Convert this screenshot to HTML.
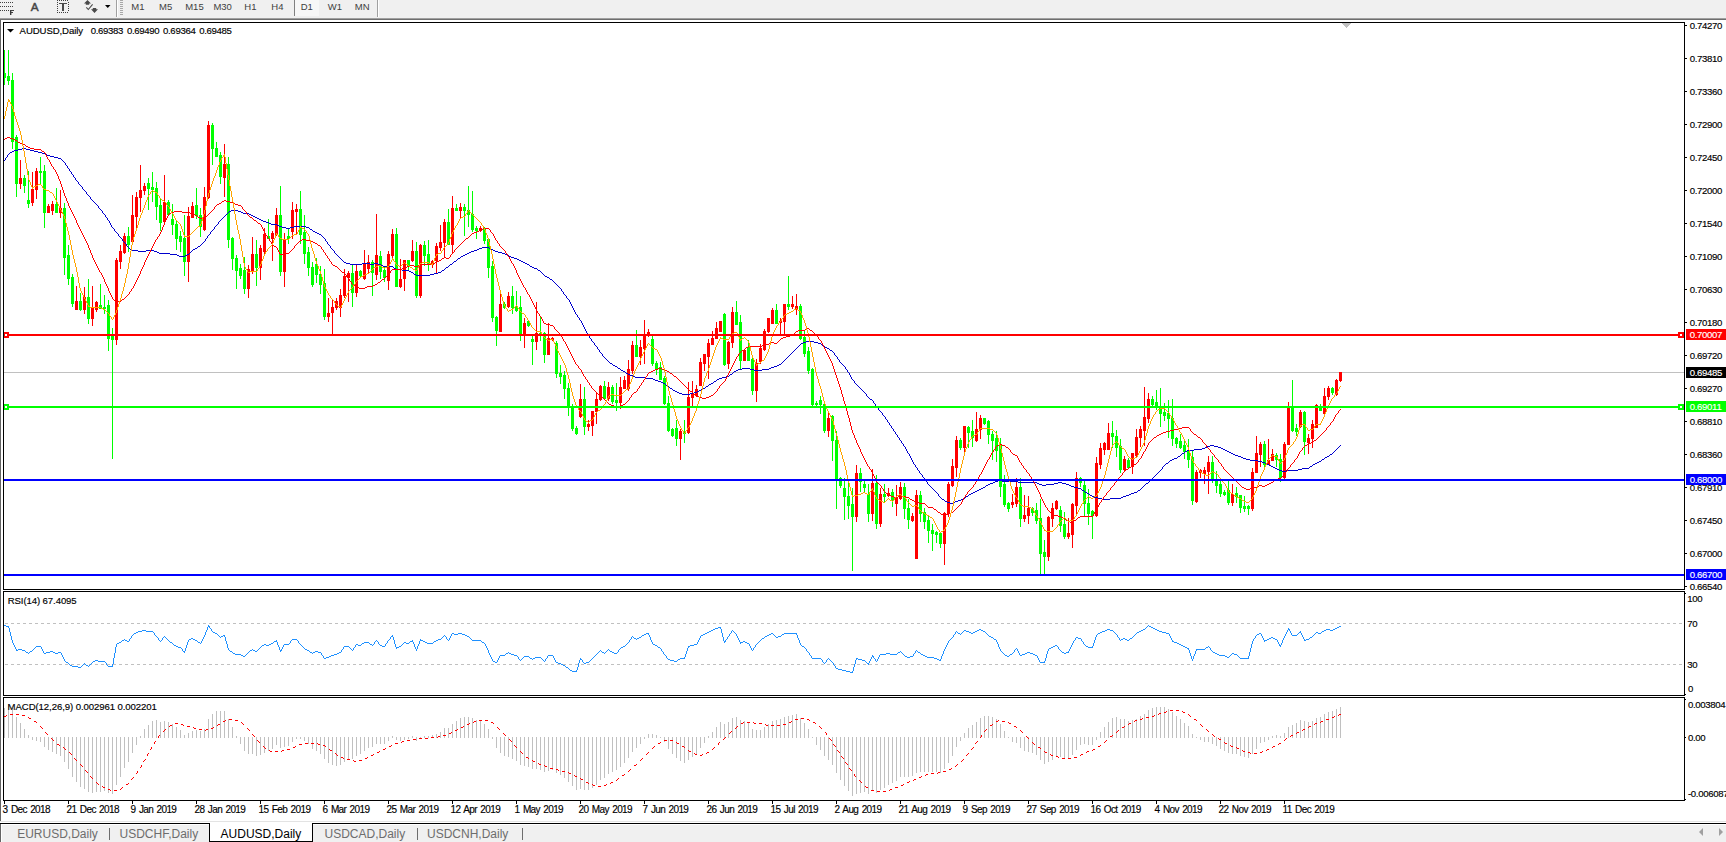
<!DOCTYPE html>
<html><head><meta charset="utf-8"><style>
html,body{margin:0;padding:0;background:#fff;}
body{width:1726px;height:842px;overflow:hidden;}
svg{display:block;font-family:"Liberation Sans",sans-serif;}
</style></head><body>
<svg width="1726" height="842" viewBox="0 0 1726 842">
<rect x="0" y="0" width="1726" height="18" fill="#f0f0f0"/>
<rect x="0" y="18" width="1726" height="1" fill="#a0a0a0"/>
<rect x="0" y="19" width="1726" height="1" fill="#6e6e6e"/>
<rect x="0" y="20" width="1726" height="801" fill="#ffffff"/>
<rect x="0" y="20" width="1" height="801" fill="#646464"/>
<rect x="0" y="821" width="1726" height="1" fill="#e3e3e3"/>
<rect x="0" y="822" width="1726" height="1" fill="#ffffff"/>
<rect x="0" y="823" width="1726" height="19" fill="#f0f0f0"/>
<rect x="0" y="823" width="1726" height="1" fill="#000000"/>
<rect x="0" y="824" width="1726" height="1" fill="#ffffff"/>
<rect x="0" y="824" width="1" height="18" fill="#646464"/>
<rect x="1" y="825" width="1" height="17" fill="#ffffff"/>
<rect x="3" y="22" width="1682" height="1" fill="#000"/>
<rect x="3" y="589" width="1682" height="1" fill="#000"/>
<rect x="3" y="22" width="1" height="568" fill="#000"/>
<rect x="1684" y="22" width="1" height="568" fill="#000"/>
<rect x="3" y="591" width="1682" height="1" fill="#000"/>
<rect x="3" y="695" width="1682" height="1" fill="#000"/>
<rect x="3" y="591" width="1" height="105" fill="#000"/>
<rect x="1684" y="591" width="1" height="105" fill="#000"/>
<rect x="3" y="697" width="1682" height="1" fill="#000"/>
<rect x="3" y="800" width="1682" height="1" fill="#000"/>
<rect x="3" y="697" width="1" height="104" fill="#000"/>
<rect x="1684" y="697" width="1" height="104" fill="#000"/>
<defs><clipPath id="cm"><rect x="4" y="23" width="1680" height="566"/></clipPath><clipPath id="cr"><rect x="4" y="592" width="1680" height="103"/></clipPath><clipPath id="cd"><rect x="4" y="698" width="1680" height="102"/></clipPath></defs>
<g clip-path="url(#cm)" shape-rendering="crispEdges">
<rect x="4" y="372" width="1680" height="1" fill="#c0c0c0"/>
<rect x="4" y="50" width="1" height="35" fill="#00ff00"/>
<rect x="3" y="73" width="3" height="5" fill="#00ff00"/>
<rect x="8" y="50" width="1" height="35" fill="#00ff00"/>
<rect x="7" y="76" width="3" height="5" fill="#00ff00"/>
<rect x="12" y="73" width="1" height="76" fill="#00ff00"/>
<rect x="11" y="80" width="3" height="62" fill="#00ff00"/>
<rect x="16" y="135" width="1" height="62" fill="#00ff00"/>
<rect x="15" y="137" width="3" height="47" fill="#00ff00"/>
<rect x="20" y="160" width="1" height="29" fill="#ff0000"/>
<rect x="19" y="178" width="3" height="6" fill="#ff0000"/>
<rect x="24" y="175" width="1" height="18" fill="#00ff00"/>
<rect x="23" y="178" width="3" height="8" fill="#00ff00"/>
<rect x="28" y="171" width="1" height="37" fill="#00ff00"/>
<rect x="27" y="200" width="3" height="4" fill="#00ff00"/>
<rect x="32" y="172" width="1" height="34" fill="#ff0000"/>
<rect x="31" y="189" width="3" height="14" fill="#ff0000"/>
<rect x="36" y="168" width="1" height="31" fill="#ff0000"/>
<rect x="35" y="171" width="3" height="19" fill="#ff0000"/>
<rect x="40" y="157" width="1" height="28" fill="#00ff00"/>
<rect x="39" y="171" width="3" height="2" fill="#00ff00"/>
<rect x="44" y="165" width="1" height="63" fill="#00ff00"/>
<rect x="43" y="171" width="3" height="42" fill="#00ff00"/>
<rect x="48" y="204" width="1" height="9" fill="#ff0000"/>
<rect x="47" y="206" width="3" height="7" fill="#ff0000"/>
<rect x="52" y="201" width="1" height="14" fill="#ff0000"/>
<rect x="51" y="204" width="3" height="7" fill="#ff0000"/>
<rect x="56" y="188" width="1" height="25" fill="#00ff00"/>
<rect x="55" y="204" width="3" height="9" fill="#00ff00"/>
<rect x="60" y="190" width="1" height="28" fill="#ff0000"/>
<rect x="59" y="208" width="3" height="5" fill="#ff0000"/>
<rect x="64" y="203" width="1" height="72" fill="#00ff00"/>
<rect x="63" y="208" width="3" height="50" fill="#00ff00"/>
<rect x="68" y="245" width="1" height="40" fill="#00ff00"/>
<rect x="67" y="255" width="3" height="24" fill="#00ff00"/>
<rect x="72" y="274" width="1" height="33" fill="#00ff00"/>
<rect x="71" y="277" width="3" height="27" fill="#00ff00"/>
<rect x="76" y="286" width="1" height="24" fill="#ff0000"/>
<rect x="75" y="301" width="3" height="9" fill="#ff0000"/>
<rect x="80" y="293" width="1" height="18" fill="#00ff00"/>
<rect x="79" y="301" width="3" height="9" fill="#00ff00"/>
<rect x="84" y="287" width="1" height="27" fill="#ff0000"/>
<rect x="83" y="297" width="3" height="13" fill="#ff0000"/>
<rect x="88" y="279" width="1" height="45" fill="#00ff00"/>
<rect x="87" y="297" width="3" height="22" fill="#00ff00"/>
<rect x="92" y="286" width="1" height="40" fill="#ff0000"/>
<rect x="91" y="308" width="3" height="11" fill="#ff0000"/>
<rect x="96" y="301" width="1" height="11" fill="#ff0000"/>
<rect x="95" y="302" width="3" height="8" fill="#ff0000"/>
<rect x="100" y="284" width="1" height="25" fill="#00ff00"/>
<rect x="99" y="305" width="3" height="4" fill="#00ff00"/>
<rect x="104" y="295" width="1" height="19" fill="#00ff00"/>
<rect x="103" y="307" width="3" height="2" fill="#00ff00"/>
<rect x="108" y="300" width="1" height="51" fill="#00ff00"/>
<rect x="107" y="305" width="3" height="34" fill="#00ff00"/>
<rect x="112" y="328" width="1" height="131" fill="#00ff00"/>
<rect x="111" y="335" width="3" height="5" fill="#00ff00"/>
<rect x="116" y="258" width="1" height="87" fill="#ff0000"/>
<rect x="115" y="260" width="3" height="80" fill="#ff0000"/>
<rect x="120" y="245" width="1" height="24" fill="#ff0000"/>
<rect x="119" y="251" width="3" height="11" fill="#ff0000"/>
<rect x="124" y="233" width="1" height="21" fill="#ff0000"/>
<rect x="123" y="236" width="3" height="17" fill="#ff0000"/>
<rect x="128" y="227" width="1" height="25" fill="#00ff00"/>
<rect x="127" y="236" width="3" height="9" fill="#00ff00"/>
<rect x="132" y="195" width="1" height="50" fill="#ff0000"/>
<rect x="131" y="215" width="3" height="27" fill="#ff0000"/>
<rect x="136" y="192" width="1" height="36" fill="#ff0000"/>
<rect x="135" y="197" width="3" height="20" fill="#ff0000"/>
<rect x="140" y="165" width="1" height="47" fill="#ff0000"/>
<rect x="139" y="190" width="3" height="8" fill="#ff0000"/>
<rect x="144" y="183" width="1" height="12" fill="#ff0000"/>
<rect x="143" y="186" width="3" height="5" fill="#ff0000"/>
<rect x="148" y="178" width="1" height="32" fill="#00ff00"/>
<rect x="147" y="183" width="3" height="6" fill="#00ff00"/>
<rect x="152" y="172" width="1" height="30" fill="#00ff00"/>
<rect x="151" y="187" width="3" height="3" fill="#00ff00"/>
<rect x="156" y="182" width="1" height="38" fill="#00ff00"/>
<rect x="155" y="188" width="3" height="19" fill="#00ff00"/>
<rect x="160" y="199" width="1" height="32" fill="#00ff00"/>
<rect x="159" y="205" width="3" height="18" fill="#00ff00"/>
<rect x="164" y="175" width="1" height="48" fill="#ff0000"/>
<rect x="163" y="202" width="3" height="20" fill="#ff0000"/>
<rect x="168" y="200" width="1" height="16" fill="#00ff00"/>
<rect x="167" y="202" width="3" height="13" fill="#00ff00"/>
<rect x="172" y="204" width="1" height="31" fill="#00ff00"/>
<rect x="171" y="219" width="3" height="6" fill="#00ff00"/>
<rect x="176" y="220" width="1" height="30" fill="#00ff00"/>
<rect x="175" y="224" width="3" height="15" fill="#00ff00"/>
<rect x="180" y="231" width="1" height="21" fill="#00ff00"/>
<rect x="179" y="236" width="3" height="6" fill="#00ff00"/>
<rect x="184" y="215" width="1" height="61" fill="#00ff00"/>
<rect x="183" y="238" width="3" height="24" fill="#00ff00"/>
<rect x="188" y="207" width="1" height="75" fill="#ff0000"/>
<rect x="187" y="216" width="3" height="46" fill="#ff0000"/>
<rect x="192" y="202" width="1" height="16" fill="#ff0000"/>
<rect x="191" y="206" width="3" height="12" fill="#ff0000"/>
<rect x="196" y="188" width="1" height="31" fill="#00ff00"/>
<rect x="195" y="205" width="3" height="11" fill="#00ff00"/>
<rect x="200" y="208" width="1" height="29" fill="#00ff00"/>
<rect x="199" y="215" width="3" height="12" fill="#00ff00"/>
<rect x="204" y="187" width="1" height="44" fill="#ff0000"/>
<rect x="203" y="197" width="3" height="33" fill="#ff0000"/>
<rect x="208" y="121" width="1" height="78" fill="#ff0000"/>
<rect x="207" y="125" width="3" height="73" fill="#ff0000"/>
<rect x="212" y="123" width="1" height="42" fill="#00ff00"/>
<rect x="211" y="125" width="3" height="24" fill="#00ff00"/>
<rect x="216" y="142" width="1" height="15" fill="#00ff00"/>
<rect x="215" y="148" width="3" height="9" fill="#00ff00"/>
<rect x="220" y="152" width="1" height="32" fill="#00ff00"/>
<rect x="219" y="155" width="3" height="22" fill="#00ff00"/>
<rect x="224" y="144" width="1" height="53" fill="#ff0000"/>
<rect x="223" y="164" width="3" height="14" fill="#ff0000"/>
<rect x="228" y="157" width="1" height="91" fill="#00ff00"/>
<rect x="227" y="164" width="3" height="76" fill="#00ff00"/>
<rect x="232" y="237" width="1" height="33" fill="#00ff00"/>
<rect x="231" y="238" width="3" height="21" fill="#00ff00"/>
<rect x="236" y="255" width="1" height="34" fill="#00ff00"/>
<rect x="235" y="258" width="3" height="13" fill="#00ff00"/>
<rect x="240" y="264" width="1" height="15" fill="#00ff00"/>
<rect x="239" y="268" width="3" height="8" fill="#00ff00"/>
<rect x="244" y="257" width="1" height="37" fill="#00ff00"/>
<rect x="243" y="270" width="3" height="19" fill="#00ff00"/>
<rect x="248" y="265" width="1" height="33" fill="#ff0000"/>
<rect x="247" y="269" width="3" height="20" fill="#ff0000"/>
<rect x="252" y="237" width="1" height="37" fill="#ff0000"/>
<rect x="251" y="254" width="3" height="18" fill="#ff0000"/>
<rect x="256" y="240" width="1" height="46" fill="#00ff00"/>
<rect x="255" y="254" width="3" height="14" fill="#00ff00"/>
<rect x="260" y="245" width="1" height="35" fill="#ff0000"/>
<rect x="259" y="248" width="3" height="20" fill="#ff0000"/>
<rect x="264" y="228" width="1" height="26" fill="#ff0000"/>
<rect x="263" y="234" width="3" height="18" fill="#ff0000"/>
<rect x="268" y="219" width="1" height="20" fill="#00ff00"/>
<rect x="267" y="236" width="3" height="3" fill="#00ff00"/>
<rect x="272" y="231" width="1" height="30" fill="#ff0000"/>
<rect x="271" y="233" width="3" height="6" fill="#ff0000"/>
<rect x="276" y="208" width="1" height="28" fill="#ff0000"/>
<rect x="275" y="215" width="3" height="20" fill="#ff0000"/>
<rect x="280" y="186" width="1" height="90" fill="#00ff00"/>
<rect x="279" y="215" width="3" height="57" fill="#00ff00"/>
<rect x="284" y="233" width="1" height="54" fill="#ff0000"/>
<rect x="283" y="239" width="3" height="33" fill="#ff0000"/>
<rect x="288" y="228" width="1" height="16" fill="#00ff00"/>
<rect x="287" y="236" width="3" height="3" fill="#00ff00"/>
<rect x="292" y="202" width="1" height="37" fill="#ff0000"/>
<rect x="291" y="210" width="3" height="22" fill="#ff0000"/>
<rect x="296" y="204" width="1" height="30" fill="#ff0000"/>
<rect x="295" y="209" width="3" height="3" fill="#ff0000"/>
<rect x="300" y="191" width="1" height="53" fill="#00ff00"/>
<rect x="299" y="209" width="3" height="26" fill="#00ff00"/>
<rect x="304" y="215" width="1" height="49" fill="#00ff00"/>
<rect x="303" y="232" width="3" height="22" fill="#00ff00"/>
<rect x="308" y="247" width="1" height="29" fill="#00ff00"/>
<rect x="307" y="252" width="3" height="16" fill="#00ff00"/>
<rect x="312" y="262" width="1" height="25" fill="#00ff00"/>
<rect x="311" y="267" width="3" height="18" fill="#00ff00"/>
<rect x="316" y="258" width="1" height="25" fill="#00ff00"/>
<rect x="315" y="264" width="3" height="11" fill="#00ff00"/>
<rect x="320" y="266" width="1" height="28" fill="#00ff00"/>
<rect x="319" y="274" width="3" height="11" fill="#00ff00"/>
<rect x="324" y="269" width="1" height="51" fill="#00ff00"/>
<rect x="323" y="283" width="3" height="34" fill="#00ff00"/>
<rect x="328" y="298" width="1" height="24" fill="#ff0000"/>
<rect x="327" y="313" width="3" height="4" fill="#ff0000"/>
<rect x="332" y="300" width="1" height="35" fill="#ff0000"/>
<rect x="331" y="307" width="3" height="6" fill="#ff0000"/>
<rect x="336" y="298" width="1" height="12" fill="#ff0000"/>
<rect x="335" y="301" width="3" height="7" fill="#ff0000"/>
<rect x="340" y="289" width="1" height="28" fill="#ff0000"/>
<rect x="339" y="295" width="3" height="13" fill="#ff0000"/>
<rect x="344" y="269" width="1" height="29" fill="#ff0000"/>
<rect x="343" y="276" width="3" height="20" fill="#ff0000"/>
<rect x="348" y="271" width="1" height="31" fill="#ff0000"/>
<rect x="347" y="273" width="3" height="5" fill="#ff0000"/>
<rect x="352" y="265" width="1" height="42" fill="#00ff00"/>
<rect x="351" y="273" width="3" height="20" fill="#00ff00"/>
<rect x="356" y="265" width="1" height="32" fill="#ff0000"/>
<rect x="355" y="271" width="3" height="22" fill="#ff0000"/>
<rect x="360" y="270" width="1" height="7" fill="#00ff00"/>
<rect x="359" y="271" width="3" height="5" fill="#00ff00"/>
<rect x="364" y="250" width="1" height="30" fill="#ff0000"/>
<rect x="363" y="264" width="3" height="15" fill="#ff0000"/>
<rect x="368" y="255" width="1" height="18" fill="#ff0000"/>
<rect x="367" y="262" width="3" height="7" fill="#ff0000"/>
<rect x="372" y="260" width="1" height="36" fill="#00ff00"/>
<rect x="371" y="262" width="3" height="11" fill="#00ff00"/>
<rect x="376" y="214" width="1" height="66" fill="#ff0000"/>
<rect x="375" y="255" width="3" height="20" fill="#ff0000"/>
<rect x="380" y="251" width="1" height="28" fill="#00ff00"/>
<rect x="379" y="256" width="3" height="16" fill="#00ff00"/>
<rect x="384" y="267" width="1" height="15" fill="#00ff00"/>
<rect x="383" y="270" width="3" height="8" fill="#00ff00"/>
<rect x="388" y="251" width="1" height="39" fill="#ff0000"/>
<rect x="387" y="254" width="3" height="27" fill="#ff0000"/>
<rect x="392" y="229" width="1" height="30" fill="#ff0000"/>
<rect x="391" y="234" width="3" height="22" fill="#ff0000"/>
<rect x="396" y="228" width="1" height="59" fill="#00ff00"/>
<rect x="395" y="234" width="3" height="53" fill="#00ff00"/>
<rect x="400" y="259" width="1" height="29" fill="#ff0000"/>
<rect x="399" y="279" width="3" height="8" fill="#ff0000"/>
<rect x="404" y="260" width="1" height="31" fill="#ff0000"/>
<rect x="403" y="260" width="3" height="19" fill="#ff0000"/>
<rect x="408" y="260" width="1" height="10" fill="#00ff00"/>
<rect x="407" y="260" width="3" height="6" fill="#00ff00"/>
<rect x="412" y="240" width="1" height="22" fill="#ff0000"/>
<rect x="411" y="251" width="3" height="10" fill="#ff0000"/>
<rect x="416" y="242" width="1" height="56" fill="#00ff00"/>
<rect x="415" y="251" width="3" height="45" fill="#00ff00"/>
<rect x="420" y="244" width="1" height="54" fill="#ff0000"/>
<rect x="419" y="245" width="3" height="51" fill="#ff0000"/>
<rect x="424" y="241" width="1" height="25" fill="#00ff00"/>
<rect x="423" y="245" width="3" height="11" fill="#00ff00"/>
<rect x="428" y="240" width="1" height="31" fill="#00ff00"/>
<rect x="427" y="254" width="3" height="10" fill="#00ff00"/>
<rect x="432" y="260" width="1" height="8" fill="#ff0000"/>
<rect x="431" y="261" width="3" height="4" fill="#ff0000"/>
<rect x="436" y="243" width="1" height="30" fill="#ff0000"/>
<rect x="435" y="246" width="3" height="15" fill="#ff0000"/>
<rect x="440" y="225" width="1" height="26" fill="#ff0000"/>
<rect x="439" y="242" width="3" height="6" fill="#ff0000"/>
<rect x="444" y="219" width="1" height="39" fill="#ff0000"/>
<rect x="443" y="222" width="3" height="21" fill="#ff0000"/>
<rect x="448" y="209" width="1" height="36" fill="#00ff00"/>
<rect x="447" y="222" width="3" height="23" fill="#00ff00"/>
<rect x="452" y="196" width="1" height="57" fill="#ff0000"/>
<rect x="451" y="208" width="3" height="37" fill="#ff0000"/>
<rect x="456" y="204" width="1" height="7" fill="#00ff00"/>
<rect x="455" y="208" width="3" height="3" fill="#00ff00"/>
<rect x="460" y="203" width="1" height="16" fill="#ff0000"/>
<rect x="459" y="207" width="3" height="4" fill="#ff0000"/>
<rect x="464" y="204" width="1" height="32" fill="#00ff00"/>
<rect x="463" y="207" width="3" height="4" fill="#00ff00"/>
<rect x="468" y="186" width="1" height="41" fill="#00ff00"/>
<rect x="467" y="210" width="3" height="5" fill="#00ff00"/>
<rect x="472" y="191" width="1" height="41" fill="#00ff00"/>
<rect x="471" y="214" width="3" height="16" fill="#00ff00"/>
<rect x="476" y="226" width="1" height="13" fill="#00ff00"/>
<rect x="475" y="228" width="3" height="3" fill="#00ff00"/>
<rect x="480" y="226" width="1" height="6" fill="#ff0000"/>
<rect x="479" y="228" width="3" height="3" fill="#ff0000"/>
<rect x="484" y="227" width="1" height="17" fill="#00ff00"/>
<rect x="483" y="228" width="3" height="13" fill="#00ff00"/>
<rect x="488" y="238" width="1" height="40" fill="#00ff00"/>
<rect x="487" y="239" width="3" height="29" fill="#00ff00"/>
<rect x="492" y="261" width="1" height="61" fill="#00ff00"/>
<rect x="491" y="266" width="3" height="52" fill="#00ff00"/>
<rect x="496" y="316" width="1" height="30" fill="#00ff00"/>
<rect x="495" y="317" width="3" height="14" fill="#00ff00"/>
<rect x="500" y="292" width="1" height="40" fill="#ff0000"/>
<rect x="499" y="304" width="3" height="28" fill="#ff0000"/>
<rect x="504" y="302" width="1" height="7" fill="#00ff00"/>
<rect x="503" y="304" width="3" height="4" fill="#00ff00"/>
<rect x="508" y="292" width="1" height="16" fill="#ff0000"/>
<rect x="507" y="296" width="3" height="11" fill="#ff0000"/>
<rect x="512" y="286" width="1" height="28" fill="#00ff00"/>
<rect x="511" y="296" width="3" height="12" fill="#00ff00"/>
<rect x="516" y="291" width="1" height="21" fill="#00ff00"/>
<rect x="515" y="306" width="3" height="5" fill="#00ff00"/>
<rect x="520" y="296" width="1" height="45" fill="#00ff00"/>
<rect x="519" y="307" width="3" height="29" fill="#00ff00"/>
<rect x="524" y="318" width="1" height="30" fill="#ff0000"/>
<rect x="523" y="323" width="3" height="13" fill="#ff0000"/>
<rect x="528" y="320" width="1" height="7" fill="#00ff00"/>
<rect x="527" y="321" width="3" height="5" fill="#00ff00"/>
<rect x="532" y="336" width="1" height="29" fill="#00ff00"/>
<rect x="531" y="339" width="3" height="3" fill="#00ff00"/>
<rect x="536" y="302" width="1" height="48" fill="#ff0000"/>
<rect x="535" y="333" width="3" height="9" fill="#ff0000"/>
<rect x="540" y="316" width="1" height="25" fill="#00ff00"/>
<rect x="539" y="333" width="3" height="3" fill="#00ff00"/>
<rect x="544" y="332" width="1" height="31" fill="#00ff00"/>
<rect x="543" y="333" width="3" height="22" fill="#00ff00"/>
<rect x="548" y="323" width="1" height="32" fill="#ff0000"/>
<rect x="547" y="338" width="3" height="17" fill="#ff0000"/>
<rect x="552" y="337" width="1" height="4" fill="#ff0000"/>
<rect x="551" y="338" width="3" height="2" fill="#ff0000"/>
<rect x="556" y="341" width="1" height="37" fill="#00ff00"/>
<rect x="555" y="343" width="3" height="31" fill="#00ff00"/>
<rect x="560" y="365" width="1" height="19" fill="#00ff00"/>
<rect x="559" y="373" width="3" height="4" fill="#00ff00"/>
<rect x="564" y="371" width="1" height="28" fill="#00ff00"/>
<rect x="563" y="375" width="3" height="14" fill="#00ff00"/>
<rect x="568" y="383" width="1" height="33" fill="#00ff00"/>
<rect x="567" y="388" width="3" height="19" fill="#00ff00"/>
<rect x="572" y="404" width="1" height="27" fill="#00ff00"/>
<rect x="571" y="406" width="3" height="23" fill="#00ff00"/>
<rect x="576" y="426" width="1" height="9" fill="#00ff00"/>
<rect x="575" y="428" width="3" height="6" fill="#00ff00"/>
<rect x="580" y="384" width="1" height="34" fill="#ff0000"/>
<rect x="579" y="399" width="3" height="18" fill="#ff0000"/>
<rect x="584" y="387" width="1" height="48" fill="#00ff00"/>
<rect x="583" y="399" width="3" height="28" fill="#00ff00"/>
<rect x="588" y="420" width="1" height="11" fill="#ff0000"/>
<rect x="587" y="424" width="3" height="3" fill="#ff0000"/>
<rect x="592" y="411" width="1" height="25" fill="#ff0000"/>
<rect x="591" y="411" width="3" height="15" fill="#ff0000"/>
<rect x="596" y="393" width="1" height="31" fill="#ff0000"/>
<rect x="595" y="399" width="3" height="13" fill="#ff0000"/>
<rect x="600" y="385" width="1" height="16" fill="#ff0000"/>
<rect x="599" y="386" width="3" height="14" fill="#ff0000"/>
<rect x="604" y="381" width="1" height="19" fill="#00ff00"/>
<rect x="603" y="386" width="3" height="13" fill="#00ff00"/>
<rect x="608" y="382" width="1" height="19" fill="#ff0000"/>
<rect x="607" y="387" width="3" height="12" fill="#ff0000"/>
<rect x="612" y="385" width="1" height="19" fill="#00ff00"/>
<rect x="611" y="387" width="3" height="15" fill="#00ff00"/>
<rect x="616" y="383" width="1" height="28" fill="#00ff00"/>
<rect x="615" y="400" width="3" height="3" fill="#00ff00"/>
<rect x="620" y="377" width="1" height="32" fill="#ff0000"/>
<rect x="619" y="387" width="3" height="16" fill="#ff0000"/>
<rect x="624" y="376" width="1" height="13" fill="#ff0000"/>
<rect x="623" y="380" width="3" height="9" fill="#ff0000"/>
<rect x="628" y="360" width="1" height="31" fill="#ff0000"/>
<rect x="627" y="369" width="3" height="20" fill="#ff0000"/>
<rect x="632" y="341" width="1" height="33" fill="#ff0000"/>
<rect x="631" y="345" width="3" height="26" fill="#ff0000"/>
<rect x="636" y="330" width="1" height="27" fill="#00ff00"/>
<rect x="635" y="345" width="3" height="12" fill="#00ff00"/>
<rect x="640" y="340" width="1" height="25" fill="#ff0000"/>
<rect x="639" y="347" width="3" height="10" fill="#ff0000"/>
<rect x="644" y="320" width="1" height="44" fill="#ff0000"/>
<rect x="643" y="336" width="3" height="13" fill="#ff0000"/>
<rect x="648" y="329" width="1" height="8" fill="#ff0000"/>
<rect x="647" y="332" width="3" height="4" fill="#ff0000"/>
<rect x="652" y="336" width="1" height="30" fill="#00ff00"/>
<rect x="651" y="339" width="3" height="25" fill="#00ff00"/>
<rect x="656" y="361" width="1" height="14" fill="#00ff00"/>
<rect x="655" y="363" width="3" height="7" fill="#00ff00"/>
<rect x="660" y="362" width="1" height="18" fill="#00ff00"/>
<rect x="659" y="367" width="3" height="13" fill="#00ff00"/>
<rect x="664" y="376" width="1" height="29" fill="#00ff00"/>
<rect x="663" y="378" width="3" height="26" fill="#00ff00"/>
<rect x="668" y="396" width="1" height="36" fill="#00ff00"/>
<rect x="667" y="403" width="3" height="28" fill="#00ff00"/>
<rect x="672" y="428" width="1" height="9" fill="#00ff00"/>
<rect x="671" y="429" width="3" height="7" fill="#00ff00"/>
<rect x="676" y="420" width="1" height="26" fill="#00ff00"/>
<rect x="675" y="428" width="3" height="11" fill="#00ff00"/>
<rect x="680" y="429" width="1" height="31" fill="#ff0000"/>
<rect x="679" y="431" width="3" height="8" fill="#ff0000"/>
<rect x="684" y="420" width="1" height="23" fill="#00ff00"/>
<rect x="683" y="431" width="3" height="3" fill="#00ff00"/>
<rect x="688" y="382" width="1" height="52" fill="#ff0000"/>
<rect x="687" y="397" width="3" height="36" fill="#ff0000"/>
<rect x="692" y="381" width="1" height="26" fill="#ff0000"/>
<rect x="691" y="394" width="3" height="4" fill="#ff0000"/>
<rect x="696" y="385" width="1" height="12" fill="#ff0000"/>
<rect x="695" y="389" width="3" height="7" fill="#ff0000"/>
<rect x="700" y="358" width="1" height="28" fill="#ff0000"/>
<rect x="699" y="362" width="3" height="24" fill="#ff0000"/>
<rect x="704" y="354" width="1" height="17" fill="#ff0000"/>
<rect x="703" y="354" width="3" height="10" fill="#ff0000"/>
<rect x="708" y="339" width="1" height="40" fill="#ff0000"/>
<rect x="707" y="343" width="3" height="14" fill="#ff0000"/>
<rect x="712" y="331" width="1" height="14" fill="#ff0000"/>
<rect x="711" y="338" width="3" height="7" fill="#ff0000"/>
<rect x="716" y="322" width="1" height="17" fill="#ff0000"/>
<rect x="715" y="328" width="3" height="11" fill="#ff0000"/>
<rect x="720" y="321" width="1" height="11" fill="#ff0000"/>
<rect x="719" y="321" width="3" height="11" fill="#ff0000"/>
<rect x="724" y="313" width="1" height="53" fill="#00ff00"/>
<rect x="723" y="314" width="3" height="51" fill="#00ff00"/>
<rect x="728" y="341" width="1" height="28" fill="#ff0000"/>
<rect x="727" y="342" width="3" height="22" fill="#ff0000"/>
<rect x="732" y="307" width="1" height="41" fill="#ff0000"/>
<rect x="731" y="312" width="3" height="31" fill="#ff0000"/>
<rect x="736" y="301" width="1" height="24" fill="#00ff00"/>
<rect x="735" y="312" width="3" height="13" fill="#00ff00"/>
<rect x="740" y="315" width="1" height="54" fill="#00ff00"/>
<rect x="739" y="322" width="3" height="39" fill="#00ff00"/>
<rect x="744" y="350" width="1" height="11" fill="#ff0000"/>
<rect x="743" y="350" width="3" height="11" fill="#ff0000"/>
<rect x="748" y="340" width="1" height="21" fill="#00ff00"/>
<rect x="747" y="347" width="3" height="14" fill="#00ff00"/>
<rect x="752" y="358" width="1" height="37" fill="#00ff00"/>
<rect x="751" y="359" width="3" height="32" fill="#00ff00"/>
<rect x="756" y="359" width="1" height="43" fill="#ff0000"/>
<rect x="755" y="363" width="3" height="28" fill="#ff0000"/>
<rect x="760" y="344" width="1" height="20" fill="#ff0000"/>
<rect x="759" y="348" width="3" height="14" fill="#ff0000"/>
<rect x="764" y="329" width="1" height="22" fill="#ff0000"/>
<rect x="763" y="331" width="3" height="19" fill="#ff0000"/>
<rect x="768" y="318" width="1" height="15" fill="#ff0000"/>
<rect x="767" y="318" width="3" height="14" fill="#ff0000"/>
<rect x="772" y="308" width="1" height="16" fill="#ff0000"/>
<rect x="771" y="310" width="3" height="14" fill="#ff0000"/>
<rect x="776" y="304" width="1" height="20" fill="#00ff00"/>
<rect x="775" y="310" width="3" height="14" fill="#00ff00"/>
<rect x="780" y="318" width="1" height="16" fill="#ff0000"/>
<rect x="779" y="321" width="3" height="2" fill="#ff0000"/>
<rect x="784" y="304" width="1" height="30" fill="#ff0000"/>
<rect x="783" y="304" width="3" height="18" fill="#ff0000"/>
<rect x="788" y="276" width="1" height="34" fill="#00ff00"/>
<rect x="787" y="304" width="3" height="3" fill="#00ff00"/>
<rect x="792" y="296" width="1" height="13" fill="#ff0000"/>
<rect x="791" y="304" width="3" height="3" fill="#ff0000"/>
<rect x="796" y="294" width="1" height="21" fill="#ff0000"/>
<rect x="795" y="306" width="3" height="3" fill="#ff0000"/>
<rect x="800" y="304" width="1" height="36" fill="#00ff00"/>
<rect x="799" y="306" width="3" height="33" fill="#00ff00"/>
<rect x="804" y="330" width="1" height="27" fill="#00ff00"/>
<rect x="803" y="337" width="3" height="17" fill="#00ff00"/>
<rect x="808" y="347" width="1" height="27" fill="#00ff00"/>
<rect x="807" y="351" width="3" height="20" fill="#00ff00"/>
<rect x="812" y="368" width="1" height="39" fill="#00ff00"/>
<rect x="811" y="369" width="3" height="36" fill="#00ff00"/>
<rect x="816" y="401" width="1" height="6" fill="#00ff00"/>
<rect x="815" y="403" width="3" height="2" fill="#00ff00"/>
<rect x="820" y="396" width="1" height="18" fill="#00ff00"/>
<rect x="819" y="400" width="3" height="5" fill="#00ff00"/>
<rect x="824" y="403" width="1" height="30" fill="#00ff00"/>
<rect x="823" y="404" width="3" height="27" fill="#00ff00"/>
<rect x="828" y="412" width="1" height="25" fill="#ff0000"/>
<rect x="827" y="418" width="3" height="13" fill="#ff0000"/>
<rect x="832" y="415" width="1" height="46" fill="#00ff00"/>
<rect x="831" y="416" width="3" height="25" fill="#00ff00"/>
<rect x="836" y="431" width="1" height="78" fill="#00ff00"/>
<rect x="835" y="440" width="3" height="39" fill="#00ff00"/>
<rect x="840" y="477" width="1" height="11" fill="#00ff00"/>
<rect x="839" y="478" width="3" height="8" fill="#00ff00"/>
<rect x="844" y="478" width="1" height="42" fill="#00ff00"/>
<rect x="843" y="488" width="3" height="9" fill="#00ff00"/>
<rect x="848" y="482" width="1" height="37" fill="#00ff00"/>
<rect x="847" y="496" width="3" height="10" fill="#00ff00"/>
<rect x="852" y="488" width="1" height="83" fill="#00ff00"/>
<rect x="851" y="504" width="3" height="13" fill="#00ff00"/>
<rect x="856" y="465" width="1" height="57" fill="#ff0000"/>
<rect x="855" y="473" width="3" height="44" fill="#ff0000"/>
<rect x="860" y="468" width="1" height="24" fill="#00ff00"/>
<rect x="859" y="473" width="3" height="9" fill="#00ff00"/>
<rect x="864" y="481" width="1" height="11" fill="#00ff00"/>
<rect x="863" y="484" width="3" height="4" fill="#00ff00"/>
<rect x="868" y="484" width="1" height="38" fill="#00ff00"/>
<rect x="867" y="494" width="3" height="20" fill="#00ff00"/>
<rect x="872" y="469" width="1" height="52" fill="#ff0000"/>
<rect x="871" y="483" width="3" height="31" fill="#ff0000"/>
<rect x="876" y="475" width="1" height="54" fill="#00ff00"/>
<rect x="875" y="483" width="3" height="41" fill="#00ff00"/>
<rect x="880" y="488" width="1" height="39" fill="#ff0000"/>
<rect x="879" y="494" width="3" height="30" fill="#ff0000"/>
<rect x="884" y="484" width="1" height="18" fill="#00ff00"/>
<rect x="883" y="494" width="3" height="3" fill="#00ff00"/>
<rect x="888" y="488" width="1" height="9" fill="#ff0000"/>
<rect x="887" y="493" width="3" height="3" fill="#ff0000"/>
<rect x="892" y="489" width="1" height="18" fill="#00ff00"/>
<rect x="891" y="492" width="3" height="9" fill="#00ff00"/>
<rect x="896" y="485" width="1" height="31" fill="#ff0000"/>
<rect x="895" y="497" width="3" height="7" fill="#ff0000"/>
<rect x="900" y="482" width="1" height="18" fill="#ff0000"/>
<rect x="899" y="487" width="3" height="12" fill="#ff0000"/>
<rect x="904" y="483" width="1" height="36" fill="#00ff00"/>
<rect x="903" y="487" width="3" height="22" fill="#00ff00"/>
<rect x="908" y="499" width="1" height="30" fill="#00ff00"/>
<rect x="907" y="508" width="3" height="12" fill="#00ff00"/>
<rect x="912" y="513" width="1" height="9" fill="#ff0000"/>
<rect x="911" y="516" width="3" height="5" fill="#ff0000"/>
<rect x="916" y="490" width="1" height="69" fill="#ff0000"/>
<rect x="915" y="495" width="3" height="64" fill="#ff0000"/>
<rect x="920" y="491" width="1" height="31" fill="#00ff00"/>
<rect x="919" y="495" width="3" height="19" fill="#00ff00"/>
<rect x="924" y="508" width="1" height="21" fill="#00ff00"/>
<rect x="923" y="512" width="3" height="10" fill="#00ff00"/>
<rect x="928" y="516" width="1" height="27" fill="#00ff00"/>
<rect x="927" y="520" width="3" height="11" fill="#00ff00"/>
<rect x="932" y="524" width="1" height="27" fill="#00ff00"/>
<rect x="931" y="530" width="3" height="4" fill="#00ff00"/>
<rect x="936" y="531" width="1" height="12" fill="#00ff00"/>
<rect x="935" y="532" width="3" height="3" fill="#00ff00"/>
<rect x="940" y="532" width="1" height="16" fill="#00ff00"/>
<rect x="939" y="533" width="3" height="11" fill="#00ff00"/>
<rect x="944" y="512" width="1" height="53" fill="#ff0000"/>
<rect x="943" y="513" width="3" height="31" fill="#ff0000"/>
<rect x="948" y="482" width="1" height="35" fill="#ff0000"/>
<rect x="947" y="484" width="3" height="30" fill="#ff0000"/>
<rect x="952" y="459" width="1" height="28" fill="#ff0000"/>
<rect x="951" y="466" width="3" height="20" fill="#ff0000"/>
<rect x="956" y="436" width="1" height="41" fill="#ff0000"/>
<rect x="955" y="440" width="3" height="28" fill="#ff0000"/>
<rect x="960" y="438" width="1" height="12" fill="#00ff00"/>
<rect x="959" y="440" width="3" height="8" fill="#00ff00"/>
<rect x="964" y="426" width="1" height="26" fill="#ff0000"/>
<rect x="963" y="426" width="3" height="22" fill="#ff0000"/>
<rect x="968" y="426" width="1" height="22" fill="#00ff00"/>
<rect x="967" y="427" width="3" height="6" fill="#00ff00"/>
<rect x="972" y="420" width="1" height="27" fill="#00ff00"/>
<rect x="971" y="431" width="3" height="7" fill="#00ff00"/>
<rect x="976" y="412" width="1" height="30" fill="#ff0000"/>
<rect x="975" y="429" width="3" height="12" fill="#ff0000"/>
<rect x="980" y="415" width="1" height="24" fill="#ff0000"/>
<rect x="979" y="418" width="3" height="12" fill="#ff0000"/>
<rect x="984" y="418" width="1" height="7" fill="#00ff00"/>
<rect x="983" y="418" width="3" height="6" fill="#00ff00"/>
<rect x="988" y="420" width="1" height="24" fill="#00ff00"/>
<rect x="987" y="421" width="3" height="14" fill="#00ff00"/>
<rect x="992" y="431" width="1" height="29" fill="#00ff00"/>
<rect x="991" y="434" width="3" height="7" fill="#00ff00"/>
<rect x="996" y="431" width="1" height="31" fill="#00ff00"/>
<rect x="995" y="438" width="3" height="13" fill="#00ff00"/>
<rect x="1000" y="438" width="1" height="59" fill="#00ff00"/>
<rect x="999" y="444" width="3" height="43" fill="#00ff00"/>
<rect x="1004" y="475" width="1" height="32" fill="#00ff00"/>
<rect x="1003" y="484" width="3" height="21" fill="#00ff00"/>
<rect x="1008" y="502" width="1" height="10" fill="#00ff00"/>
<rect x="1007" y="503" width="3" height="6" fill="#00ff00"/>
<rect x="1012" y="494" width="1" height="14" fill="#ff0000"/>
<rect x="1011" y="502" width="3" height="3" fill="#ff0000"/>
<rect x="1016" y="478" width="1" height="29" fill="#ff0000"/>
<rect x="1015" y="487" width="3" height="17" fill="#ff0000"/>
<rect x="1020" y="478" width="1" height="49" fill="#00ff00"/>
<rect x="1019" y="487" width="3" height="32" fill="#00ff00"/>
<rect x="1024" y="495" width="1" height="27" fill="#ff0000"/>
<rect x="1023" y="515" width="3" height="4" fill="#ff0000"/>
<rect x="1028" y="496" width="1" height="28" fill="#ff0000"/>
<rect x="1027" y="508" width="3" height="8" fill="#ff0000"/>
<rect x="1032" y="507" width="1" height="9" fill="#00ff00"/>
<rect x="1031" y="508" width="3" height="5" fill="#00ff00"/>
<rect x="1036" y="503" width="1" height="21" fill="#00ff00"/>
<rect x="1035" y="510" width="3" height="11" fill="#00ff00"/>
<rect x="1040" y="499" width="1" height="76" fill="#00ff00"/>
<rect x="1039" y="518" width="3" height="36" fill="#00ff00"/>
<rect x="1044" y="540" width="1" height="35" fill="#00ff00"/>
<rect x="1043" y="552" width="3" height="5" fill="#00ff00"/>
<rect x="1048" y="516" width="1" height="45" fill="#ff0000"/>
<rect x="1047" y="517" width="3" height="40" fill="#ff0000"/>
<rect x="1052" y="503" width="1" height="24" fill="#ff0000"/>
<rect x="1051" y="508" width="3" height="11" fill="#ff0000"/>
<rect x="1056" y="500" width="1" height="10" fill="#ff0000"/>
<rect x="1055" y="501" width="3" height="8" fill="#ff0000"/>
<rect x="1060" y="506" width="1" height="26" fill="#00ff00"/>
<rect x="1059" y="510" width="3" height="16" fill="#00ff00"/>
<rect x="1064" y="512" width="1" height="27" fill="#00ff00"/>
<rect x="1063" y="524" width="3" height="13" fill="#00ff00"/>
<rect x="1068" y="518" width="1" height="21" fill="#ff0000"/>
<rect x="1067" y="533" width="3" height="4" fill="#ff0000"/>
<rect x="1072" y="503" width="1" height="45" fill="#ff0000"/>
<rect x="1071" y="504" width="3" height="31" fill="#ff0000"/>
<rect x="1076" y="472" width="1" height="42" fill="#ff0000"/>
<rect x="1075" y="478" width="3" height="28" fill="#ff0000"/>
<rect x="1080" y="477" width="1" height="10" fill="#00ff00"/>
<rect x="1079" y="478" width="3" height="5" fill="#00ff00"/>
<rect x="1084" y="480" width="1" height="37" fill="#00ff00"/>
<rect x="1083" y="485" width="3" height="19" fill="#00ff00"/>
<rect x="1088" y="489" width="1" height="36" fill="#00ff00"/>
<rect x="1087" y="503" width="3" height="11" fill="#00ff00"/>
<rect x="1092" y="510" width="1" height="29" fill="#00ff00"/>
<rect x="1091" y="511" width="3" height="5" fill="#00ff00"/>
<rect x="1096" y="457" width="1" height="60" fill="#ff0000"/>
<rect x="1095" y="463" width="3" height="53" fill="#ff0000"/>
<rect x="1100" y="443" width="1" height="26" fill="#ff0000"/>
<rect x="1099" y="448" width="3" height="17" fill="#ff0000"/>
<rect x="1104" y="442" width="1" height="13" fill="#ff0000"/>
<rect x="1103" y="443" width="3" height="7" fill="#ff0000"/>
<rect x="1108" y="423" width="1" height="27" fill="#ff0000"/>
<rect x="1107" y="433" width="3" height="17" fill="#ff0000"/>
<rect x="1112" y="421" width="1" height="27" fill="#00ff00"/>
<rect x="1111" y="433" width="3" height="4" fill="#00ff00"/>
<rect x="1116" y="430" width="1" height="27" fill="#00ff00"/>
<rect x="1115" y="436" width="3" height="12" fill="#00ff00"/>
<rect x="1120" y="439" width="1" height="34" fill="#00ff00"/>
<rect x="1119" y="446" width="3" height="24" fill="#00ff00"/>
<rect x="1124" y="456" width="1" height="15" fill="#ff0000"/>
<rect x="1123" y="459" width="3" height="11" fill="#ff0000"/>
<rect x="1128" y="458" width="1" height="11" fill="#00ff00"/>
<rect x="1127" y="460" width="3" height="8" fill="#00ff00"/>
<rect x="1132" y="453" width="1" height="21" fill="#ff0000"/>
<rect x="1131" y="453" width="3" height="14" fill="#ff0000"/>
<rect x="1136" y="429" width="1" height="28" fill="#ff0000"/>
<rect x="1135" y="437" width="3" height="19" fill="#ff0000"/>
<rect x="1140" y="426" width="1" height="21" fill="#ff0000"/>
<rect x="1139" y="429" width="3" height="9" fill="#ff0000"/>
<rect x="1144" y="387" width="1" height="59" fill="#ff0000"/>
<rect x="1143" y="417" width="3" height="14" fill="#ff0000"/>
<rect x="1148" y="393" width="1" height="30" fill="#ff0000"/>
<rect x="1147" y="399" width="3" height="20" fill="#ff0000"/>
<rect x="1152" y="396" width="1" height="10" fill="#00ff00"/>
<rect x="1151" y="399" width="3" height="6" fill="#00ff00"/>
<rect x="1156" y="390" width="1" height="20" fill="#00ff00"/>
<rect x="1155" y="402" width="3" height="6" fill="#00ff00"/>
<rect x="1160" y="388" width="1" height="39" fill="#00ff00"/>
<rect x="1159" y="408" width="3" height="6" fill="#00ff00"/>
<rect x="1164" y="403" width="1" height="18" fill="#00ff00"/>
<rect x="1163" y="412" width="3" height="4" fill="#00ff00"/>
<rect x="1168" y="400" width="1" height="38" fill="#00ff00"/>
<rect x="1167" y="413" width="3" height="6" fill="#00ff00"/>
<rect x="1172" y="399" width="1" height="47" fill="#00ff00"/>
<rect x="1171" y="418" width="3" height="21" fill="#00ff00"/>
<rect x="1176" y="437" width="1" height="11" fill="#00ff00"/>
<rect x="1175" y="438" width="3" height="6" fill="#00ff00"/>
<rect x="1180" y="434" width="1" height="15" fill="#00ff00"/>
<rect x="1179" y="441" width="3" height="7" fill="#00ff00"/>
<rect x="1184" y="440" width="1" height="19" fill="#00ff00"/>
<rect x="1183" y="445" width="3" height="7" fill="#00ff00"/>
<rect x="1188" y="439" width="1" height="29" fill="#00ff00"/>
<rect x="1187" y="450" width="3" height="10" fill="#00ff00"/>
<rect x="1192" y="451" width="1" height="54" fill="#00ff00"/>
<rect x="1191" y="457" width="3" height="44" fill="#00ff00"/>
<rect x="1196" y="470" width="1" height="33" fill="#ff0000"/>
<rect x="1195" y="472" width="3" height="30" fill="#ff0000"/>
<rect x="1200" y="469" width="1" height="9" fill="#ff0000"/>
<rect x="1199" y="470" width="3" height="3" fill="#ff0000"/>
<rect x="1204" y="467" width="1" height="17" fill="#ff0000"/>
<rect x="1203" y="470" width="3" height="4" fill="#ff0000"/>
<rect x="1208" y="456" width="1" height="38" fill="#ff0000"/>
<rect x="1207" y="462" width="3" height="10" fill="#ff0000"/>
<rect x="1212" y="456" width="1" height="27" fill="#00ff00"/>
<rect x="1211" y="462" width="3" height="18" fill="#00ff00"/>
<rect x="1216" y="471" width="1" height="22" fill="#00ff00"/>
<rect x="1215" y="479" width="3" height="7" fill="#00ff00"/>
<rect x="1220" y="481" width="1" height="16" fill="#00ff00"/>
<rect x="1219" y="484" width="3" height="10" fill="#00ff00"/>
<rect x="1224" y="490" width="1" height="6" fill="#00ff00"/>
<rect x="1223" y="492" width="3" height="3" fill="#00ff00"/>
<rect x="1228" y="481" width="1" height="24" fill="#00ff00"/>
<rect x="1227" y="490" width="3" height="13" fill="#00ff00"/>
<rect x="1232" y="484" width="1" height="22" fill="#ff0000"/>
<rect x="1231" y="494" width="3" height="9" fill="#ff0000"/>
<rect x="1236" y="487" width="1" height="16" fill="#00ff00"/>
<rect x="1235" y="493" width="3" height="4" fill="#00ff00"/>
<rect x="1240" y="495" width="1" height="18" fill="#00ff00"/>
<rect x="1239" y="495" width="3" height="13" fill="#00ff00"/>
<rect x="1244" y="496" width="1" height="16" fill="#00ff00"/>
<rect x="1243" y="506" width="3" height="3" fill="#00ff00"/>
<rect x="1248" y="505" width="1" height="10" fill="#00ff00"/>
<rect x="1247" y="506" width="3" height="3" fill="#00ff00"/>
<rect x="1252" y="468" width="1" height="43" fill="#ff0000"/>
<rect x="1251" y="472" width="3" height="37" fill="#ff0000"/>
<rect x="1256" y="436" width="1" height="37" fill="#ff0000"/>
<rect x="1255" y="453" width="3" height="20" fill="#ff0000"/>
<rect x="1260" y="442" width="1" height="25" fill="#ff0000"/>
<rect x="1259" y="444" width="3" height="11" fill="#ff0000"/>
<rect x="1264" y="441" width="1" height="26" fill="#00ff00"/>
<rect x="1263" y="444" width="3" height="21" fill="#00ff00"/>
<rect x="1268" y="439" width="1" height="26" fill="#ff0000"/>
<rect x="1267" y="460" width="3" height="5" fill="#ff0000"/>
<rect x="1272" y="449" width="1" height="12" fill="#ff0000"/>
<rect x="1271" y="454" width="3" height="7" fill="#ff0000"/>
<rect x="1276" y="453" width="1" height="14" fill="#00ff00"/>
<rect x="1275" y="455" width="3" height="5" fill="#00ff00"/>
<rect x="1280" y="454" width="1" height="28" fill="#00ff00"/>
<rect x="1279" y="459" width="3" height="19" fill="#00ff00"/>
<rect x="1284" y="442" width="1" height="38" fill="#ff0000"/>
<rect x="1283" y="444" width="3" height="34" fill="#ff0000"/>
<rect x="1288" y="402" width="1" height="43" fill="#ff0000"/>
<rect x="1287" y="408" width="3" height="37" fill="#ff0000"/>
<rect x="1292" y="380" width="1" height="52" fill="#00ff00"/>
<rect x="1291" y="406" width="3" height="25" fill="#00ff00"/>
<rect x="1296" y="424" width="1" height="12" fill="#00ff00"/>
<rect x="1295" y="428" width="3" height="4" fill="#00ff00"/>
<rect x="1300" y="410" width="1" height="18" fill="#ff0000"/>
<rect x="1299" y="412" width="3" height="15" fill="#ff0000"/>
<rect x="1304" y="411" width="1" height="44" fill="#00ff00"/>
<rect x="1303" y="412" width="3" height="30" fill="#00ff00"/>
<rect x="1308" y="434" width="1" height="20" fill="#ff0000"/>
<rect x="1307" y="438" width="3" height="5" fill="#ff0000"/>
<rect x="1312" y="420" width="1" height="28" fill="#ff0000"/>
<rect x="1311" y="424" width="3" height="15" fill="#ff0000"/>
<rect x="1316" y="404" width="1" height="24" fill="#ff0000"/>
<rect x="1315" y="405" width="3" height="23" fill="#ff0000"/>
<rect x="1320" y="404" width="1" height="7" fill="#00ff00"/>
<rect x="1319" y="406" width="3" height="5" fill="#00ff00"/>
<rect x="1324" y="388" width="1" height="27" fill="#ff0000"/>
<rect x="1323" y="396" width="3" height="18" fill="#ff0000"/>
<rect x="1328" y="386" width="1" height="14" fill="#ff0000"/>
<rect x="1327" y="388" width="3" height="9" fill="#ff0000"/>
<rect x="1332" y="387" width="1" height="8" fill="#00ff00"/>
<rect x="1331" y="388" width="3" height="5" fill="#00ff00"/>
<rect x="1336" y="379" width="1" height="17" fill="#ff0000"/>
<rect x="1335" y="380" width="3" height="15" fill="#ff0000"/>
<rect x="1340" y="372" width="1" height="10" fill="#ff0000"/>
<rect x="1339" y="372" width="3" height="9" fill="#ff0000"/>
<path d="M4 160h1v1h-1zm1 -2h1v2h-1zm1 -1h1v1h-1zm1 -2h1v2h-1zm1 -1h1v1h-1zm1 -1h1v1h-1zm1 -1h2v1h-2zm2 -1h2v1h-2zm2 -1h4v1h-4zm4 -1h4v1h-4zm4 -1h4v1h-4zm4 1h4v1h-4zm4 1h4v1h-4zm4 1h4v1h-4zm4 1h4v1h-4zm4 1h3v1h-3zm3 1h2v1h-2zm2 1h3v1h-3zm3 1h4v1h-4zm4 1h4v1h-4zm4 1h3v1h-3zm3 1h1v1h-1zm1 1h1v1h-1zm1 1h1v1h-1zm1 1h1v1h-1zm1 1h1v2h-1zm1 2h1v1h-1zm1 1h1v2h-1zm1 2h1v1h-1zm1 1h1v2h-1zm1 2h1v1h-1zm1 1h1v2h-1zm1 2h1v1h-1zm1 1h1v2h-1zm1 2h1v1h-1zm1 1h1v2h-1zm1 2h1v1h-1zm1 1h1v1h-1zm1 1h1v2h-1zm1 2h1v1h-1zm1 1h1v1h-1zm1 1h1v1h-1zm1 1h1v2h-1zm1 2h1v1h-1zm1 1h1v1h-1zm1 1h1v1h-1zm1 1h1v2h-1zm1 2h1v1h-1zm1 1h1v1h-1zm1 1h1v1h-1zm1 1h1v2h-1zm1 2h1v1h-1zm1 1h1v1h-1zm1 1h1v1h-1zm1 1h1v1h-1zm1 1h1v1h-1zm1 1h1v1h-1zm1 1h1v1h-1zm1 1h1v2h-1zm1 2h1v1h-1zm1 1h1v1h-1zm1 1h1v1h-1zm1 1h1v2h-1zm1 2h1v1h-1zm1 1h1v1h-1zm1 1h1v2h-1zm1 2h1v1h-1zm1 1h1v2h-1zm1 2h1v1h-1zm1 1h1v2h-1zm1 2h1v2h-1zm1 2h1v2h-1zm1 2h1v1h-1zm1 1h1v1h-1zm1 1h1v2h-1zm1 2h1v1h-1zm1 1h1v1h-1zm1 1h1v1h-1zm1 1h1v2h-1zm1 2h1v1h-1zm1 1h1v1h-1zm1 1h1v1h-1zm1 1h1v2h-1zm1 2h1v1h-1zm1 1h1v1h-1zm1 1h1v1h-1zm1 1h1v2h-1zm1 2h1v1h-1zm1 1h1v1h-1zm1 1h1v1h-1zm1 1h2v1h-2zm2 1h6v1h-6zm6 1h8v1h-8zm8 -1h8v1h-8zm8 1h3v1h-3zm3 1h2v1h-2zm2 1h11v1h-11zm11 1h7v1h-7zm7 1h2v1h-2zm2 1h6v1h-6zm6 -1h2v1h-2zm2 -1h2v1h-2zm2 -1h1v1h-1zm1 -1h1v1h-1zm1 -1h1v1h-1zm1 -1h1v1h-1zm1 -1h2v1h-2zm2 -1h2v1h-2zm2 -1h1v1h-1zm1 -1h2v1h-2zm2 -1h1v1h-1zm1 -1h1v1h-1zm1 -1h1v1h-1zm1 -1h1v1h-1zm1 -1h1v1h-1zm1 -2h1v2h-1zm1 -1h1v1h-1zm1 -2h1v2h-1zm1 -1h1v1h-1zm1 -1h1v1h-1zm1 -2h1v2h-1zm1 -1h1v1h-1zm1 -1h1v1h-1zm1 -1h1v1h-1zm1 -2h1v2h-1zm1 -1h1v1h-1zm1 -1h1v1h-1zm1 -1h1v1h-1zm1 -2h1v2h-1zm1 -1h1v1h-1zm1 -1h1v1h-1zm1 -1h1v1h-1zm1 -1h1v1h-1zm1 -1h1v1h-1zm1 -1h1v1h-1zm1 -1h1v1h-1zm1 -1h1v1h-1zm1 -1h1v1h-1zm1 -1h1v1h-1zm1 -1h2v1h-2zm2 -1h7v1h-7zm7 1h3v1h-3zm3 1h2v1h-2zm2 1h6v1h-6zm6 1h2v1h-2zm2 1h2v1h-2zm2 1h2v1h-2zm2 1h2v1h-2zm2 1h2v1h-2zm2 1h2v1h-2zm2 1h2v1h-2zm2 1h3v1h-3zm3 1h3v1h-3zm3 1h2v1h-2zm2 1h6v1h-6zm6 1h2v1h-2zm2 1h3v1h-3zm3 1h4v1h-4zm4 1h4v1h-4zm4 -1h4v1h-4zm4 -1h12v1h-12zm12 1h3v1h-3zm3 1h1v1h-1zm1 1h2v1h-2zm2 1h1v1h-1zm1 1h2v1h-2zm2 1h2v1h-2zm2 1h2v1h-2zm2 1h2v1h-2zm2 1h1v1h-1zm1 1h1v1h-1zm1 1h1v1h-1zm1 1h1v1h-1zm1 1h1v2h-1zm1 2h1v1h-1zm1 1h1v2h-1zm1 2h1v1h-1zm1 1h1v1h-1zm1 1h1v2h-1zm1 2h1v1h-1zm1 1h1v1h-1zm1 1h1v1h-1zm1 1h1v2h-1zm1 2h1v1h-1zm1 1h1v1h-1zm1 1h1v1h-1zm1 1h1v1h-1zm1 1h1v1h-1zm1 1h1v1h-1zm1 1h1v1h-1zm1 1h1v1h-1zm1 1h1v1h-1zm1 1h2v1h-2zm2 1h4v1h-4zm4 1h12v1h-12zm12 -1h8v1h-8zm8 1h4v1h-4zm4 -1h4v1h-4zm4 1h3v1h-3zm3 1h2v1h-2zm2 1h10v1h-10zm10 1h1v1h-1zm1 1h2v1h-2zm2 1h6v1h-6zm6 1h7v1h-7zm7 1h2v1h-2zm2 1h2v1h-2zm2 1h1v1h-1zm1 1h2v1h-2zm2 1h14v1h-14zm14 -1h4v1h-4zm4 -1h4v1h-4zm4 -1h3v1h-3zm3 -1h1v1h-1zm1 -1h2v1h-2zm2 -1h1v1h-1zm1 -1h1v1h-1zm1 -1h2v1h-2zm2 -1h1v1h-1zm1 -1h1v1h-1zm1 -1h2v1h-2zm2 -1h1v1h-1zm1 -1h1v1h-1zm1 -1h2v1h-2zm2 -1h1v1h-1zm1 -1h1v1h-1zm1 -1h2v1h-2zm2 -1h1v1h-1zm1 -1h2v1h-2zm2 -1h2v1h-2zm2 -1h2v1h-2zm2 -1h2v1h-2zm2 -1h2v1h-2zm2 -1h3v1h-3zm3 -1h3v1h-3zm3 -1h2v1h-2zm2 -1h3v1h-3zm3 -1h7v1h-7zm7 1h2v1h-2zm2 1h2v1h-2zm2 1h2v1h-2zm2 1h3v1h-3zm3 1h4v1h-4zm4 1h3v1h-3zm3 1h2v1h-2zm2 1h2v1h-2zm2 1h2v1h-2zm2 1h3v1h-3zm3 1h3v1h-3zm3 1h2v1h-2zm2 1h2v1h-2zm2 1h2v1h-2zm2 1h2v1h-2zm2 1h2v1h-2zm2 1h2v1h-2zm2 1h1v1h-1zm1 1h2v1h-2zm2 1h2v1h-2zm2 1h3v1h-3zm3 1h1v1h-1zm1 1h2v1h-2zm2 1h1v1h-1zm1 1h1v1h-1zm1 1h1v1h-1zm1 1h1v1h-1zm1 1h1v1h-1zm1 1h2v1h-2zm2 1h2v1h-2zm2 1h1v1h-1zm1 1h2v1h-2zm2 1h1v1h-1zm1 1h1v1h-1zm1 1h1v1h-1zm1 1h1v1h-1zm1 1h1v1h-1zm1 1h1v1h-1zm1 1h1v1h-1zm1 1h1v1h-1zm1 1h1v1h-1zm1 1h1v2h-1zm1 2h1v1h-1zm1 1h1v2h-1zm1 2h1v1h-1zm1 1h1v1h-1zm1 1h1v2h-1zm1 2h1v1h-1zm1 1h1v1h-1zm1 1h1v2h-1zm1 2h1v2h-1zm1 2h1v2h-1zm1 2h1v2h-1zm1 2h1v2h-1zm1 2h1v2h-1zm1 2h1v2h-1zm1 2h1v1h-1zm1 1h1v2h-1zm1 2h1v1h-1zm1 1h1v2h-1zm1 2h1v1h-1zm1 1h1v2h-1zm1 2h1v2h-1zm1 2h1v2h-1zm1 2h1v2h-1zm1 2h1v2h-1zm1 2h1v2h-1zm1 2h1v2h-1zm1 2h1v1h-1zm1 1h1v2h-1zm1 2h1v1h-1zm1 1h1v2h-1zm1 2h1v1h-1zm1 1h1v1h-1zm1 1h1v2h-1zm1 2h1v1h-1zm1 1h1v1h-1zm1 1h1v2h-1zm1 2h1v1h-1zm1 1h1v2h-1zm1 2h1v1h-1zm1 1h1v1h-1zm1 1h1v2h-1zm1 2h1v1h-1zm1 1h1v1h-1zm1 1h1v1h-1zm1 1h1v1h-1zm1 1h1v1h-1zm1 1h1v1h-1zm1 1h1v1h-1zm1 1h2v1h-2zm2 1h1v1h-1zm1 1h2v1h-2zm2 1h2v1h-2zm2 1h1v1h-1zm1 1h2v1h-2zm2 1h1v1h-1zm1 1h2v1h-2zm2 1h2v1h-2zm2 1h1v1h-1zm1 1h2v1h-2zm2 1h2v1h-2zm2 1h3v1h-3zm3 1h2v1h-2zm2 1h11v1h-11zm11 1h7v1h-7zm7 1h2v1h-2zm2 1h3v1h-3zm3 1h3v1h-3zm3 1h2v1h-2zm2 1h2v1h-2zm2 1h1v1h-1zm1 1h2v1h-2zm2 1h1v1h-1zm1 1h1v1h-1zm1 1h2v1h-2zm2 1h1v1h-1zm1 1h2v1h-2zm2 1h2v1h-2zm2 1h2v1h-2zm2 1h3v1h-3zm3 1h8v1h-8zm8 -1h4v1h-4zm4 -1h3v1h-3zm3 -1h2v1h-2zm2 -1h2v1h-2zm2 -1h2v1h-2zm2 -1h2v1h-2zm2 -1h1v1h-1zm1 -1h2v1h-2zm2 -1h1v1h-1zm1 -1h2v1h-2zm2 -1h2v1h-2zm2 -1h1v1h-1zm1 -1h2v1h-2zm2 -1h1v1h-1zm1 -1h2v1h-2zm2 -1h3v1h-3zm3 -1h4v1h-4zm4 -1h3v1h-3zm3 -1h1v1h-1zm1 -1h2v1h-2zm2 -1h1v1h-1zm1 -1h1v1h-1zm1 -1h2v1h-2zm2 -1h2v1h-2zm2 -1h4v1h-4zm4 -1h8v1h-8zm8 1h4v1h-4zm4 1h8v1h-8zm8 -1h7v1h-7zm7 -1h2v1h-2zm2 -1h3v1h-3zm3 -1h3v1h-3zm3 -1h2v1h-2zm2 -1h2v1h-2zm2 -1h1v1h-1zm1 -1h1v1h-1zm1 -1h1v1h-1zm1 -1h1v1h-1zm1 -1h1v1h-1zm1 -1h1v1h-1zm1 -1h1v1h-1zm1 -1h1v1h-1zm1 -1h1v1h-1zm1 -1h1v1h-1zm1 -1h1v1h-1zm1 -1h1v1h-1zm1 -1h1v1h-1zm1 -1h1v1h-1zm1 -1h1v1h-1zm1 -1h1v1h-1zm1 -1h1v1h-1zm1 -1h1v1h-1zm1 -1h1v1h-1zm1 -1h1v1h-1zm1 -1h2v1h-2zm2 -1h3v1h-3zm3 -1h8v1h-8zm8 1h4v1h-4zm4 1h3v1h-3zm3 1h1v1h-1zm1 1h2v1h-2zm2 1h1v1h-1zm1 1h2v1h-2zm2 1h2v1h-2zm2 1h1v1h-1zm1 1h2v1h-2zm2 1h1v1h-1zm1 1h1v1h-1zm1 1h1v2h-1zm1 2h1v1h-1zm1 1h1v1h-1zm1 1h1v2h-1zm1 2h1v1h-1zm1 1h1v2h-1zm1 2h1v1h-1zm1 1h1v1h-1zm1 1h1v1h-1zm1 1h1v1h-1zm1 1h1v1h-1zm1 1h1v2h-1zm1 2h1v1h-1zm1 1h1v2h-1zm1 2h1v1h-1zm1 1h1v2h-1zm1 2h1v2h-1zm1 2h1v2h-1zm1 2h1v1h-1zm1 1h1v1h-1zm1 1h1v2h-1zm1 2h1v1h-1zm1 1h1v1h-1zm1 1h1v1h-1zm1 1h1v1h-1zm1 1h1v1h-1zm1 1h1v1h-1zm1 1h1v1h-1zm1 1h1v1h-1zm1 1h1v1h-1zm1 1h1v1h-1zm1 1h1v1h-1zm1 1h1v2h-1zm1 2h1v1h-1zm1 1h1v1h-1zm1 1h1v1h-1zm1 1h2v1h-2zm2 1h1v1h-1zm1 1h1v2h-1zm1 2h1v1h-1zm1 1h1v2h-1zm1 2h1v1h-1zm1 1h1v1h-1zm1 1h1v2h-1zm1 2h1v1h-1zm1 1h1v1h-1zm1 1h1v1h-1zm1 1h1v2h-1zm1 2h1v1h-1zm1 1h1v1h-1zm1 1h1v2h-1zm1 2h1v1h-1zm1 1h1v2h-1zm1 2h1v1h-1zm1 1h1v2h-1zm1 2h1v1h-1zm1 1h1v2h-1zm1 2h1v1h-1zm1 1h1v2h-1zm1 2h1v1h-1zm1 1h1v2h-1zm1 2h1v1h-1zm1 1h1v2h-1zm1 2h1v1h-1zm1 1h1v2h-1zm1 2h1v1h-1zm1 1h1v2h-1zm1 2h1v1h-1zm1 1h1v2h-1zm1 2h1v1h-1zm1 1h1v2h-1zm1 2h1v2h-1zm1 2h1v2h-1zm1 2h1v1h-1zm1 1h1v2h-1zm1 2h1v2h-1zm1 2h1v2h-1zm1 2h1v2h-1zm1 2h1v2h-1zm1 2h1v1h-1zm1 1h1v2h-1zm1 2h1v1h-1zm1 1h1v2h-1zm1 2h1v1h-1zm1 1h1v2h-1zm1 2h1v1h-1zm1 1h1v1h-1zm1 1h1v2h-1zm1 2h1v1h-1zm1 1h1v1h-1zm1 1h1v2h-1zm1 2h1v1h-1zm1 1h1v2h-1zm1 2h1v1h-1zm1 1h1v1h-1zm1 1h1v1h-1zm1 1h1v1h-1zm1 1h1v1h-1zm1 1h1v1h-1zm1 1h1v1h-1zm1 1h1v1h-1zm1 1h1v1h-1zm1 1h1v1h-1zm1 1h1v2h-1zm1 2h1v1h-1zm1 1h1v1h-1zm1 1h1v1h-1zm1 1h2v1h-2zm2 1h1v1h-1zm1 1h2v1h-2zm2 1h3v1h-3zm3 1h3v1h-3zm3 -1h2v1h-2zm2 -1h3v1h-3zm3 -1h3v1h-3zm3 -1h2v1h-2zm2 -1h2v1h-2zm2 -1h1v1h-1zm1 -1h2v1h-2zm2 -1h1v1h-1zm1 -1h2v1h-2zm2 -1h2v1h-2zm2 -1h2v1h-2zm2 -1h2v1h-2zm2 -1h2v1h-2zm2 -1h2v1h-2zm2 -1h2v1h-2zm2 -1h2v1h-2zm2 -1h1v1h-1zm1 -1h2v1h-2zm2 -1h2v1h-2zm2 -1h3v1h-3zm3 -1h2v1h-2zm2 -1h3v1h-3zm3 -1h4v1h-4zm4 1h16v1h-16zm16 1h19v1h-19zm19 1h2v1h-2zm2 1h3v1h-3zm3 1h4v1h-4zm4 -1h8v1h-8zm8 -1h4v1h-4zm4 -1h4v1h-4zm4 1h4v1h-4zm4 1h3v1h-3zm3 1h2v1h-2zm2 1h3v1h-3zm3 1h4v1h-4zm4 1h3v1h-3zm3 1h1v1h-1zm1 1h2v1h-2zm2 1h1v1h-1zm1 1h2v1h-2zm2 1h2v1h-2zm2 1h1v1h-1zm1 1h2v1h-2zm2 1h2v1h-2zm2 1h4v1h-4zm4 1h4v1h-4zm4 1h8v1h-8zm8 -1h11v1h-11zm11 -1h2v1h-2zm2 -1h3v1h-3zm3 -1h3v1h-3zm3 -1h2v1h-2zm2 -1h3v1h-3zm3 -1h3v1h-3zm3 -1h1v1h-1zm1 -1h2v1h-2zm2 -1h1v1h-1zm1 -1h1v1h-1zm1 -1h1v1h-1zm1 -1h1v1h-1zm1 -1h1v1h-1zm1 -1h1v1h-1zm1 -1h2v1h-2zm2 -1h1v1h-1zm1 -1h1v1h-1zm1 -1h1v1h-1zm1 -1h1v1h-1zm1 -1h1v1h-1zm1 -1h1v1h-1zm1 -1h1v1h-1zm1 -1h1v1h-1zm1 -1h1v1h-1zm1 -1h1v1h-1zm1 -1h1v1h-1zm1 -1h1v1h-1zm1 -1h1v1h-1zm1 -1h1v1h-1zm1 -2h1v2h-1zm1 -1h1v1h-1zm1 -1h1v1h-1zm1 -1h1v1h-1zm1 -1h2v1h-2zm2 -1h1v1h-1zm1 -1h1v1h-1zm1 -1h2v1h-2zm2 -1h2v1h-2zm2 -1h3v1h-3zm3 -1h1v1h-1zm1 -1h2v1h-2zm2 -1h1v1h-1zm1 -1h1v1h-1zm1 -1h2v1h-2zm2 -1h1v1h-1zm1 -1h2v1h-2zm2 -1h7v1h-7zm7 -1h8v1h-8zm8 -1h3v1h-3zm3 -1h2v1h-2zm2 -1h3v1h-3zm3 -1h4v1h-4zm4 1h4v1h-4zm4 1h3v1h-3zm3 1h2v1h-2zm2 1h2v1h-2zm2 1h2v1h-2zm2 1h2v1h-2zm2 1h2v1h-2zm2 1h2v1h-2zm2 1h2v1h-2zm2 1h3v1h-3zm3 1h3v1h-3zm3 1h2v1h-2zm2 1h3v1h-3zm3 1h4v1h-4zm4 1h8v1h-8zm8 1h4v1h-4zm4 1h3v1h-3zm3 1h2v1h-2zm2 1h2v1h-2zm2 1h2v1h-2zm2 1h2v1h-2zm2 1h2v1h-2zm2 1h2v1h-2zm2 1h2v1h-2zm2 1h3v1h-3zm3 1h4v1h-4zm4 -1h12v1h-12zm12 -1h4v1h-4zm4 -1h7v1h-7zm7 -1h1v1h-1zm1 -1h2v1h-2zm2 -1h1v1h-1zm1 -1h2v1h-2zm2 -1h2v1h-2zm2 -1h2v1h-2zm2 -1h2v1h-2zm2 -1h1v1h-1zm1 -1h2v1h-2zm2 -1h1v1h-1zm1 -1h2v1h-2zm2 -1h2v1h-2zm2 -1h1v1h-1zm1 -1h2v1h-2zm2 -1h1v1h-1zm1 -1h1v1h-1zm1 -1h1v1h-1zm1 -1h1v1h-1zm1 -1h1v1h-1zm1 -1h1v1h-1zm1 -1h1v1h-1zm1 -1h1v1h-1zm1 -1h1v1h-1z" fill="#0000cd"/>
<path d="M4 139h1v1h-1zm1 -1h2v1h-2zm2 -1h3v1h-3zm3 1h3v1h-3zm3 1h2v1h-2zm2 1h2v1h-2zm2 1h1v1h-1zm1 1h2v1h-2zm2 1h2v1h-2zm2 1h3v1h-3zm3 1h1v1h-1zm1 1h2v1h-2zm2 1h2v1h-2zm2 1h4v1h-4zm4 1h7v1h-7zm7 1h1v1h-1zm1 1h2v1h-2zm2 1h1v1h-1zm1 1h1v2h-1zm1 2h1v2h-1zm1 2h1v2h-1zm1 2h1v1h-1zm1 1h1v2h-1zm1 2h1v2h-1zm1 2h1v2h-1zm1 2h1v1h-1zm1 1h1v2h-1zm1 2h1v1h-1zm1 1h1v2h-1zm1 2h1v2h-1zm1 2h1v2h-1zm1 2h1v3h-1zm1 3h1v2h-1zm1 2h1v3h-1zm1 3h1v3h-1zm1 3h1v3h-1zm1 3h1v3h-1zm1 3h1v3h-1zm1 3h1v2h-1zm1 2h1v3h-1zm1 3h1v2h-1zm1 2h1v3h-1zm1 3h1v2h-1zm1 2h1v2h-1zm1 2h1v2h-1zm1 2h1v2h-1zm1 2h1v2h-1zm1 2h1v2h-1zm1 2h1v2h-1zm1 2h1v3h-1zm1 3h1v2h-1zm1 2h1v2h-1zm1 2h1v2h-1zm1 2h1v2h-1zm1 2h1v2h-1zm1 2h1v2h-1zm1 2h1v2h-1zm1 2h1v2h-1zm1 2h1v2h-1zm1 2h1v2h-1zm1 2h1v2h-1zm1 2h1v3h-1zm1 3h1v2h-1zm1 2h1v3h-1zm1 3h1v2h-1zm1 2h1v3h-1zm1 3h1v2h-1zm1 2h1v2h-1zm1 2h1v2h-1zm1 2h1v2h-1zm1 2h1v2h-1zm1 2h1v2h-1zm1 2h1v2h-1zm1 2h1v1h-1zm1 1h1v2h-1zm1 2h1v2h-1zm1 2h1v2h-1zm1 2h1v3h-1zm1 3h1v2h-1zm1 2h1v2h-1zm1 2h1v2h-1zm1 2h1v3h-1zm1 3h1v2h-1zm1 2h1v2h-1zm1 2h1v2h-1zm1 2h1v2h-1zm1 2h1v1h-1zm1 1h1v1h-1zm1 1h1v1h-1zm1 1h2v1h-2zm2 -1h3v1h-3zm3 -1h1v1h-1zm1 -1h2v1h-2zm2 -1h1v1h-1zm1 -1h1v1h-1zm1 -1h1v1h-1zm1 -1h1v1h-1zm1 -1h1v1h-1zm1 -2h1v2h-1zm1 -1h1v1h-1zm1 -2h1v2h-1zm1 -1h1v1h-1zm1 -2h1v2h-1zm1 -2h1v2h-1zm1 -2h1v2h-1zm1 -2h1v2h-1zm1 -2h1v2h-1zm1 -2h1v2h-1zm1 -2h1v2h-1zm1 -3h1v3h-1zm1 -2h1v2h-1zm1 -2h1v2h-1zm1 -2h1v2h-1zm1 -3h1v3h-1zm1 -2h1v2h-1zm1 -2h1v2h-1zm1 -2h1v2h-1zm1 -2h1v2h-1zm1 -2h1v2h-1zm1 -2h1v2h-1zm1 -2h1v2h-1zm1 -2h1v2h-1zm1 -2h1v2h-1zm1 -2h1v2h-1zm1 -2h1v2h-1zm1 -1h1v1h-1zm1 -2h1v2h-1zm1 -1h1v1h-1zm1 -2h1v2h-1zm1 -2h1v2h-1zm1 -2h1v2h-1zm1 -3h1v3h-1zm1 -2h1v2h-1zm1 -3h1v3h-1zm1 -2h1v2h-1zm1 -2h1v2h-1zm1 -2h1v2h-1zm1 -2h1v2h-1zm1 -1h2v1h-2zm2 -1h3v1h-3zm3 -1h8v1h-8zm8 1h8v1h-8zm8 1h3v1h-3zm3 1h2v1h-2zm2 1h2v1h-2zm2 1h1v1h-1zm1 1h2v1h-2zm2 1h5v1h-5zm5 -1h1v1h-1zm1 -1h1v1h-1zm1 -1h1v1h-1zm1 -1h1v1h-1zm1 -1h1v1h-1zm1 -1h1v1h-1zm1 -1h1v1h-1zm1 -1h1v1h-1zm1 -1h1v1h-1zm1 -2h1v2h-1zm1 -1h1v1h-1zm1 -1h1v1h-1zm1 -1h2v1h-2zm2 -1h2v1h-2zm2 -1h1v1h-1zm1 -1h2v1h-2zm2 -1h2v1h-2zm2 1h4v1h-4zm4 1h3v1h-3zm3 1h2v1h-2zm2 1h3v1h-3zm3 1h3v1h-3zm3 1h1v1h-1zm1 1h1v2h-1zm1 2h1v1h-1zm1 1h1v1h-1zm1 1h1v1h-1zm1 1h1v2h-1zm1 2h1v1h-1zm1 1h1v1h-1zm1 1h1v1h-1zm1 1h2v1h-2zm2 1h1v1h-1zm1 1h1v1h-1zm1 1h2v1h-2zm2 1h1v1h-1zm1 1h1v1h-1zm1 1h2v1h-2zm2 1h1v1h-1zm1 1h1v2h-1zm1 2h1v2h-1zm1 2h1v2h-1zm1 2h1v2h-1zm1 2h1v2h-1zm1 2h1v1h-1zm1 1h1v2h-1zm1 2h1v1h-1zm1 1h1v2h-1zm1 2h1v1h-1zm1 1h1v2h-1zm1 2h1v1h-1zm1 1h1v1h-1zm1 1h2v1h-2zm2 1h1v1h-1zm1 1h1v2h-1zm1 2h1v2h-1zm1 2h1v2h-1zm1 2h6v1h-6zm6 -1h3v1h-3zm3 -1h1v1h-1zm1 -1h1v1h-1zm1 -1h1v1h-1zm1 -1h1v1h-1zm1 -1h1v1h-1zm1 -2h1v2h-1zm1 -1h1v1h-1zm1 -1h1v1h-1zm1 -1h1v1h-1zm1 -1h1v1h-1zm1 -1h1v1h-1zm1 -1h2v1h-2zm2 -1h4v1h-4zm4 1h4v1h-4zm4 1h3v1h-3zm3 1h2v1h-2zm2 1h2v1h-2zm2 1h1v1h-1zm1 1h2v1h-2zm2 1h1v1h-1zm1 1h1v2h-1zm1 2h1v1h-1zm1 1h1v2h-1zm1 2h1v1h-1zm1 1h1v2h-1zm1 2h1v1h-1zm1 1h1v2h-1zm1 2h1v1h-1zm1 1h1v2h-1zm1 2h1v1h-1zm1 1h1v2h-1zm1 2h1v1h-1zm1 1h2v1h-2zm2 1h2v1h-2zm2 1h1v1h-1zm1 1h1v1h-1zm1 1h1v1h-1zm1 1h1v1h-1zm1 1h1v1h-1zm1 1h2v1h-2zm2 1h1v1h-1zm1 1h1v1h-1zm1 1h1v2h-1zm1 2h1v1h-1zm1 1h1v1h-1zm1 1h1v2h-1zm1 2h1v1h-1zm1 1h1v2h-1zm1 2h1v1h-1zm1 1h2v1h-2zm2 1h2v1h-2zm2 1h2v1h-2zm2 1h6v1h-6zm6 -1h2v1h-2zm2 -1h6v1h-6zm6 -1h2v1h-2zm2 -1h2v1h-2zm2 -1h1v1h-1zm1 -1h2v1h-2zm2 -1h1v1h-1zm1 -1h1v1h-1zm1 -1h2v1h-2zm2 -1h1v1h-1zm1 -1h1v1h-1zm1 -1h1v1h-1zm1 -1h1v1h-1zm1 -1h1v1h-1zm1 -1h1v1h-1zm1 -2h1v2h-1zm1 -1h1v1h-1zm1 -1h10v1h-10zm10 -1h3v1h-3zm3 -1h2v1h-2zm2 -1h3v1h-3zm3 -1h4v1h-4zm4 1h4v1h-4zm4 -1h4v1h-4zm4 -1h11v1h-11zm11 -1h2v1h-2zm2 -1h2v1h-2zm2 -1h2v1h-2zm2 -1h2v1h-2zm2 -1h1v1h-1zm1 -1h2v1h-2zm2 -1h2v1h-2zm2 1h3v1h-3zm3 -1h1v1h-1zm1 -2h1v2h-1zm1 -1h1v1h-1zm1 -1h1v1h-1zm1 -1h1v1h-1zm1 -2h1v2h-1zm1 -1h1v1h-1zm1 -1h1v1h-1zm1 -1h1v1h-1zm1 -1h1v1h-1zm1 -1h1v1h-1zm1 -1h1v1h-1zm1 -1h1v1h-1zm1 -1h1v1h-1zm1 -1h1v1h-1zm1 -1h1v1h-1zm1 -1h1v1h-1zm1 -1h2v1h-2zm2 -1h1v1h-1zm1 -1h1v1h-1zm1 -1h1v1h-1zm1 -1h1v1h-1zm1 -1h2v1h-2zm2 -1h3v1h-3zm3 -1h2v1h-2zm2 -1h2v1h-2zm2 -1h2v1h-2zm2 -1h6v1h-6zm6 1h1v1h-1zm1 1h1v2h-1zm1 2h1v1h-1zm1 1h1v1h-1zm1 1h1v2h-1zm1 2h1v2h-1zm1 2h1v2h-1zm1 2h1v1h-1zm1 1h1v2h-1zm1 2h1v1h-1zm1 1h1v2h-1zm1 2h1v1h-1zm1 1h1v1h-1zm1 1h1v1h-1zm1 1h1v1h-1zm1 1h1v1h-1zm1 1h1v2h-1zm1 2h1v1h-1zm1 1h1v2h-1zm1 2h1v1h-1zm1 1h1v2h-1zm1 2h1v2h-1zm1 2h1v2h-1zm1 2h1v1h-1zm1 1h1v2h-1zm1 2h1v2h-1zm1 2h1v2h-1zm1 2h1v3h-1zm1 3h1v2h-1zm1 2h1v2h-1zm1 2h1v2h-1zm1 2h1v2h-1zm1 2h1v2h-1zm1 2h1v2h-1zm1 2h1v2h-1zm1 2h1v1h-1zm1 1h1v2h-1zm1 2h1v2h-1zm1 2h1v2h-1zm1 2h1v1h-1zm1 1h1v2h-1zm1 2h1v2h-1zm1 2h1v2h-1zm1 2h1v2h-1zm1 2h1v2h-1zm1 2h1v2h-1zm1 2h1v2h-1zm1 2h1v2h-1zm1 2h1v2h-1zm1 2h1v1h-1zm1 1h1v2h-1zm1 2h1v1h-1zm1 1h1v2h-1zm1 2h1v2h-1zm1 2h1v2h-1zm1 2h2v1h-2zm2 1h4v1h-4zm4 1h3v1h-3zm3 1h1v1h-1zm1 1h1v2h-1zm1 2h1v1h-1zm1 1h1v1h-1zm1 1h1v1h-1zm1 1h1v1h-1zm1 1h1v1h-1zm1 1h1v1h-1zm1 1h1v2h-1zm1 2h1v2h-1zm1 2h1v2h-1zm1 2h1v1h-1zm1 1h1v2h-1zm1 2h1v2h-1zm1 2h1v2h-1zm1 2h1v2h-1zm1 2h1v2h-1zm1 2h1v2h-1zm1 2h1v2h-1zm1 2h1v2h-1zm1 2h1v2h-1zm1 2h1v2h-1zm1 2h1v2h-1zm1 2h1v1h-1zm1 1h1v1h-1zm1 1h1v2h-1zm1 2h1v1h-1zm1 1h1v1h-1zm1 1h1v2h-1zm1 2h1v2h-1zm1 2h1v2h-1zm1 2h1v1h-1zm1 1h1v2h-1zm1 2h1v1h-1zm1 1h1v2h-1zm1 2h1v1h-1zm1 1h1v2h-1zm1 2h1v1h-1zm1 1h1v2h-1zm1 2h1v1h-1zm1 1h1v1h-1zm1 1h1v1h-1zm1 1h1v1h-1zm1 1h1v1h-1zm1 1h1v1h-1zm1 1h2v1h-2zm2 1h1v1h-1zm1 1h1v1h-1zm1 1h1v1h-1zm1 1h1v1h-1zm1 1h1v1h-1zm1 1h1v1h-1zm1 1h1v1h-1zm1 1h1v1h-1zm1 1h1v1h-1zm1 1h2v1h-2zm2 1h3v1h-3zm3 1h7v1h-7zm7 -1h2v1h-2zm2 -1h2v1h-2zm2 -1h1v1h-1zm1 -1h1v1h-1zm1 -1h1v1h-1zm1 -1h1v1h-1zm1 -2h1v2h-1zm1 -1h1v1h-1zm1 -2h1v2h-1zm1 -1h1v1h-1zm1 -1h1v1h-1zm1 -1h2v1h-2zm2 -1h1v1h-1zm1 -2h1v2h-1zm1 -1h1v1h-1zm1 -2h1v2h-1zm1 -1h1v1h-1zm1 -2h1v2h-1zm1 -1h1v1h-1zm1 -2h1v2h-1zm1 -1h1v1h-1zm1 -2h1v2h-1zm1 -1h1v1h-1zm1 -2h1v2h-1zm1 -1h1v1h-1zm1 -1h2v1h-2zm2 -1h2v1h-2zm2 -1h2v1h-2zm2 -1h3v1h-3zm3 -1h4v1h-4zm4 1h3v1h-3zm3 1h2v1h-2zm2 1h2v1h-2zm2 1h1v1h-1zm1 1h2v1h-2zm2 1h1v1h-1zm1 1h1v1h-1zm1 1h2v1h-2zm2 1h1v1h-1zm1 1h1v1h-1zm1 1h1v1h-1zm1 1h1v1h-1zm1 1h1v1h-1zm1 1h1v1h-1zm1 1h1v1h-1zm1 1h1v1h-1zm1 1h1v1h-1zm1 1h1v1h-1zm1 1h1v1h-1zm1 1h1v1h-1zm1 1h1v1h-1zm1 1h1v1h-1zm1 1h2v1h-2zm2 1h1v1h-1zm1 1h1v1h-1zm1 1h2v1h-2zm2 1h1v1h-1zm1 1h2v1h-2zm2 1h3v1h-3zm3 1h4v1h-4zm4 -1h3v1h-3zm3 -1h2v1h-2zm2 -1h2v1h-2zm2 -1h1v1h-1zm1 -1h1v1h-1zm1 -1h1v1h-1zm1 -1h1v1h-1zm1 -2h1v2h-1zm1 -1h1v1h-1zm1 -2h1v2h-1zm1 -1h1v1h-1zm1 -1h1v1h-1zm1 -1h1v1h-1zm1 -1h1v1h-1zm1 -1h1v1h-1zm1 -2h1v2h-1zm1 -2h1v2h-1zm1 -2h1v2h-1zm1 -2h1v2h-1zm1 -2h1v2h-1zm1 -2h1v2h-1zm1 -2h1v2h-1zm1 -2h1v2h-1zm1 -2h1v2h-1zm1 -2h1v2h-1zm1 -2h1v2h-1zm1 -2h1v2h-1zm1 -1h1v1h-1zm1 -2h1v2h-1zm1 -1h1v1h-1zm1 -1h1v1h-1zm1 -1h1v1h-1zm1 -1h2v1h-2zm2 -1h1v1h-1zm1 -1h1v1h-1zm1 -1h2v1h-2zm2 -1h14v1h-14zm14 -1h4v1h-4zm4 -1h3v1h-3zm3 -1h2v1h-2zm2 -1h3v1h-3zm3 1h3v1h-3zm3 -1h1v1h-1zm1 -1h1v1h-1zm1 -1h1v1h-1zm1 -1h1v1h-1zm1 -1h2v1h-2zm2 -1h3v1h-3zm3 -1h4v1h-4zm4 -1h3v1h-3zm3 -1h1v1h-1zm1 -1h1v1h-1zm1 -1h1v1h-1zm1 -1h2v1h-2zm2 -1h7v1h-7zm7 -1h2v1h-2zm2 -1h2v1h-2zm2 1h1v1h-1zm1 1h2v1h-2zm2 1h1v1h-1zm1 1h1v1h-1zm1 1h1v1h-1zm1 1h1v1h-1zm1 1h1v1h-1zm1 1h1v1h-1zm1 1h1v2h-1zm1 2h1v1h-1zm1 1h1v1h-1zm1 1h1v2h-1zm1 2h1v2h-1zm1 2h1v2h-1zm1 2h1v2h-1zm1 2h1v2h-1zm1 2h1v2h-1zm1 2h1v2h-1zm1 2h1v2h-1zm1 2h1v2h-1zm1 2h1v2h-1zm1 2h1v2h-1zm1 2h1v3h-1zm1 3h1v3h-1zm1 3h1v3h-1zm1 3h1v3h-1zm1 3h1v3h-1zm1 3h1v3h-1zm1 3h1v3h-1zm1 3h1v3h-1zm1 3h1v3h-1zm1 3h1v4h-1zm1 4h1v3h-1zm1 3h1v4h-1zm1 4h1v3h-1zm1 3h1v4h-1zm1 4h1v3h-1zm1 3h1v4h-1zm1 4h1v3h-1zm1 3h1v4h-1zm1 4h1v4h-1zm1 4h1v4h-1zm1 4h1v3h-1zm1 3h1v2h-1zm1 2h1v3h-1zm1 3h1v2h-1zm1 2h1v3h-1zm1 3h1v2h-1zm1 2h1v2h-1zm1 2h1v2h-1zm1 2h1v3h-1zm1 3h1v2h-1zm1 2h1v2h-1zm1 2h1v2h-1zm1 2h1v2h-1zm1 2h1v2h-1zm1 2h1v2h-1zm1 2h1v2h-1zm1 2h1v1h-1zm1 1h1v2h-1zm1 2h1v1h-1zm1 1h1v2h-1zm1 2h1v2h-1zm1 2h1v2h-1zm1 2h1v2h-1zm1 2h1v2h-1zm1 2h1v2h-1zm1 2h1v1h-1zm1 1h1v1h-1zm1 1h1v1h-1zm1 1h1v1h-1zm1 1h1v2h-1zm1 2h1v1h-1zm1 1h1v2h-1zm1 2h1v1h-1zm1 1h1v1h-1zm1 1h2v1h-2zm2 1h1v1h-1zm1 1h2v1h-2zm2 1h3v1h-3zm3 1h4v1h-4zm4 -1h8v1h-8zm8 1h3v1h-3zm3 1h1v1h-1zm1 1h2v1h-2zm2 1h2v1h-2zm2 1h3v1h-3zm3 1h2v1h-2zm2 1h6v1h-6zm6 1h1v1h-1zm1 1h1v1h-1zm1 1h1v1h-1zm1 1h5v1h-5zm5 1h1v1h-1zm1 1h2v1h-2zm2 1h1v1h-1zm1 1h1v1h-1zm1 1h2v1h-2zm2 1h1v1h-1zm1 1h2v1h-2zm2 1h3v1h-3zm3 -1h3v1h-3zm3 -1h2v1h-2zm2 -1h2v1h-2zm2 -1h1v1h-1zm1 -1h1v1h-1zm1 -1h1v1h-1zm1 -1h1v1h-1zm1 -1h1v1h-1zm1 -1h1v1h-1zm1 -1h1v1h-1zm1 -1h1v1h-1zm1 -2h1v2h-1zm1 -2h1v2h-1zm1 -2h1v2h-1zm1 -1h1v1h-1zm1 -2h1v2h-1zm1 -1h1v1h-1zm1 -2h1v2h-1zm1 -1h1v1h-1zm1 -1h1v1h-1zm1 -1h1v1h-1zm1 -1h1v1h-1zm1 -1h1v1h-1zm1 -2h1v2h-1zm1 -1h1v1h-1zm1 -2h1v2h-1zm1 -1h1v1h-1zm1 -2h1v2h-1zm1 -2h1v2h-1zm1 -2h1v2h-1zm1 -1h1v1h-1zm1 -2h1v2h-1zm1 -2h1v2h-1zm1 -2h1v2h-1zm1 -2h1v2h-1zm1 -2h1v2h-1zm1 -2h1v2h-1zm1 -2h1v2h-1zm1 -1h1v1h-1zm1 -2h1v2h-1zm1 -2h1v2h-1zm1 -2h1v2h-1zm1 -1h1v1h-1zm1 -2h1v2h-1zm1 -1h1v1h-1zm1 -2h1v2h-1zm1 -1h1v1h-1zm1 -1h2v1h-2zm2 -1h3v1h-3zm3 1h3v1h-3zm3 1h1v1h-1zm1 1h2v1h-2zm2 1h1v1h-1zm1 1h1v1h-1zm1 1h1v2h-1zm1 2h1v1h-1zm1 1h1v1h-1zm1 1h2v1h-2zm2 1h2v1h-2zm2 1h1v2h-1zm1 2h1v2h-1zm1 2h1v2h-1zm1 2h1v1h-1zm1 1h1v2h-1zm1 2h1v1h-1zm1 1h1v2h-1zm1 2h1v1h-1zm1 1h1v1h-1zm1 1h1v2h-1zm1 2h1v1h-1zm1 1h1v1h-1zm1 1h1v2h-1zm1 2h1v1h-1zm1 1h1v2h-1zm1 2h1v1h-1zm1 1h1v2h-1zm1 2h1v2h-1zm1 2h1v2h-1zm1 2h1v2h-1zm1 2h1v2h-1zm1 2h1v2h-1zm1 2h1v2h-1zm1 2h1v3h-1zm1 3h1v2h-1zm1 2h1v2h-1zm1 2h1v2h-1zm1 2h1v2h-1zm1 2h1v2h-1zm1 2h1v1h-1zm1 1h1v2h-1zm1 2h1v1h-1zm1 1h1v1h-1zm1 1h1v1h-1zm1 1h1v1h-1zm1 1h2v1h-2zm2 1h4v1h-4zm4 1h3v1h-3zm3 1h2v1h-2zm2 1h2v1h-2zm2 1h1v1h-1zm1 1h2v1h-2zm2 1h2v1h-2zm2 1h3v1h-3zm3 -1h1v1h-1zm1 -1h2v1h-2zm2 -1h1v1h-1zm1 -1h1v1h-1zm1 -1h2v1h-2zm2 -1h13v1h-13zm13 -2h1v2h-1zm1 -2h1v2h-1zm1 -2h1v2h-1zm1 -1h1v1h-1zm1 -2h1v2h-1zm1 -2h1v2h-1zm1 -2h1v2h-1zm1 -1h1v1h-1zm1 -2h1v2h-1zm1 -1h1v1h-1zm1 -2h1v2h-1zm1 -1h1v1h-1zm1 -1h1v1h-1zm1 -2h1v2h-1zm1 -1h1v1h-1zm1 -1h1v1h-1zm1 -1h1v1h-1zm1 -2h1v2h-1zm1 -1h1v1h-1zm1 -1h1v1h-1zm1 -1h1v1h-1zm1 -2h1v2h-1zm1 -1h1v1h-1zm1 -1h1v1h-1zm1 -1h1v1h-1zm1 -2h1v2h-1zm1 -1h1v1h-1zm1 -1h1v1h-1zm1 -1h1v1h-1zm1 -2h1v2h-1zm1 -1h1v1h-1zm1 -1h1v1h-1zm1 -1h1v1h-1zm1 -1h2v1h-2zm2 -1h1v1h-1zm1 -1h2v1h-2zm2 -1h2v1h-2zm2 -1h1v1h-1zm1 -1h2v1h-2zm2 -1h1v1h-1zm1 -1h1v1h-1zm1 -2h1v2h-1zm1 -1h1v1h-1zm1 -1h1v1h-1zm1 -2h1v2h-1zm1 -2h1v2h-1zm1 -2h1v2h-1zm1 -1h1v1h-1zm1 -2h1v2h-1zm1 -2h1v2h-1zm1 -2h1v2h-1zm1 -2h1v2h-1zm1 -1h1v1h-1zm1 -1h1v1h-1zm1 -1h1v1h-1zm1 -1h1v1h-1zm1 -1h1v1h-1zm1 -1h2v1h-2zm2 -1h1v1h-1zm1 -1h2v1h-2zm2 -1h2v1h-2zm2 -1h2v1h-2zm2 -1h3v1h-3zm3 -1h4v1h-4zm4 -1h4v1h-4zm4 -1h4v1h-4zm4 -1h4v1h-4zm4 -1h7v1h-7zm7 1h1v1h-1zm1 1h1v2h-1zm1 2h1v1h-1zm1 1h1v1h-1zm1 1h1v1h-1zm1 1h2v1h-2zm2 1h1v1h-1zm1 1h1v1h-1zm1 1h2v1h-2zm2 1h1v1h-1zm1 1h1v1h-1zm1 1h1v2h-1zm1 2h1v1h-1zm1 1h1v1h-1zm1 1h1v1h-1zm1 1h1v2h-1zm1 2h1v1h-1zm1 1h1v1h-1zm1 1h1v1h-1zm1 1h1v2h-1zm1 2h1v1h-1zm1 1h1v1h-1zm1 1h1v1h-1zm1 1h1v2h-1zm1 2h1v1h-1zm1 1h1v1h-1zm1 1h1v1h-1zm1 1h1v2h-1zm1 2h1v1h-1zm1 1h1v1h-1zm1 1h1v2h-1zm1 2h1v1h-1zm1 1h1v2h-1zm1 2h1v1h-1zm1 1h1v1h-1zm1 1h1v1h-1zm1 1h1v1h-1zm1 1h1v1h-1zm1 1h1v1h-1zm1 1h1v1h-1zm1 1h1v1h-1zm1 1h1v1h-1zm1 1h1v1h-1zm1 1h1v1h-1zm1 1h1v1h-1zm1 1h1v1h-1zm1 1h1v1h-1zm1 1h1v1h-1zm1 1h1v1h-1zm1 1h1v1h-1zm1 1h1v1h-1zm1 1h2v1h-2zm2 1h2v1h-2zm2 1h4v1h-4zm4 -1h4v1h-4zm4 -1h3v1h-3zm3 -1h2v1h-2zm2 -1h3v1h-3zm3 1h3v1h-3zm3 -1h2v1h-2zm2 -1h2v1h-2zm2 -1h2v1h-2zm2 -1h2v1h-2zm2 -1h1v1h-1zm1 -1h2v1h-2zm2 -1h2v1h-2zm2 -1h3v1h-3zm3 -1h1v1h-1zm1 -1h1v1h-1zm1 -1h1v1h-1zm1 -1h1v1h-1zm1 -2h1v2h-1zm1 -1h1v1h-1zm1 -2h1v2h-1zm1 -1h1v1h-1zm1 -1h1v1h-1zm1 -2h1v2h-1zm1 -1h1v1h-1zm1 -1h1v1h-1zm1 -1h1v1h-1zm1 -2h1v2h-1zm1 -1h1v1h-1zm1 -1h1v1h-1zm1 -2h1v2h-1zm1 -2h1v2h-1zm1 -2h1v2h-1zm1 -1h1v1h-1zm1 -1h1v1h-1zm1 -2h1v2h-1zm1 -1h1v1h-1zm1 -1h1v1h-1zm1 -1h2v1h-2zm2 -1h2v1h-2zm2 -1h2v1h-2zm2 -1h2v1h-2zm2 -1h1v1h-1zm1 -1h2v1h-2zm2 -1h1v1h-1zm1 -1h1v1h-1zm1 -1h1v1h-1zm1 -1h1v1h-1zm1 -1h1v1h-1zm1 -1h1v1h-1zm1 -1h1v1h-1zm1 -1h1v1h-1zm1 -1h1v1h-1zm1 -1h1v1h-1zm1 -2h1v2h-1zm1 -1h1v1h-1zm1 -1h1v1h-1zm1 -1h1v1h-1zm1 -2h1v2h-1zm1 -1h1v1h-1zm1 -1h1v1h-1zm1 -2h1v2h-1zm1 -2h1v2h-1zm1 -2h1v2h-1zm1 -1h1v1h-1zm1 -1h1v1h-1zm1 -2h1v2h-1zm1 -1h1v1h-1zm1 -1h1v1h-1z" fill="#ff0000"/>
<path d="M4 116h1v3h-1zm1 -5h1v5h-1zm1 -4h1v4h-1zm1 -5h1v5h-1zm1 -3h1v1h-1zm0 1h2v1h-2zm0 1h2v1h-2zm2 1h1v2h-1zm1 2h1v2h-1zm1 2h1v3h-1zm1 3h1v3h-1zm1 3h1v4h-1zm1 4h1v3h-1zm1 3h1v3h-1zm1 3h1v3h-1zm1 3h1v3h-1zm1 3h1v3h-1zm1 3h1v4h-1zm1 4h1v5h-1zm1 5h1v6h-1zm1 6h1v5h-1zm1 5h1v6h-1zm1 6h1v6h-1zm1 6h1v6h-1zm1 6h1v6h-1zm1 6h1v5h-1zm1 5h1v2h-1zm1 2h1v3h-1zm1 3h1v2h-1zm1 2h2v1h-2zm0 1h1v1h-1zm2 -2h2v1h-2zm2 -1h2v1h-2zm2 -1h3v1h-3zm3 1h1v1h-1zm1 1h1v2h-1zm1 2h1v1h-1zm1 1h2v1h-2zm2 1h3v1h-3zm3 1h1v1h-1zm1 1h2v1h-2zm2 1h1v1h-1zm1 1h1v2h-1zm1 2h1v2h-1zm1 2h1v2h-1zm1 2h1v2h-1zm1 2h1v2h-1zm1 2h1v2h-1zm1 2h1v2h-1zm1 2h1v2h-1zm1 2h1v2h-1zm1 2h1v2h-1zm1 2h1v2h-1zm1 2h1v3h-1zm1 3h1v4h-1zm1 4h1v4h-1zm1 4h1v4h-1zm1 4h1v4h-1zm1 4h1v5h-1zm1 5h1v5h-1zm1 5h1v5h-1zm1 5h1v5h-1zm1 5h1v4h-1zm1 4h1v4h-1zm1 4h1v4h-1zm1 4h1v5h-1zm1 5h1v5h-1zm1 5h1v6h-1zm1 6h1v5h-1zm1 5h1v3h-1zm1 3h1v2h-1zm1 2h1v2h-1zm1 2h1v2h-1zm1 2h1v2h-1zm1 2h1v2h-1zm1 2h1v2h-1zm1 2h1v2h-1zm1 2h1v1h-1zm0 1h2v1h-2zm2 1h11v1h-11zm11 1h2v1h-2zm2 1h2v1h-2zm2 1h1v1h-1zm1 1h1v1h-1zm1 1h1v1h-1zm1 1h1v1h-1zm1 1h1v2h-1zm1 2h1v1h-1zm1 1h1v2h-1zm1 2h1v1h-1zm1 -2h1v2h-1zm1 -2h1v2h-1zm1 -2h1v2h-1zm1 -3h1v3h-1zm1 -3h1v3h-1zm1 -3h1v3h-1zm1 -3h1v3h-1zm1 -3h1v3h-1zm1 -4h1v4h-1zm1 -3h1v3h-1zm1 -4h1v4h-1zm1 -4h1v4h-1zm1 -5h1v5h-1zm1 -4h1v4h-1zm1 -5h1v5h-1zm1 -6h1v6h-1zm1 -6h1v6h-1zm1 -6h1v6h-1zm1 -6h1v6h-1zm1 -5h1v5h-1zm1 -3h1v3h-1zm1 -3h1v3h-1zm1 -3h1v3h-1zm1 -3h1v3h-1zm1 -3h1v3h-1zm1 -4h1v4h-1zm1 -3h1v3h-1zm1 -3h1v3h-1zm1 -2h1v2h-1zm1 -3h1v3h-1zm1 -2h1v2h-1zm1 -3h1v3h-1zm1 -3h1v3h-1zm1 -2h1v2h-1zm1 -3h1v3h-1zm1 -2h1v2h-1zm1 -1h1v1h-1zm1 -2h1v2h-1zm1 -1h1v1h-1zm1 -1h1v1h-1zm1 1h2v1h-2zm2 1h2v1h-2zm2 1h1v2h-1zm1 2h1v1h-1zm1 1h1v2h-1zm1 2h1v1h-1zm1 1h1v1h-1zm1 1h2v1h-2zm2 1h1v1h-1zm1 1h1v1h-1zm1 1h1v2h-1zm1 2h1v1h-1zm1 1h1v1h-1zm1 1h1v2h-1zm1 2h1v2h-1zm1 2h1v2h-1zm1 2h1v1h-1zm1 1h1v2h-1zm1 2h1v2h-1zm1 2h1v2h-1zm1 2h1v1h-1zm1 1h1v1h-1zm1 1h1v1h-1zm1 1h1v1h-1zm1 1h1v2h-1zm1 2h1v3h-1zm1 3h1v3h-1zm1 3h1v3h-1zm1 3h1v1h-1zm0 1h5v1h-5zm5 -1h1v1h-1zm1 -1h1v1h-1zm1 -1h1v1h-1zm1 -1h1v1h-1zm1 -1h1v1h-1zm1 -1h1v1h-1zm1 -1h1v1h-1zm1 -1h1v1h-1zm1 -1h1v1h-1zm1 -1h2v1h-2zm2 -2h1v2h-1zm1 -3h1v3h-1zm1 -4h1v4h-1zm1 -3h1v3h-1zm1 -4h1v4h-1zm1 -4h1v4h-1zm1 -5h1v5h-1zm1 -4h1v4h-1zm1 -4h1v4h-1zm1 -3h1v3h-1zm1 -3h1v3h-1zm1 -3h1v3h-1zm1 -3h1v3h-1zm1 -3h1v3h-1zm1 -2h1v2h-1zm1 -3h1v3h-1zm1 -3h1v3h-1zm1 -3h1v3h-1zm1 -2h1v2h-1zm1 -3h1v3h-1zm1 -2h1v2h-1zm1 -2h1v2h-1zm1 -1h1v1h-1zm1 -2h2v1h-2zm0 1h2v1h-2zm1 -2h1v1h-1zm1 3h1v6h-1zm1 6h1v6h-1zm1 6h1v6h-1zm1 6h1v5h-1zm1 5h1v6h-1zm1 6h1v5h-1zm1 5h1v6h-1zm1 6h1v5h-1zm1 5h1v6h-1zm1 6h1v6h-1zm1 6h1v6h-1zm1 6h1v5h-1zm1 5h1v5h-1zm1 5h1v4h-1zm1 4h1v5h-1zm1 5h1v6h-1zm1 6h1v6h-1zm1 6h1v6h-1zm1 6h1v6h-1zm1 6h1v4h-1zm1 4h1v2h-1zm1 2h1v1h-1zm1 1h1v2h-1zm1 2h2v1h-2zm2 -1h7v1h-7zm7 -2h1v2h-1zm1 -1h1v1h-1zm1 -2h1v2h-1zm1 -2h1v2h-1zm1 -3h1v3h-1zm1 -2h1v2h-1zm1 -3h1v3h-1zm1 -2h1v2h-1zm1 -2h1v2h-1zm1 -1h1v1h-1zm1 -2h1v2h-1zm1 -1h1v1h-1zm1 -1h1v1h-1zm1 -1h1v1h-1zm1 -1h1v1h-1zm1 -2h1v2h-1zm1 -3h1v3h-1zm1 -2h1v2h-1zm1 -3h1v3h-1zm1 -2h1v1h-1zm0 1h2v1h-2zm2 1h1v2h-1zm1 2h1v1h-1zm1 1h2v1h-2zm2 1h7v1h-7zm7 -1h1v1h-1zm1 -1h1v1h-1zm1 -1h1v1h-1zm1 -1h2v1h-2zm2 -1h3v1h-3zm3 -2h1v2h-1zm1 -2h1v2h-1zm1 -2h1v2h-1zm1 -2h1v1h-1zm0 1h2v1h-2zm2 1h2v1h-2zm2 1h1v1h-1zm1 1h1v1h-1zm1 1h1v2h-1zm1 2h1v1h-1zm1 1h1v2h-1zm1 2h1v4h-1zm1 4h1v4h-1zm1 4h1v4h-1zm1 4h1v3h-1zm1 3h1v3h-1zm1 3h1v4h-1zm1 4h1v3h-1zm1 3h1v3h-1zm1 3h1v2h-1zm1 2h1v3h-1zm1 3h1v2h-1zm1 2h1v3h-1zm1 3h1v3h-1zm1 3h1v4h-1zm1 4h1v3h-1zm1 3h1v3h-1zm1 3h1v2h-1zm1 2h1v2h-1zm1 2h1v2h-1zm1 2h1v2h-1zm1 2h1v1h-1zm1 1h1v2h-1zm1 2h1v1h-1zm1 1h1v1h-1zm1 1h1v1h-1zm1 1h1v2h-1zm1 2h1v1h-1zm1 1h1v1h-1zm1 1h1v1h-1zm1 1h2v1h-2zm2 1h1v1h-1zm1 -2h1v2h-1zm1 -2h1v2h-1zm1 -2h1v2h-1zm1 -2h1v2h-1zm1 -2h1v2h-1zm1 -2h1v2h-1zm1 -2h1v2h-1zm1 -2h1v2h-1zm1 -1h1v1h-1zm1 -1h1v1h-1zm1 -1h1v1h-1zm1 -1h1v1h-1zm1 -2h1v2h-1zm1 -1h1v1h-1zm1 -2h1v2h-1zm1 -1h1v1h-1zm1 -1h1v1h-1zm1 -1h1v1h-1zm1 -1h1v1h-1zm1 -1h1v1h-1zm1 -1h2v1h-2zm2 -1h2v1h-2zm2 -1h2v1h-2zm2 -1h2v1h-2zm2 -1h1v1h-1zm1 -1h1v1h-1zm1 -1h1v1h-1zm1 -1h1v1h-1zm1 -1h1v1h-1zm1 -1h2v1h-2zm2 -1h2v1h-2zm2 -1h3v1h-3zm3 1h1v1h-1zm1 1h2v1h-2zm2 1h1v1h-1zm1 -1h2v1h-2zm2 -1h2v1h-2zm2 -2h1v2h-1zm1 -2h1v2h-1zm1 -2h1v2h-1zm1 -2h1v1h-1zm0 1h2v1h-2zm1 1h1v1h-1zm1 1h1v1h-1zm1 1h1v2h-1zm1 2h1v1h-1zm1 1h2v1h-2zm2 1h2v1h-2zm2 -1h1v1h-1zm1 -1h1v1h-1zm1 -1h1v1h-1zm1 -1h1v1h-1zm1 1h1v1h-1zm1 1h2v1h-2zm2 1h1v1h-1zm1 1h1v1h-1zm1 1h2v1h-2zm2 1h1v1h-1zm1 1h2v1h-2zm2 1h2v1h-2zm2 -2h1v2h-1zm1 -2h1v2h-1zm1 -2h1v2h-1zm1 -1h2v1h-2zm2 -1h7v1h-7zm7 1h2v1h-2zm2 1h2v1h-2zm1 -1h1v1h-1zm1 -2h1v2h-1zm1 -3h1v3h-1zm1 -2h1v2h-1zm1 -2h2v1h-2zm0 1h1v1h-1zm2 -2h3v1h-3zm3 -2h1v2h-1zm1 -1h1v1h-1zm1 -2h1v2h-1zm1 -1h1v1h-1zm1 -1h1v1h-1zm1 -1h1v1h-1zm1 -1h1v1h-1zm1 -2h1v2h-1zm1 -3h1v3h-1zm1 -2h1v2h-1zm1 -3h1v3h-1zm1 -2h1v2h-1zm1 -2h1v2h-1zm1 -2h1v2h-1zm1 -2h1v2h-1zm1 -1h1v1h-1zm1 -2h1v2h-1zm1 -2h1v2h-1zm1 -2h1v2h-1zm1 -1h1v1h-1zm1 -1h2v1h-2zm2 -1h2v1h-2zm2 -2h1v2h-1zm1 -1h1v1h-1zm1 -2h1v2h-1zm1 -1h1v1h-1zm1 1h1v1h-1zm1 1h1v1h-1zm1 1h1v1h-1zm1 1h1v1h-1zm1 1h1v1h-1zm1 1h1v1h-1zm1 1h1v1h-1zm1 1h1v1h-1zm1 1h1v1h-1zm1 1h1v1h-1zm1 1h1v1h-1zm1 1h1v1h-1zm1 1h1v2h-1zm1 2h1v1h-1zm1 1h1v2h-1zm1 2h1v2h-1zm1 2h1v3h-1zm1 3h1v2h-1zm1 2h1v3h-1zm1 3h1v4h-1zm1 4h1v4h-1zm1 4h1v4h-1zm1 4h1v4h-1zm1 4h1v5h-1zm1 5h1v5h-1zm1 5h1v5h-1zm1 5h1v5h-1zm1 5h1v4h-1zm1 4h1v4h-1zm1 4h1v4h-1zm1 4h1v4h-1zm1 4h1v4h-1zm1 4h1v3h-1zm1 3h1v4h-1zm1 4h1v3h-1zm1 3h1v2h-1zm1 2h1v2h-1zm1 2h1v1h-1zm1 1h1v2h-1zm1 2h1v1h-1zm1 -1h2v1h-2zm2 -1h2v1h-2zm2 -1h1v1h-1zm1 -1h1v1h-1zm1 -1h1v1h-1zm1 -1h1v1h-1zm1 1h1v2h-1zm1 2h1v1h-1zm1 1h1v2h-1zm1 2h1v1h-1zm1 1h1v1h-1zm1 1h2v1h-2zm2 1h1v1h-1zm1 1h1v2h-1zm1 2h1v1h-1zm1 1h1v2h-1zm1 2h1v1h-1zm1 1h1v2h-1zm1 2h1v2h-1zm1 2h1v2h-1zm1 2h1v1h-1zm1 1h1v1h-1zm1 1h1v1h-1zm1 1h1v1h-1zm1 1h5v1h-5zm5 1h1v2h-1zm1 2h1v1h-1zm1 1h1v2h-1zm1 2h1v1h-1zm1 1h1v1h-1zm1 1h2v1h-2zm2 1h2v1h-2zm2 -1h3v1h-3zm3 1h1v2h-1zm1 2h1v2h-1zm1 2h1v2h-1zm1 2h1v3h-1zm1 3h1v2h-1zm1 2h1v2h-1zm1 2h1v2h-1zm1 2h1v2h-1zm1 2h1v2h-1zm1 2h1v2h-1zm1 2h1v2h-1zm1 2h1v2h-1zm1 2h1v3h-1zm1 3h1v4h-1zm1 4h1v3h-1zm1 3h1v4h-1zm1 4h1v4h-1zm1 4h1v5h-1zm1 5h1v4h-1zm1 4h1v4h-1zm1 4h1v3h-1zm1 3h1v3h-1zm1 3h1v3h-1zm1 3h1v2h-1zm1 2h1v1h-1zm1 1h1v2h-1zm1 2h1v1h-1zm1 1h1v1h-1zm1 1h1v2h-1zm1 2h1v2h-1zm1 2h1v2h-1zm1 2h1v2h-1zm1 2h1v1h-1zm1 1h2v1h-2zm2 1h1v1h-1zm1 -1h1v1h-1zm1 -1h2v1h-2zm2 -1h1v1h-1zm1 -2h1v2h-1zm1 -2h1v2h-1zm1 -2h1v2h-1zm1 -1h1v1h-1zm1 -1h1v1h-1zm1 -1h2v1h-2zm2 -1h1v1h-1zm1 -1h1v1h-1zm1 -2h1v2h-1zm1 -1h1v1h-1zm1 -1h1v1h-1zm1 -2h1v2h-1zm1 -2h1v2h-1zm1 -2h1v2h-1zm1 -2h1v2h-1zm1 -1h2v1h-2zm2 -1h3v1h-3zm3 1h7v1h-7zm7 -1h1v1h-1zm1 -1h1v1h-1zm1 -1h1v1h-1zm1 -1h1v1h-1zm1 -1h1v1h-1zm1 -1h2v1h-2zm2 -2h1v2h-1zm1 -3h1v3h-1zm1 -2h1v2h-1zm1 -3h1v3h-1zm1 -3h1v3h-1zm1 -2h1v2h-1zm1 -3h1v3h-1zm1 -2h1v2h-1zm1 -2h1v2h-1zm1 -2h1v2h-1zm1 -2h1v2h-1zm1 -2h1v2h-1zm1 -3h1v3h-1zm1 -2h1v2h-1zm1 -2h1v2h-1zm1 -2h1v2h-1zm1 -2h1v2h-1zm1 -2h1v2h-1zm1 -2h1v2h-1zm1 -2h1v2h-1zm1 -1h1v1h-1zm1 1h1v1h-1zm1 1h1v1h-1zm1 1h1v1h-1zm1 1h1v1h-1zm1 1h2v1h-2zm2 1h2v1h-2zm2 1h1v2h-1zm1 2h1v2h-1zm1 2h1v2h-1zm1 2h1v2h-1zm1 2h1v3h-1zm1 3h1v4h-1zm1 4h1v3h-1zm1 3h1v4h-1zm1 4h1v5h-1zm1 5h1v5h-1zm1 5h1v5h-1zm1 5h1v4h-1zm1 4h1v4h-1zm1 4h1v3h-1zm1 3h1v4h-1zm1 4h1v3h-1zm1 3h1v4h-1zm1 4h1v3h-1zm1 3h1v4h-1zm1 4h1v3h-1zm1 3h1v2h-1zm1 2h1v3h-1zm1 3h1v2h-1zm1 2h1v2h-1zm1 2h1v2h-1zm1 2h1v1h-1zm1 1h1v2h-1zm1 2h1v1h-1zm1 -2h1v2h-1zm1 -1h1v1h-1zm1 -2h1v2h-1zm1 -1h1v1h-1zm1 -2h1v2h-1zm1 -2h1v2h-1zm1 -2h1v2h-1zm1 -3h1v3h-1zm1 -2h1v2h-1zm1 -3h1v3h-1zm1 -2h1v2h-1zm1 -3h1v3h-1zm1 -4h1v4h-1zm1 -3h1v3h-1zm1 -4h1v4h-1zm1 -3h1v3h-1zm1 -4h1v4h-1zm1 -4h1v4h-1zm1 -4h1v4h-1zm1 -4h1v4h-1zm1 -2h1v2h-1zm1 -3h1v3h-1zm1 -2h1v2h-1zm1 -3h1v3h-1zm1 -3h1v3h-1zm1 -3h1v3h-1zm1 -3h1v3h-1zm1 -3h1v3h-1zm1 -3h1v3h-1zm1 -3h1v3h-1zm1 -3h1v3h-1zm1 -2h1v2h-1zm1 -2h1v2h-1zm1 -2h1v2h-1zm1 -2h1v2h-1zm1 -2h1v1h-1zm0 1h3v1h-3zm3 1h6v1h-6zm6 -2h1v2h-1zm1 -1h1v1h-1zm1 -2h1v2h-1zm1 -1h2v1h-2zm2 -1h3v1h-3zm3 1h1v2h-1zm1 2h1v2h-1zm1 2h1v2h-1zm1 2h2v1h-2zm0 1h1v1h-1zm2 -2h2v1h-2zm2 -1h1v1h-1zm1 1h1v1h-1zm1 1h1v1h-1zm1 1h1v1h-1zm1 1h1v2h-1zm1 2h1v4h-1zm1 4h1v4h-1zm1 4h1v4h-1zm1 4h1v3h-1zm1 3h1v2h-1zm1 2h1v2h-1zm1 2h1v2h-1zm1 2h2v1h-2zm0 1h1v1h-1zm2 -2h2v1h-2zm2 -1h1v1h-1zm1 -1h1v1h-1zm1 -1h2v1h-2zm2 -2h1v2h-1zm1 -2h1v2h-1zm1 -2h1v2h-1zm1 -2h1v2h-1zm1 -3h1v3h-1zm1 -4h1v4h-1zm1 -4h1v4h-1zm1 -4h1v4h-1zm1 -3h1v3h-1zm1 -2h1v2h-1zm1 -2h1v2h-1zm1 -2h1v2h-1zm1 -2h1v2h-1zm1 -1h1v1h-1zm1 -2h1v2h-1zm1 -1h1v1h-1zm1 -1h1v1h-1zm1 -2h1v2h-1zm1 -1h1v1h-1zm1 -2h1v2h-1zm1 -1h1v1h-1zm1 -1h2v1h-2zm2 -1h2v1h-2zm2 -1h2v1h-2zm2 -1h2v1h-2zm2 -1h1v1h-1zm1 -1h2v1h-2zm2 -1h1v1h-1zm1 1h1v1h-1zm1 1h2v1h-2zm2 1h1v2h-1zm1 2h1v2h-1zm1 2h1v3h-1zm1 3h1v2h-1zm1 2h1v3h-1zm1 3h1v3h-1zm1 3h1v4h-1zm1 4h1v3h-1zm1 3h1v4h-1zm1 4h1v5h-1zm1 5h1v5h-1zm1 5h1v5h-1zm1 5h1v5h-1zm1 5h1v5h-1zm1 5h1v5h-1zm1 5h1v5h-1zm1 5h1v4h-1zm1 4h1v3h-1zm1 3h1v4h-1zm1 4h1v3h-1zm1 3h1v3h-1zm1 3h1v4h-1zm1 4h1v4h-1zm1 4h1v4h-1zm1 4h1v3h-1zm1 3h1v2h-1zm1 2h1v3h-1zm1 3h1v2h-1zm1 2h1v2h-1zm1 2h1v2h-1zm1 2h1v2h-1zm1 2h1v2h-1zm1 2h1v2h-1zm1 2h1v4h-1zm1 4h1v4h-1zm1 4h1v4h-1zm1 4h1v3h-1zm1 3h1v4h-1zm1 4h1v4h-1zm1 4h1v4h-1zm1 4h1v4h-1zm1 4h1v3h-1zm1 3h1v4h-1zm1 4h1v3h-1zm1 3h1v4h-1zm1 4h1v4h-1zm1 4h1v5h-1zm1 5h1v4h-1zm1 4h1v4h-1zm1 4h1v4h-1zm1 4h1v4h-1zm1 4h1v4h-1zm1 4h1v1h-1zm0 1h2v1h-2zm2 -1h4v1h-4zm4 -1h3v1h-3zm3 -1h2v1h-2zm2 -1h2v1h-2zm2 1h2v1h-2zm2 1h2v1h-2zm2 -2h1v2h-1zm1 -1h1v1h-1zm1 -2h2v1h-2zm0 1h1v1h-1zm1 -2h1v1h-1zm1 2h1v2h-1zm1 2h1v3h-1zm1 3h1v2h-1zm1 2h1v2h-1zm1 2h2v1h-2zm2 1h2v1h-2zm2 1h2v1h-2zm2 1h2v1h-2zm2 -1h1v1h-1zm1 -1h1v1h-1zm1 -1h1v1h-1zm1 -1h1v1h-1zm1 1h1v1h-1zm1 1h2v1h-2zm2 1h1v1h-1zm1 -1h1v1h-1zm1 -2h1v2h-1zm1 -1h1v1h-1zm1 -1h1v1h-1zm1 -1h2v1h-2zm2 -1h2v1h-2zm2 1h1v1h-1zm1 1h2v1h-2zm2 1h1v1h-1zm1 1h1v1h-1zm1 1h1v2h-1zm1 2h1v1h-1zm1 1h1v1h-1zm1 1h1v1h-1zm1 1h1v1h-1zm1 1h1v1h-1zm1 1h2v1h-2zm2 -1h3v1h-3zm3 1h1v1h-1zm1 1h1v2h-1zm1 2h1v1h-1zm1 1h1v1h-1zm1 1h1v1h-1zm1 1h2v1h-2zm2 1h1v1h-1zm1 1h2v1h-2zm2 1h2v1h-2zm2 1h1v1h-1zm1 1h2v1h-2zm2 1h1v1h-1zm1 1h1v2h-1zm1 2h1v2h-1zm1 2h1v2h-1zm1 2h1v2h-1zm1 2h1v2h-1zm1 2h1v1h-1zm1 1h1v2h-1zm1 2h1v1h-1zm1 -1h2v1h-2zm2 -1h2v1h-2zm1 -1h1v1h-1zm1 -2h1v2h-1zm1 -2h1v2h-1zm1 -2h1v2h-1zm1 -3h1v3h-1zm1 -3h1v3h-1zm1 -4h1v4h-1zm1 -3h1v3h-1zm1 -4h1v4h-1zm1 -5h1v5h-1zm1 -4h1v4h-1zm1 -5h1v5h-1zm1 -5h1v5h-1zm1 -5h1v5h-1zm1 -4h1v4h-1zm1 -5h1v5h-1zm1 -5h1v5h-1zm1 -4h1v4h-1zm1 -4h1v4h-1zm1 -4h1v4h-1zm1 -4h1v4h-1zm1 -3h1v3h-1zm1 -2h1v2h-1zm1 -3h1v3h-1zm1 -2h1v2h-1zm1 -2h1v2h-1zm1 -1h1v1h-1zm1 -2h1v2h-1zm1 -1h1v1h-1zm1 -1h2v1h-2zm2 -1h2v1h-2zm2 -2h1v2h-1zm1 -1h1v1h-1zm1 -2h1v2h-1zm1 -1h10v1h-10zm10 1h3v1h-3zm3 1h1v1h-1zm1 1h1v1h-1zm1 1h1v1h-1zm1 1h1v2h-1zm1 2h1v3h-1zm1 3h1v4h-1zm1 4h1v3h-1zm1 3h1v4h-1zm1 4h1v4h-1zm1 4h1v4h-1zm1 4h1v4h-1zm1 4h1v4h-1zm1 4h1v4h-1zm1 4h1v3h-1zm1 3h1v4h-1zm1 4h1v3h-1zm1 3h1v3h-1zm1 3h1v4h-1zm1 4h1v3h-1zm1 3h1v2h-1zm1 2h1v2h-1zm1 2h1v2h-1zm1 2h1v2h-1zm1 2h1v1h-1zm1 1h1v2h-1zm1 2h1v2h-1zm1 2h1v2h-1zm1 2h1v1h-1zm1 1h2v1h-2zm2 1h6v1h-6zm6 1h2v1h-2zm2 1h2v1h-2zm2 1h1v2h-1zm1 2h1v2h-1zm1 2h1v2h-1zm1 2h1v1h-1zm1 1h1v2h-1zm1 2h1v1h-1zm1 1h1v2h-1zm1 2h1v2h-1zm1 2h1v2h-1zm1 2h1v2h-1zm1 2h1v2h-1zm1 2h1v1h-1zm0 1h2v1h-2zm2 1h7v1h-7zm7 -1h1v1h-1zm1 -1h1v1h-1zm1 -1h1v1h-1zm1 -1h1v1h-1zm1 -2h1v2h-1zm1 -1h1v1h-1zm1 -2h1v2h-1zm1 -1h1v1h-1zm1 -1h1v1h-1zm1 -1h1v1h-1zm1 -1h1v1h-1zm1 -1h1v1h-1zm1 1h1v1h-1zm1 1h1v1h-1zm1 1h1v1h-1zm1 1h2v1h-2zm2 -1h3v1h-3zm3 -1h1v1h-1zm1 -2h1v2h-1zm1 -1h1v1h-1zm1 -2h1v2h-1zm1 -2h1v2h-1zm1 -2h1v2h-1zm1 -2h1v2h-1zm1 -2h1v2h-1zm1 -2h1v2h-1zm1 -1h1v1h-1zm1 -2h1v2h-1zm1 -1h1v1h-1zm1 -1h1v1h-1zm1 -1h1v1h-1zm1 -1h1v1h-1zm1 -1h1v1h-1zm1 1h2v1h-2zm2 1h2v1h-2zm2 -1h1v1h-1zm1 -1h2v1h-2zm2 -1h1v1h-1zm1 -2h1v2h-1zm1 -2h1v2h-1zm1 -2h1v2h-1zm1 -2h1v2h-1zm1 -3h1v3h-1zm1 -3h1v3h-1zm1 -3h1v3h-1zm1 -3h1v3h-1zm1 -4h1v4h-1zm1 -4h1v4h-1zm1 -4h1v4h-1zm1 -4h1v4h-1zm1 -4h1v4h-1zm1 -4h1v4h-1zm1 -4h1v4h-1zm1 -2h1v2h-1zm1 -1h1v1h-1zm1 -1h1v1h-1zm1 -1h1v1h-1zm1 -1h1v1h-1zm1 1h1v1h-1zm1 1h1v2h-1zm1 2h1v1h-1zm1 1h1v1h-1zm1 1h1v1h-1zm1 1h2v1h-2zm2 1h1v1h-1zm1 1h1v2h-1zm1 2h1v2h-1zm1 2h1v2h-1zm1 2h1v1h-1zm1 1h1v1h-1zm1 1h2v1h-2zm2 1h1v1h-1zm1 -1h2v1h-2zm2 -1h2v1h-2zm2 -2h1v2h-1zm1 -2h1v2h-1zm1 -2h1v2h-1zm1 -2h1v2h-1zm1 -2h1v2h-1zm1 -2h1v2h-1zm1 -2h1v2h-1zm1 -3h1v3h-1zm1 -4h1v4h-1zm1 -3h1v3h-1zm1 -4h1v4h-1zm1 -3h1v3h-1zm1 -2h1v2h-1zm1 -3h1v3h-1zm1 -2h1v2h-1zm1 -2h1v2h-1zm1 -2h1v2h-1zm1 -1h1v1h-1zm1 -2h1v2h-1zm1 -1h1v1h-1zm1 -1h1v1h-1zm1 -1h2v1h-2zm2 -1h5v1h-5zm5 1h1v1h-1zm1 1h1v1h-1zm1 1h1v1h-1zm1 1h1v1h-1zm1 1h1v2h-1zm1 2h1v1h-1zm1 1h1v2h-1zm1 2h1v1h-1zm1 1h1v2h-1zm1 2h1v2h-1zm1 2h1v2h-1zm1 2h1v1h-1zm1 1h1v2h-1zm1 2h1v2h-1zm1 2h1v2h-1zm1 2h1v1h-1zm1 1h1v2h-1zm1 2h1v2h-1zm1 2h1v2h-1zm1 2h1v2h-1zm1 2h1v2h-1zm1 2h1v2h-1zm1 2h1v2h-1zm1 2h1v3h-1zm1 3h1v3h-1zm1 3h1v3h-1zm1 3h1v3h-1zm1 3h1v2h-1zm1 2h1v2h-1zm1 2h1v1h-1zm1 1h1v2h-1zm1 2h1v1h-1zm1 1h1v1h-1zm1 1h1v2h-1zm1 2h1v1h-1zm1 1h1v1h-1zm1 1h1v1h-1zm1 1h2v1h-2zm2 1h2v1h-2zm2 1h3v1h-3zm3 -1h1v1h-1zm1 -1h1v1h-1zm1 -1h1v1h-1zm1 -1h1v1h-1zm1 1h2v1h-2zm2 1h2v1h-2zm2 1h1v1h-1zm1 1h1v2h-1zm1 2h1v1h-1zm1 1h1v1h-1zm1 1h1v1h-1zm1 1h1v2h-1zm1 2h1v1h-1zm1 1h1v1h-1zm1 1h1v2h-1zm1 2h1v2h-1zm1 2h1v2h-1zm1 2h1v2h-1zm1 2h2v1h-2zm2 1h2v1h-2zm2 1h1v1h-1zm1 1h2v1h-2zm2 1h1v1h-1zm1 1h2v1h-2zm2 1h2v1h-2zm2 1h1v1h-1zm1 1h2v1h-2zm2 1h2v1h-2zm2 1h3v1h-3zm3 -1h1v1h-1zm1 -1h1v1h-1zm1 -1h1v1h-1zm1 -2h1v2h-1zm1 -2h1v2h-1zm1 -2h1v2h-1zm1 -2h1v2h-1zm1 -3h1v3h-1zm1 -3h1v3h-1zm1 -3h1v3h-1zm1 -3h1v3h-1zm1 -3h1v3h-1zm1 -2h1v2h-1zm1 -2h1v2h-1zm1 -2h1v2h-1zm1 -3h1v3h-1zm1 -2h1v2h-1zm1 -2h1v2h-1zm1 -2h1v2h-1zm1 -2h1v2h-1zm1 -1h1v1h-1zm1 -1h1v1h-1zm1 -1h1v1h-1zm1 -1h2v1h-2zm2 1h3v1h-3zm3 1h1v2h-1zm1 2h1v2h-1zm1 2h1v2h-1zm1 2h1v1h-1zm1 -1h1v1h-1zm1 -1h1v1h-1zm1 -1h1v1h-1zm1 -2h1v2h-1zm1 -3h1v3h-1zm1 -2h1v2h-1zm1 -3h1v3h-1zm1 -2h1v2h-1zm1 -1h1v1h-1zm1 -1h1v1h-1zm1 -1h1v1h-1zm1 -1h1v1h-1zm1 -2h1v2h-1zm1 -1h1v1h-1zm1 -2h1v2h-1zm1 -2h1v2h-1zm1 -3h1v3h-1zm1 -4h1v4h-1zm1 -3h1v3h-1zm1 -2h2v1h-2zm0 1h1v1h-1zm2 -2h3v1h-3zm3 1h1v2h-1zm1 2h1v1h-1zm1 1h1v2h-1zm1 2h2v1h-2zm2 -1h3v1h-3zm3 -1h1v1h-1zm1 -2h1v2h-1zm1 -1h1v1h-1zm1 -1h5v1h-5zm4 -1h1v1h-1zm1 -2h1v2h-1zm1 -2h1v2h-1zm1 -2h1v2h-1zm1 -3h1v3h-1zm1 -2h1v2h-1zm1 -3h1v3h-1zm1 -2h1v2h-1zm1 -2h1v2h-1zm1 -2h1v2h-1zm1 -2h1v2h-1zm1 -2h1v2h-1zm1 -1h1v1h-1zm1 -1h1v1h-1zm1 -2h1v2h-1zm1 -1h1v1h-1zm1 -1h1v1h-1zm1 -2h1v2h-1zm1 -2h1v2h-1zm1 -2h1v2h-1zm1 -1h1v1h-1z" fill="#ffa500"/>
<rect x="4" y="334" width="1681" height="2" fill="#ff0000"/>
<rect x="3" y="332" width="6" height="6" fill="#ff0000"/>
<rect x="5" y="334" width="2" height="2" fill="#ffffff"/>
<rect x="1678" y="332" width="6" height="6" fill="#ff0000"/>
<rect x="1680" y="334" width="2" height="2" fill="#ffffff"/>
<rect x="4" y="406" width="1681" height="2" fill="#00ff00"/>
<rect x="3" y="404" width="6" height="6" fill="#00ff00"/>
<rect x="5" y="406" width="2" height="2" fill="#ffffff"/>
<rect x="1678" y="404" width="6" height="6" fill="#00ff00"/>
<rect x="1680" y="406" width="2" height="2" fill="#ffffff"/>
<rect x="4" y="479" width="1681" height="2" fill="#0000ff"/>
<rect x="4" y="574" width="1681" height="2" fill="#0000ff"/>
</g>
<g shape-rendering="crispEdges">
<rect x="1342" y="23" width="9" height="1" fill="#c0c0c0"/>
<rect x="1343" y="24" width="7" height="1" fill="#c0c0c0"/>
<rect x="1344" y="25" width="5" height="1" fill="#c0c0c0"/>
<rect x="1345" y="26" width="3" height="1" fill="#c0c0c0"/>
<rect x="1346" y="27" width="1" height="1" fill="#c0c0c0"/>
</g>
<g shape-rendering="crispEdges">
<rect x="1685" y="25" width="2" height="1" fill="#000"/>
<rect x="1685" y="58" width="2" height="1" fill="#000"/>
<rect x="1685" y="91" width="2" height="1" fill="#000"/>
<rect x="1685" y="124" width="2" height="1" fill="#000"/>
<rect x="1685" y="157" width="2" height="1" fill="#000"/>
<rect x="1685" y="190" width="2" height="1" fill="#000"/>
<rect x="1685" y="223" width="2" height="1" fill="#000"/>
<rect x="1685" y="256" width="2" height="1" fill="#000"/>
<rect x="1685" y="289" width="2" height="1" fill="#000"/>
<rect x="1685" y="322" width="2" height="1" fill="#000"/>
<rect x="1685" y="355" width="2" height="1" fill="#000"/>
<rect x="1685" y="388" width="2" height="1" fill="#000"/>
<rect x="1685" y="421" width="2" height="1" fill="#000"/>
<rect x="1685" y="454" width="2" height="1" fill="#000"/>
<rect x="1685" y="487" width="2" height="1" fill="#000"/>
<rect x="1685" y="520" width="2" height="1" fill="#000"/>
<rect x="1685" y="553" width="2" height="1" fill="#000"/>
<rect x="1685" y="586" width="2" height="1" fill="#000"/>
</g>
<text x="1689.7" y="29" font-size="9.6" fill="#000" text-anchor="start" letter-spacing="-0.32" stroke="#000" stroke-width="0.15">0.74270</text>
<text x="1689.7" y="62" font-size="9.6" fill="#000" text-anchor="start" letter-spacing="-0.32" stroke="#000" stroke-width="0.15">0.73810</text>
<text x="1689.7" y="95" font-size="9.6" fill="#000" text-anchor="start" letter-spacing="-0.32" stroke="#000" stroke-width="0.15">0.73360</text>
<text x="1689.7" y="128" font-size="9.6" fill="#000" text-anchor="start" letter-spacing="-0.32" stroke="#000" stroke-width="0.15">0.72900</text>
<text x="1689.7" y="161" font-size="9.6" fill="#000" text-anchor="start" letter-spacing="-0.32" stroke="#000" stroke-width="0.15">0.72450</text>
<text x="1689.7" y="194" font-size="9.6" fill="#000" text-anchor="start" letter-spacing="-0.32" stroke="#000" stroke-width="0.15">0.72000</text>
<text x="1689.7" y="227" font-size="9.6" fill="#000" text-anchor="start" letter-spacing="-0.32" stroke="#000" stroke-width="0.15">0.71540</text>
<text x="1689.7" y="260" font-size="9.6" fill="#000" text-anchor="start" letter-spacing="-0.32" stroke="#000" stroke-width="0.15">0.71090</text>
<text x="1689.7" y="293" font-size="9.6" fill="#000" text-anchor="start" letter-spacing="-0.32" stroke="#000" stroke-width="0.15">0.70630</text>
<text x="1689.7" y="326" font-size="9.6" fill="#000" text-anchor="start" letter-spacing="-0.32" stroke="#000" stroke-width="0.15">0.70180</text>
<text x="1689.7" y="359" font-size="9.6" fill="#000" text-anchor="start" letter-spacing="-0.32" stroke="#000" stroke-width="0.15">0.69720</text>
<text x="1689.7" y="392" font-size="9.6" fill="#000" text-anchor="start" letter-spacing="-0.32" stroke="#000" stroke-width="0.15">0.69270</text>
<text x="1689.7" y="425" font-size="9.6" fill="#000" text-anchor="start" letter-spacing="-0.32" stroke="#000" stroke-width="0.15">0.68810</text>
<text x="1689.7" y="458" font-size="9.6" fill="#000" text-anchor="start" letter-spacing="-0.32" stroke="#000" stroke-width="0.15">0.68360</text>
<text x="1689.7" y="491" font-size="9.6" fill="#000" text-anchor="start" letter-spacing="-0.32" stroke="#000" stroke-width="0.15">0.67910</text>
<text x="1689.7" y="524" font-size="9.6" fill="#000" text-anchor="start" letter-spacing="-0.32" stroke="#000" stroke-width="0.15">0.67450</text>
<text x="1689.7" y="557" font-size="9.6" fill="#000" text-anchor="start" letter-spacing="-0.32" stroke="#000" stroke-width="0.15">0.67000</text>
<text x="1689.7" y="590" font-size="9.6" fill="#000" text-anchor="start" letter-spacing="-0.32" stroke="#000" stroke-width="0.15">0.66540</text>
<rect x="1686" y="329" width="40" height="11" fill="#ff0000"/>
<text x="1689.7" y="338" font-size="9.6" fill="#fff" text-anchor="start" letter-spacing="-0.32" stroke="#fff" stroke-width="0.15">0.70007</text>
<rect x="1686" y="367" width="40" height="11" fill="#000000"/>
<text x="1689.7" y="376" font-size="9.6" fill="#fff" text-anchor="start" letter-spacing="-0.32" stroke="#fff" stroke-width="0.15">0.69485</text>
<rect x="1686" y="401" width="40" height="11" fill="#00ff00"/>
<text x="1689.7" y="410" font-size="9.6" fill="#fff" text-anchor="start" letter-spacing="-0.32" stroke="#fff" stroke-width="0.15">0.69011</text>
<rect x="1686" y="474" width="40" height="11" fill="#0000ff"/>
<text x="1689.7" y="483" font-size="9.6" fill="#fff" text-anchor="start" letter-spacing="-0.32" stroke="#fff" stroke-width="0.15">0.68000</text>
<rect x="1686" y="569" width="40" height="11" fill="#0000ff"/>
<text x="1689.7" y="578" font-size="9.6" fill="#fff" text-anchor="start" letter-spacing="-0.32" stroke="#fff" stroke-width="0.15">0.66700</text>
<polygon points="7,29 14,29 10.5,32.5" fill="#000"/>
<text x="19.6" y="34" font-size="9.6" fill="#000" text-anchor="start" letter-spacing="-0.1" stroke="#000" stroke-width="0.15">AUDUSD,Daily</text>
<text x="90.69999999999999" y="34" font-size="9.6" fill="#000" text-anchor="start" letter-spacing="-0.32" stroke="#000" stroke-width="0.15">0.69383</text>
<text x="126.89999999999999" y="34" font-size="9.6" fill="#000" text-anchor="start" letter-spacing="-0.32" stroke="#000" stroke-width="0.15">0.69490</text>
<text x="163.0" y="34" font-size="9.6" fill="#000" text-anchor="start" letter-spacing="-0.32" stroke="#000" stroke-width="0.15">0.69364</text>
<text x="199.2" y="34" font-size="9.6" fill="#000" text-anchor="start" letter-spacing="-0.32" stroke="#000" stroke-width="0.15">0.69485</text>
<g clip-path="url(#cr)" shape-rendering="crispEdges">
<line x1="5" y1="623.5" x2="1684" y2="623.5" stroke="#c0c0c0" stroke-dasharray="3,3"/>
<line x1="5" y1="664.5" x2="1684" y2="664.5" stroke="#c0c0c0" stroke-dasharray="3,3"/>
<path d="M4 625h2v1h-2zm2 1h3v1h-3zm2 1h1v1h-1zm1 1h1v4h-1zm1 4h1v4h-1zm1 4h1v4h-1zm1 4h1v3h-1zm1 3h1v2h-1zm1 2h1v2h-1zm1 2h1v2h-1zm1 2h1v1h-1zm0 1h2v1h-2zm2 -1h4v1h-4zm4 1h3v1h-3zm3 1h1v1h-1zm1 1h2v1h-2zm2 1h1v1h-1zm1 -1h1v1h-1zm1 -1h2v1h-2zm2 -1h1v1h-1zm1 -1h1v1h-1zm1 -1h1v1h-1zm1 -1h1v1h-1zm1 -1h5v1h-5zm5 1h1v2h-1zm1 2h1v2h-1zm1 2h1v2h-1zm1 2h2v1h-2zm2 -1h4v1h-4zm4 -1h3v1h-3zm3 1h2v1h-2zm2 1h3v1h-3zm3 -1h3v1h-3zm3 1h1v2h-1zm1 2h1v2h-1zm1 2h1v2h-1zm1 2h1v2h-1zm1 2h1v1h-1zm1 1h2v1h-2zm2 1h1v1h-1zm1 1h1v1h-1zm1 1h2v1h-2zm2 1h6v1h-6zm6 1h3v1h-3zm3 -1h1v1h-1zm1 -1h1v1h-1zm1 -1h1v1h-1zm1 -1h1v1h-1zm1 1h1v1h-1zm1 1h2v1h-2zm2 1h1v1h-1zm1 -1h1v1h-1zm1 -1h1v1h-1zm1 -1h1v1h-1zm1 -1h1v1h-1zm1 -1h2v1h-2zm2 -1h3v1h-3zm3 1h7v1h-7zm7 1h1v1h-1zm1 1h1v2h-1zm1 2h1v1h-1zm1 1h5v1h-5zm4 -2h1v2h-1zm1 -6h1v6h-1zm1 -5h1v5h-1zm1 -6h1v6h-1zm1 -3h1v3h-1zm1 -1h2v1h-2zm2 -1h2v1h-2zm2 -1h1v1h-1zm1 -1h2v1h-2zm2 -1h1v1h-1zm1 1h2v1h-2zm2 1h2v1h-2zm2 -2h1v2h-1zm1 -1h1v1h-1zm1 -2h1v2h-1zm1 -1h1v1h-1zm1 -1h1v1h-1zm1 -1h2v1h-2zm2 -1h2v1h-2zm2 -1h4v1h-4zm4 -1h4v1h-4zm4 1h7v1h-7zm7 1h1v1h-1zm1 1h1v2h-1zm1 2h1v1h-1zm1 1h1v1h-1zm1 1h1v1h-1zm1 1h1v2h-1zm1 2h1v1h-1zm1 1h1v1h-1zm1 -1h1v1h-1zm1 -2h1v2h-1zm1 -1h1v1h-1zm1 -1h1v1h-1zm1 1h1v1h-1zm1 1h1v1h-1zm1 1h1v1h-1zm1 1h1v1h-1zm1 1h1v1h-1zm1 1h2v1h-2zm2 1h1v1h-1zm1 1h1v1h-1zm1 1h2v1h-2zm2 1h2v1h-2zm2 1h3v1h-3zm3 1h1v1h-1zm1 1h1v2h-1zm1 2h2v1h-2zm1 1h1v1h-1zm1 -4h1v3h-1zm1 -3h1v3h-1zm1 -3h1v3h-1zm1 -2h1v2h-1zm1 -1h2v1h-2zm2 -1h2v1h-2zm2 1h2v1h-2zm2 1h2v1h-2zm2 1h1v1h-1zm1 1h2v1h-2zm2 1h1v1h-1zm1 -2h1v2h-1zm1 -2h1v2h-1zm1 -2h1v2h-1zm1 -2h1v2h-1zm1 -3h1v3h-1zm1 -2h1v2h-1zm1 -3h1v3h-1zm1 -2h1v1h-1zm0 1h2v1h-2zm1 1h1v1h-1zm1 1h1v1h-1zm1 1h1v2h-1zm1 2h1v1h-1zm1 1h2v1h-2zm2 1h2v1h-2zm2 1h1v1h-1zm1 1h1v1h-1zm1 1h1v1h-1zm1 1h1v1h-1zm1 -1h2v1h-2zm2 -1h2v1h-2zm1 1h1v1h-1zm1 1h1v4h-1zm1 4h1v3h-1zm1 3h1v4h-1zm1 4h1v2h-1zm1 2h1v1h-1zm1 1h2v1h-2zm2 1h1v1h-1zm1 1h2v1h-2zm2 1h6v1h-6zm6 1h2v1h-2zm2 1h2v1h-2zm2 -1h1v1h-1zm1 -1h1v1h-1zm1 -1h1v1h-1zm1 -1h1v1h-1zm1 -1h1v1h-1zm1 -1h2v1h-2zm2 -1h1v1h-1zm1 1h2v1h-2zm2 1h2v1h-2zm2 -1h1v1h-1zm1 -1h1v1h-1zm1 -1h1v1h-1zm1 -1h1v1h-1zm1 -1h1v1h-1zm1 -1h2v1h-2zm2 -1h2v1h-2zm2 1h3v1h-3zm3 -1h2v1h-2zm2 -1h2v1h-2zm2 -1h1v1h-1zm1 -1h3v1h-3zm2 -1h1v1h-1zm1 2h1v3h-1zm1 3h1v2h-1zm1 2h1v3h-1zm1 3h2v1h-2zm0 1h1v1h-1zm1 -2h1v1h-1zm1 -2h1v2h-1zm1 -2h1v2h-1zm1 -1h5v1h-5zm5 -1h1v1h-1zm1 -2h1v2h-1zm1 -1h1v1h-1zm1 -1h5v1h-5zm5 1h1v1h-1zm1 1h1v2h-1zm1 2h1v1h-1zm1 1h1v1h-1zm1 1h1v1h-1zm1 1h1v1h-1zm1 1h1v1h-1zm1 1h1v1h-1zm1 1h2v1h-2zm2 1h2v1h-2zm2 1h1v1h-1zm1 1h2v1h-2zm2 1h1v1h-1zm1 -1h2v1h-2zm2 -1h3v1h-3zm3 1h3v1h-3zm3 1h1v2h-1zm1 2h1v1h-1zm1 1h1v2h-1zm1 2h2v1h-2zm2 -1h3v1h-3zm3 -1h2v1h-2zm2 -1h3v1h-3zm3 -1h3v1h-3zm3 -1h2v1h-2zm2 -1h2v1h-2zm2 -2h1v2h-1zm1 -1h1v1h-1zm1 -2h1v2h-1zm1 -1h5v1h-5zm5 1h1v1h-1zm1 1h1v1h-1zm1 1h1v1h-1zm1 1h1v1h-1zm1 -2h1v2h-1zm1 -1h1v1h-1zm1 -2h1v2h-1zm1 -1h2v1h-2zm2 1h3v1h-3zm3 -1h1v1h-1zm1 -1h2v1h-2zm2 -1h5v1h-5zm5 1h1v1h-1zm1 1h2v1h-2zm2 1h1v1h-1zm1 -1h1v1h-1zm1 -2h1v2h-1zm1 -1h1v1h-1zm1 -1h1v1h-1zm1 1h1v1h-1zm1 1h1v2h-1zm1 2h1v1h-1zm1 1h2v1h-2zm2 1h3v1h-3zm3 -2h1v2h-1zm1 -1h1v1h-1zm1 -2h1v2h-1zm1 -1h1v1h-1zm1 -1h1v1h-1zm1 -2h1v2h-1zm1 -1h2v1h-2zm1 -1h1v1h-1zm1 2h1v3h-1zm1 3h1v4h-1zm1 4h1v3h-1zm1 3h3v1h-3zm0 1h1v1h-1zm3 -2h2v1h-2zm2 -1h1v1h-1zm1 -1h1v1h-1zm1 -1h1v1h-1zm1 -1h2v1h-2zm2 1h3v1h-3zm3 -1h1v1h-1zm1 -1h3v1h-3zm2 -1h1v1h-1zm1 2h1v2h-1zm1 2h1v3h-1zm1 3h1v2h-1zm1 2h1v2h-1zm1 -3h1v3h-1zm1 -2h1v2h-1zm1 -3h1v3h-1zm1 -2h1v1h-1zm0 1h3v1h-3zm3 1h2v1h-2zm2 1h2v1h-2zm2 1h6v1h-6zm6 -1h1v1h-1zm1 -1h2v1h-2zm2 -1h2v1h-2zm2 -1h3v1h-3zm3 -1h1v1h-1zm1 -1h1v1h-1zm1 -1h1v1h-1zm1 -1h1v1h-1zm1 1h1v1h-1zm1 1h1v2h-1zm1 2h1v1h-1zm1 1h1v1h-1zm1 -2h1v2h-1zm1 -2h1v2h-1zm1 -2h1v2h-1zm1 -1h2v1h-2zm2 1h4v1h-4zm4 -1h4v1h-4zm4 1h3v1h-3zm3 1h2v1h-2zm2 1h2v1h-2zm2 1h1v1h-1zm1 1h1v1h-1zm1 1h1v1h-1zm1 1h9v1h-9zm9 1h1v1h-1zm1 1h2v1h-2zm2 1h1v1h-1zm1 1h1v2h-1zm1 2h1v2h-1zm1 2h1v2h-1zm1 2h1v3h-1zm1 3h1v2h-1zm1 2h1v2h-1zm1 2h1v2h-1zm1 2h1v2h-1zm1 2h2v1h-2zm2 1h2v1h-2zm2 -2h1v2h-1zm1 -2h1v2h-1zm1 -2h1v2h-1zm1 -1h5v1h-5zm5 -1h1v1h-1zm1 -1h2v1h-2zm2 -1h1v1h-1zm1 1h2v1h-2zm2 1h3v1h-3zm3 1h3v1h-3zm3 1h1v1h-1zm1 1h1v2h-1zm1 2h1v1h-1zm1 1h1v1h-1zm1 -1h1v1h-1zm1 -1h1v1h-1zm1 -1h1v1h-1zm1 -1h5v1h-5zm5 1h1v1h-1zm1 1h2v1h-2zm2 1h1v1h-1zm1 -1h2v1h-2zm2 -1h6v1h-6zm6 1h1v1h-1zm1 1h1v1h-1zm1 1h1v1h-1zm1 1h1v1h-1zm1 -2h1v2h-1zm1 -1h1v1h-1zm1 -2h1v2h-1zm1 -1h5v1h-5zm5 1h1v2h-1zm1 2h1v2h-1zm1 2h1v2h-1zm1 2h2v1h-2zm2 1h3v1h-3zm3 1h2v1h-2zm2 1h2v1h-2zm2 1h1v1h-1zm1 1h2v1h-2zm2 1h1v1h-1zm1 1h1v1h-1zm1 1h2v1h-2zm2 1h5v1h-5zm4 -1h1v1h-1zm1 -3h1v3h-1zm1 -4h1v4h-1zm1 -3h1v3h-1zm1 -2h1v1h-1zm0 1h2v1h-2zm2 1h1v2h-1zm1 2h1v1h-1zm1 1h2v1h-2zm2 -1h3v1h-3zm3 -1h1v1h-1zm1 -1h1v1h-1zm1 -1h1v1h-1zm1 -1h1v1h-1zm1 -1h1v1h-1zm1 -1h1v1h-1zm1 -1h1v1h-1zm1 -1h1v1h-1zm1 -1h1v1h-1zm1 -1h1v1h-1zm1 -1h1v1h-1zm1 -1h1v1h-1zm1 1h1v1h-1zm1 1h2v1h-2zm2 1h1v1h-1zm1 -1h1v1h-1zm1 -1h1v1h-1zm1 -1h1v1h-1zm1 -1h1v1h-1zm1 1h1v1h-1zm1 1h2v1h-2zm2 1h2v1h-2zm2 1h3v1h-3zm3 -1h1v1h-1zm1 -2h1v2h-1zm1 -1h1v1h-1zm1 -1h1v1h-1zm1 -1h2v1h-2zm2 -1h2v1h-2zm2 -1h1v1h-1zm1 -1h1v1h-1zm1 -1h1v1h-1zm1 -1h1v1h-1zm1 -2h1v2h-1zm1 -1h1v1h-1zm1 -2h1v2h-1zm1 -1h1v1h-1zm1 1h1v1h-1zm1 1h2v1h-2zm2 1h1v1h-1zm1 -1h2v1h-2zm2 -1h2v1h-2zm2 -1h1v1h-1zm1 -1h2v1h-2zm2 -1h2v1h-2zm2 -1h3v1h-3zm2 1h1v1h-1zm1 1h1v2h-1zm1 2h1v3h-1zm1 3h1v2h-1zm1 2h1v2h-1zm1 2h2v1h-2zm2 1h2v1h-2zm2 1h1v1h-1zm1 1h2v1h-2zm2 1h1v1h-1zm1 1h1v2h-1zm1 2h1v1h-1zm1 1h1v2h-1zm1 2h1v1h-1zm1 1h1v1h-1zm1 1h1v2h-1zm1 2h1v1h-1zm1 1h2v1h-2zm2 1h4v1h-4zm4 1h3v1h-3zm3 -1h1v1h-1zm1 -1h2v1h-2zm2 -1h5v1h-5zm4 -1h1v1h-1zm1 -3h1v3h-1zm1 -3h1v3h-1zm1 -3h1v3h-1zm1 -2h2v1h-2zm0 1h1v1h-1zm2 -2h4v1h-4zm4 -1h3v1h-3zm3 -2h1v2h-1zm1 -2h1v2h-1zm1 -2h1v2h-1zm1 -2h1v2h-1zm1 -1h2v1h-2zm2 -1h2v1h-2zm2 -1h2v1h-2zm2 -1h2v1h-2zm2 -1h2v1h-2zm2 -1h2v1h-2zm2 -1h2v1h-2zm2 -1h3v1h-3zm3 -1h3v1h-3zm2 1h1v1h-1zm1 1h1v4h-1zm1 4h1v4h-1zm1 4h1v4h-1zm1 4h2v1h-2zm0 1h1v1h-1zm1 -2h1v1h-1zm1 -1h1v1h-1zm1 -2h1v2h-1zm1 -1h1v1h-1zm1 -2h1v2h-1zm1 -1h1v1h-1zm1 -2h1v2h-1zm1 -1h1v1h-1zm1 1h1v1h-1zm1 1h1v1h-1zm1 1h1v1h-1zm1 1h1v2h-1zm1 2h1v2h-1zm1 2h1v2h-1zm1 2h1v2h-1zm1 2h3v1h-3zm0 1h1v1h-1zm3 -2h2v1h-2zm2 1h2v1h-2zm2 1h2v1h-2zm2 1h1v2h-1zm1 2h1v2h-1zm1 2h1v2h-1zm1 2h1v1h-1zm1 -2h1v2h-1zm1 -1h1v1h-1zm1 -2h1v2h-1zm1 -1h1v1h-1zm1 -1h1v1h-1zm1 -1h1v1h-1zm1 -1h1v1h-1zm1 -1h1v1h-1zm1 -1h1v1h-1zm1 -1h2v1h-2zm2 -1h1v1h-1zm1 -1h2v1h-2zm2 -1h2v1h-2zm2 -1h2v1h-2zm2 -1h2v1h-2zm2 1h1v1h-1zm1 1h1v1h-1zm1 1h1v1h-1zm1 1h2v1h-2zm2 -1h3v1h-3zm3 -1h1v1h-1zm1 -1h2v1h-2zm2 -1h13v1h-13zm12 1h1v1h-1zm1 1h1v3h-1zm1 3h1v2h-1zm1 2h1v3h-1zm1 3h1v2h-1zm1 2h1v1h-1zm1 1h2v1h-2zm2 1h1v1h-1zm1 1h1v1h-1zm1 1h1v2h-1zm1 2h1v1h-1zm1 1h1v1h-1zm1 1h1v2h-1zm1 2h1v1h-1zm1 1h1v2h-1zm1 2h9v1h-9zm9 1h1v1h-1zm1 1h1v2h-1zm1 2h1v1h-1zm1 1h1v1h-1zm1 -1h1v1h-1zm1 -2h1v2h-1zm1 -1h1v1h-1zm1 -1h1v1h-1zm1 1h1v1h-1zm1 1h1v1h-1zm1 1h1v1h-1zm1 1h1v1h-1zm1 1h1v2h-1zm1 2h1v1h-1zm1 1h1v2h-1zm1 2h2v1h-2zm2 1h4v1h-4zm4 1h4v1h-4zm4 1h4v1h-4zm4 1h3v1h-3zm2 -1h1v1h-1zm1 -4h1v4h-1zm1 -3h1v3h-1zm1 -4h1v4h-1zm1 -2h2v1h-2zm0 1h1v1h-1zm2 0h4v1h-4zm4 1h3v1h-3zm3 1h1v1h-1zm1 1h1v1h-1zm1 1h2v1h-2zm1 1h1v1h-1zm1 -3h1v2h-1zm1 -2h1v2h-1zm1 -2h1v2h-1zm1 -2h1v1h-1zm0 1h2v1h-2zm1 1h1v1h-1zm1 1h1v1h-1zm1 1h1v2h-1zm1 2h1v1h-1zm1 -2h1v2h-1zm1 -2h1v2h-1zm1 -2h1v2h-1zm1 -1h6v1h-6zm6 -1h4v1h-4zm4 1h7v1h-7zm7 -1h1v1h-1zm1 -1h2v1h-2zm2 -1h1v1h-1zm1 1h1v1h-1zm1 1h1v1h-1zm1 1h1v1h-1zm1 1h1v1h-1zm1 1h2v1h-2zm2 1h3v1h-3zm3 -1h3v1h-3zm3 -2h1v2h-1zm1 -1h1v1h-1zm1 -2h1v2h-1zm1 -1h1v1h-1zm1 1h1v1h-1zm1 1h2v1h-2zm2 1h1v1h-1zm1 1h2v1h-2zm2 1h2v1h-2zm2 1h2v1h-2zm2 1h7v1h-7zm7 1h3v1h-3zm3 1h2v1h-2zm2 1h2v1h-2zm1 -1h1v1h-1zm1 -3h1v3h-1zm1 -2h1v2h-1zm1 -3h1v3h-1zm1 -2h1v2h-1zm1 -2h1v2h-1zm1 -2h1v2h-1zm1 -2h1v2h-1zm1 -2h1v2h-1zm1 -1h1v1h-1zm1 -1h1v1h-1zm1 -1h1v1h-1zm1 -1h1v1h-1zm1 -2h1v2h-1zm1 -1h1v1h-1zm1 -2h1v2h-1zm1 -1h1v1h-1zm1 1h1v1h-1zm1 1h2v1h-2zm2 1h1v1h-1zm1 -1h1v1h-1zm1 -1h1v1h-1zm1 -1h1v1h-1zm1 -1h2v1h-2zm2 1h3v1h-3zm3 1h2v1h-2zm2 1h2v1h-2zm2 -1h2v1h-2zm2 -1h2v1h-2zm2 -1h2v1h-2zm2 -1h2v1h-2zm2 1h2v1h-2zm2 1h2v1h-2zm2 1h1v1h-1zm1 1h1v1h-1zm1 1h1v1h-1zm1 1h1v1h-1zm1 1h2v1h-2zm2 1h2v1h-2zm2 1h1v1h-1zm1 1h2v1h-2zm2 1h1v2h-1zm1 2h1v2h-1zm1 2h1v3h-1zm1 3h1v2h-1zm1 2h1v2h-1zm1 2h1v1h-1zm1 1h1v1h-1zm1 1h1v1h-1zm1 1h1v1h-1zm1 1h2v1h-2zm2 1h2v1h-2zm2 -1h1v1h-1zm1 -1h2v1h-2zm2 -1h1v1h-1zm1 -1h1v1h-1zm1 -2h1v2h-1zm1 -1h1v1h-1zm1 -1h1v1h-1zm1 1h1v2h-1zm1 2h1v2h-1zm1 2h1v2h-1zm1 2h2v1h-2zm2 -1h3v1h-3zm3 -1h2v1h-2zm2 -1h3v1h-3zm3 1h3v1h-3zm3 1h2v1h-2zm2 1h2v1h-2zm2 1h1v2h-1zm1 2h1v2h-1zm1 2h1v2h-1zm1 2h5v1h-5zm4 -1h1v1h-1zm1 -3h1v3h-1zm1 -4h1v4h-1zm1 -3h1v3h-1zm1 -2h1v2h-1zm1 -1h2v1h-2zm2 -1h2v1h-2zm2 -1h2v1h-2zm2 -1h2v1h-2zm2 1h1v1h-1zm1 1h1v2h-1zm1 2h1v1h-1zm1 1h1v1h-1zm1 1h1v1h-1zm1 1h2v1h-2zm2 1h2v1h-2zm2 -1h3v1h-3zm2 -1h1v1h-1zm1 -2h1v2h-1zm1 -2h1v2h-1zm1 -2h1v2h-1zm1 -2h1v2h-1zm1 -2h1v2h-1zm1 -1h1v1h-1zm1 -2h1v2h-1zm1 -1h2v1h-2zm2 1h3v1h-3zm3 1h1v2h-1zm1 2h1v1h-1zm1 1h1v2h-1zm1 2h1v1h-1zm1 1h1v1h-1zm1 1h2v1h-2zm2 1h5v1h-5zm4 -1h1v1h-1zm1 -3h1v3h-1zm1 -3h1v3h-1zm1 -3h1v3h-1zm1 -2h1v2h-1zm1 -1h1v1h-1zm1 -1h2v1h-2zm2 -1h2v1h-2zm2 -1h3v1h-3zm3 -1h2v1h-2zm2 -1h3v1h-3zm3 1h3v1h-3zm3 1h1v1h-1zm1 1h1v1h-1zm1 1h1v1h-1zm1 1h1v1h-1zm1 1h1v2h-1zm1 2h1v1h-1zm1 1h1v2h-1zm1 2h1v1h-1zm1 -1h2v1h-2zm2 -1h2v1h-2zm2 1h2v1h-2zm2 1h2v1h-2zm2 -1h1v1h-1zm1 -1h2v1h-2zm2 -1h1v1h-1zm1 -1h1v1h-1zm1 -1h1v1h-1zm1 -1h1v1h-1zm1 -1h1v1h-1zm1 -1h2v1h-2zm2 -1h2v1h-2zm2 -1h2v1h-2zm2 -1h2v1h-2zm2 -1h1v1h-1zm1 -1h1v1h-1zm1 -1h1v1h-1zm1 -1h1v1h-1zm1 1h2v1h-2zm2 1h2v1h-2zm2 1h2v1h-2zm2 1h2v1h-2zm2 1h2v1h-2zm2 1h3v1h-3zm3 1h4v1h-4zm4 1h3v1h-3zm3 1h1v2h-1zm1 2h1v2h-1zm1 2h1v2h-1zm1 2h1v1h-1zm0 1h2v1h-2zm2 1h3v1h-3zm3 1h2v1h-2zm2 1h2v1h-2zm2 1h2v1h-2zm2 1h2v1h-2zm2 1h2v1h-2zm2 1h2v1h-2zm1 1h1v1h-1zm1 1h1v3h-1zm1 3h1v3h-1zm1 3h1v3h-1zm1 3h1v2h-1zm1 -3h1v3h-1zm1 -2h1v2h-1zm1 -3h1v3h-1zm1 -2h9v1h-9zm0 1h1v1h-1zm9 -2h1v1h-1zm1 -1h2v1h-2zm2 -1h1v1h-1zm1 1h1v1h-1zm1 1h1v2h-1zm1 2h1v1h-1zm1 1h1v1h-1zm1 1h2v1h-2zm2 1h2v1h-2zm2 1h2v1h-2zm2 1h6v1h-6zm6 1h2v1h-2zm2 1h2v1h-2zm2 -1h1v1h-1zm1 -1h1v1h-1zm1 -1h1v1h-1zm1 -1h2v1h-2zm2 1h3v1h-3zm3 1h1v1h-1zm1 1h1v1h-1zm1 1h1v1h-1zm1 1h9v1h-9zm8 -2h1v2h-1zm1 -4h1v4h-1zm1 -4h1v4h-1zm1 -4h1v4h-1zm1 -3h1v3h-1zm1 -2h1v2h-1zm1 -1h1v1h-1zm1 -2h1v2h-1zm1 -1h1v1h-1zm1 -1h2v1h-2zm2 -1h2v1h-2zm2 1h1v2h-1zm1 2h1v2h-1zm1 2h1v2h-1zm1 2h3v1h-3zm0 1h1v1h-1zm3 -2h2v1h-2zm2 -1h2v1h-2zm2 -1h2v1h-2zm2 1h2v1h-2zm2 1h2v1h-2zm2 1h1v2h-1zm1 2h1v2h-1zm1 2h1v1h-1zm0 1h2v1h-2zm1 1h1v1h-1zm1 -3h1v2h-1zm1 -3h1v3h-1zm1 -2h1v2h-1zm1 -2h1v2h-1zm1 -2h1v2h-1zm1 -2h1v2h-1zm1 -2h1v2h-1zm1 -2h1v1h-1zm0 1h2v1h-2zm1 1h1v1h-1zm1 1h1v2h-1zm1 2h1v2h-1zm1 2h5v1h-5zm5 -1h1v1h-1zm1 -1h1v1h-1zm1 -1h2v1h-2zm1 -1h1v1h-1zm1 2h1v2h-1zm1 2h1v2h-1zm1 2h1v2h-1zm1 2h1v1h-1zm0 1h2v1h-2zm2 -1h3v1h-3zm3 -1h1v1h-1zm1 -1h2v1h-2zm2 -1h1v1h-1zm1 -1h1v1h-1zm1 -1h1v1h-1zm1 -1h1v1h-1zm1 -1h2v1h-2zm2 1h3v1h-3zm3 -1h1v1h-1zm1 -1h2v1h-2zm2 -1h2v1h-2zm2 -1h4v1h-4zm4 1h3v1h-3zm3 -1h2v1h-2zm2 -1h2v1h-2zm2 -1h2v1h-2zm2 -1h2v1h-2z" fill="#1e90ff"/>
</g>
<text x="7.7" y="604.4" font-size="9.6" fill="#000" text-anchor="start" letter-spacing="-0.1" stroke="#000" stroke-width="0.15">RSI(14) 67.4095</text>
<text x="1687.3" y="602" font-size="9.6" fill="#000" text-anchor="start" letter-spacing="-0.32" stroke="#000" stroke-width="0.15">100</text>
<text x="1687.3" y="627" font-size="9.6" fill="#000" text-anchor="start" letter-spacing="-0.32" stroke="#000" stroke-width="0.15">70</text>
<text x="1687.3" y="668" font-size="9.6" fill="#000" text-anchor="start" letter-spacing="-0.32" stroke="#000" stroke-width="0.15">30</text>
<text x="1688.1" y="692" font-size="9.6" fill="#000" text-anchor="start" letter-spacing="-0.32" stroke="#000" stroke-width="0.15">0</text>
<g shape-rendering="crispEdges">
<rect x="1685" y="593" width="1" height="1" fill="#000"/>
<rect x="1685" y="694" width="1" height="1" fill="#000"/>
</g>
<g clip-path="url(#cd)" shape-rendering="crispEdges">
<rect x="4" y="708" width="1" height="30" fill="#c0c0c0"/>
<rect x="8" y="704" width="1" height="34" fill="#c0c0c0"/>
<rect x="12" y="708" width="1" height="30" fill="#c0c0c0"/>
<rect x="16" y="717" width="1" height="21" fill="#c0c0c0"/>
<rect x="20" y="723" width="1" height="15" fill="#c0c0c0"/>
<rect x="24" y="729" width="1" height="9" fill="#c0c0c0"/>
<rect x="28" y="735" width="1" height="3" fill="#c0c0c0"/>
<rect x="32" y="737" width="1" height="3" fill="#c0c0c0"/>
<rect x="36" y="737" width="1" height="4" fill="#c0c0c0"/>
<rect x="40" y="737" width="1" height="5" fill="#c0c0c0"/>
<rect x="44" y="737" width="1" height="10" fill="#c0c0c0"/>
<rect x="48" y="737" width="1" height="13" fill="#c0c0c0"/>
<rect x="52" y="737" width="1" height="15" fill="#c0c0c0"/>
<rect x="56" y="737" width="1" height="17" fill="#c0c0c0"/>
<rect x="60" y="737" width="1" height="19" fill="#c0c0c0"/>
<rect x="64" y="737" width="1" height="25" fill="#c0c0c0"/>
<rect x="68" y="737" width="1" height="32" fill="#c0c0c0"/>
<rect x="72" y="737" width="1" height="40" fill="#c0c0c0"/>
<rect x="76" y="737" width="1" height="45" fill="#c0c0c0"/>
<rect x="80" y="737" width="1" height="50" fill="#c0c0c0"/>
<rect x="84" y="737" width="1" height="52" fill="#c0c0c0"/>
<rect x="88" y="737" width="1" height="55" fill="#c0c0c0"/>
<rect x="92" y="737" width="1" height="56" fill="#c0c0c0"/>
<rect x="96" y="737" width="1" height="55" fill="#c0c0c0"/>
<rect x="100" y="737" width="1" height="55" fill="#c0c0c0"/>
<rect x="104" y="737" width="1" height="54" fill="#c0c0c0"/>
<rect x="108" y="737" width="1" height="56" fill="#c0c0c0"/>
<rect x="112" y="737" width="1" height="57" fill="#c0c0c0"/>
<rect x="116" y="737" width="1" height="48" fill="#c0c0c0"/>
<rect x="120" y="737" width="1" height="40" fill="#c0c0c0"/>
<rect x="124" y="737" width="1" height="31" fill="#c0c0c0"/>
<rect x="128" y="737" width="1" height="25" fill="#c0c0c0"/>
<rect x="132" y="737" width="1" height="16" fill="#c0c0c0"/>
<rect x="136" y="737" width="1" height="8" fill="#c0c0c0"/>
<rect x="140" y="736" width="1" height="2" fill="#c0c0c0"/>
<rect x="144" y="729" width="1" height="9" fill="#c0c0c0"/>
<rect x="148" y="725" width="1" height="13" fill="#c0c0c0"/>
<rect x="152" y="721" width="1" height="17" fill="#c0c0c0"/>
<rect x="156" y="720" width="1" height="18" fill="#c0c0c0"/>
<rect x="160" y="722" width="1" height="16" fill="#c0c0c0"/>
<rect x="164" y="721" width="1" height="17" fill="#c0c0c0"/>
<rect x="168" y="722" width="1" height="16" fill="#c0c0c0"/>
<rect x="172" y="724" width="1" height="14" fill="#c0c0c0"/>
<rect x="176" y="727" width="1" height="11" fill="#c0c0c0"/>
<rect x="180" y="730" width="1" height="8" fill="#c0c0c0"/>
<rect x="184" y="735" width="1" height="3" fill="#c0c0c0"/>
<rect x="188" y="733" width="1" height="5" fill="#c0c0c0"/>
<rect x="192" y="731" width="1" height="7" fill="#c0c0c0"/>
<rect x="196" y="730" width="1" height="8" fill="#c0c0c0"/>
<rect x="200" y="731" width="1" height="7" fill="#c0c0c0"/>
<rect x="204" y="729" width="1" height="9" fill="#c0c0c0"/>
<rect x="208" y="719" width="1" height="19" fill="#c0c0c0"/>
<rect x="212" y="714" width="1" height="24" fill="#c0c0c0"/>
<rect x="216" y="711" width="1" height="27" fill="#c0c0c0"/>
<rect x="220" y="711" width="1" height="27" fill="#c0c0c0"/>
<rect x="224" y="711" width="1" height="27" fill="#c0c0c0"/>
<rect x="228" y="719" width="1" height="19" fill="#c0c0c0"/>
<rect x="232" y="727" width="1" height="11" fill="#c0c0c0"/>
<rect x="236" y="736" width="1" height="2" fill="#c0c0c0"/>
<rect x="240" y="737" width="1" height="7" fill="#c0c0c0"/>
<rect x="244" y="737" width="1" height="14" fill="#c0c0c0"/>
<rect x="248" y="737" width="1" height="17" fill="#c0c0c0"/>
<rect x="252" y="737" width="1" height="17" fill="#c0c0c0"/>
<rect x="256" y="737" width="1" height="19" fill="#c0c0c0"/>
<rect x="260" y="737" width="1" height="18" fill="#c0c0c0"/>
<rect x="264" y="737" width="1" height="16" fill="#c0c0c0"/>
<rect x="268" y="737" width="1" height="14" fill="#c0c0c0"/>
<rect x="272" y="737" width="1" height="12" fill="#c0c0c0"/>
<rect x="276" y="737" width="1" height="8" fill="#c0c0c0"/>
<rect x="280" y="737" width="1" height="11" fill="#c0c0c0"/>
<rect x="284" y="737" width="1" height="10" fill="#c0c0c0"/>
<rect x="288" y="737" width="1" height="9" fill="#c0c0c0"/>
<rect x="292" y="737" width="1" height="5" fill="#c0c0c0"/>
<rect x="296" y="737" width="1" height="2" fill="#c0c0c0"/>
<rect x="300" y="737" width="1" height="2" fill="#c0c0c0"/>
<rect x="304" y="737" width="1" height="4" fill="#c0c0c0"/>
<rect x="308" y="737" width="1" height="7" fill="#c0c0c0"/>
<rect x="312" y="737" width="1" height="12" fill="#c0c0c0"/>
<rect x="316" y="737" width="1" height="14" fill="#c0c0c0"/>
<rect x="320" y="737" width="1" height="17" fill="#c0c0c0"/>
<rect x="324" y="737" width="1" height="22" fill="#c0c0c0"/>
<rect x="328" y="737" width="1" height="26" fill="#c0c0c0"/>
<rect x="332" y="737" width="1" height="28" fill="#c0c0c0"/>
<rect x="336" y="737" width="1" height="29" fill="#c0c0c0"/>
<rect x="340" y="737" width="1" height="28" fill="#c0c0c0"/>
<rect x="344" y="737" width="1" height="25" fill="#c0c0c0"/>
<rect x="348" y="737" width="1" height="22" fill="#c0c0c0"/>
<rect x="352" y="737" width="1" height="22" fill="#c0c0c0"/>
<rect x="356" y="737" width="1" height="19" fill="#c0c0c0"/>
<rect x="360" y="737" width="1" height="17" fill="#c0c0c0"/>
<rect x="364" y="737" width="1" height="14" fill="#c0c0c0"/>
<rect x="368" y="737" width="1" height="11" fill="#c0c0c0"/>
<rect x="372" y="737" width="1" height="10" fill="#c0c0c0"/>
<rect x="376" y="737" width="1" height="7" fill="#c0c0c0"/>
<rect x="380" y="737" width="1" height="7" fill="#c0c0c0"/>
<rect x="384" y="737" width="1" height="7" fill="#c0c0c0"/>
<rect x="388" y="737" width="1" height="4" fill="#c0c0c0"/>
<rect x="392" y="736" width="1" height="2" fill="#c0c0c0"/>
<rect x="396" y="737" width="1" height="3" fill="#c0c0c0"/>
<rect x="400" y="737" width="1" height="4" fill="#c0c0c0"/>
<rect x="404" y="737" width="1" height="3" fill="#c0c0c0"/>
<rect x="408" y="737" width="1" height="2" fill="#c0c0c0"/>
<rect x="412" y="736" width="1" height="2" fill="#c0c0c0"/>
<rect x="416" y="737" width="1" height="4" fill="#c0c0c0"/>
<rect x="420" y="737" width="1" height="1" fill="#c0c0c0"/>
<rect x="424" y="736" width="1" height="2" fill="#c0c0c0"/>
<rect x="428" y="736" width="1" height="2" fill="#c0c0c0"/>
<rect x="432" y="735" width="1" height="3" fill="#c0c0c0"/>
<rect x="436" y="734" width="1" height="4" fill="#c0c0c0"/>
<rect x="440" y="732" width="1" height="6" fill="#c0c0c0"/>
<rect x="444" y="728" width="1" height="10" fill="#c0c0c0"/>
<rect x="448" y="728" width="1" height="10" fill="#c0c0c0"/>
<rect x="452" y="724" width="1" height="14" fill="#c0c0c0"/>
<rect x="456" y="721" width="1" height="17" fill="#c0c0c0"/>
<rect x="460" y="718" width="1" height="20" fill="#c0c0c0"/>
<rect x="464" y="717" width="1" height="21" fill="#c0c0c0"/>
<rect x="468" y="717" width="1" height="21" fill="#c0c0c0"/>
<rect x="472" y="718" width="1" height="20" fill="#c0c0c0"/>
<rect x="476" y="720" width="1" height="18" fill="#c0c0c0"/>
<rect x="480" y="721" width="1" height="17" fill="#c0c0c0"/>
<rect x="484" y="724" width="1" height="14" fill="#c0c0c0"/>
<rect x="488" y="729" width="1" height="9" fill="#c0c0c0"/>
<rect x="492" y="737" width="1" height="2" fill="#c0c0c0"/>
<rect x="496" y="737" width="1" height="11" fill="#c0c0c0"/>
<rect x="500" y="737" width="1" height="16" fill="#c0c0c0"/>
<rect x="504" y="737" width="1" height="19" fill="#c0c0c0"/>
<rect x="508" y="737" width="1" height="20" fill="#c0c0c0"/>
<rect x="512" y="737" width="1" height="22" fill="#c0c0c0"/>
<rect x="516" y="737" width="1" height="24" fill="#c0c0c0"/>
<rect x="520" y="737" width="1" height="28" fill="#c0c0c0"/>
<rect x="524" y="737" width="1" height="29" fill="#c0c0c0"/>
<rect x="528" y="737" width="1" height="30" fill="#c0c0c0"/>
<rect x="532" y="737" width="1" height="32" fill="#c0c0c0"/>
<rect x="536" y="737" width="1" height="32" fill="#c0c0c0"/>
<rect x="540" y="737" width="1" height="33" fill="#c0c0c0"/>
<rect x="544" y="737" width="1" height="35" fill="#c0c0c0"/>
<rect x="548" y="737" width="1" height="34" fill="#c0c0c0"/>
<rect x="552" y="737" width="1" height="33" fill="#c0c0c0"/>
<rect x="556" y="737" width="1" height="36" fill="#c0c0c0"/>
<rect x="560" y="737" width="1" height="38" fill="#c0c0c0"/>
<rect x="564" y="737" width="1" height="41" fill="#c0c0c0"/>
<rect x="568" y="737" width="1" height="45" fill="#c0c0c0"/>
<rect x="572" y="737" width="1" height="49" fill="#c0c0c0"/>
<rect x="576" y="737" width="1" height="53" fill="#c0c0c0"/>
<rect x="580" y="737" width="1" height="52" fill="#c0c0c0"/>
<rect x="584" y="737" width="1" height="53" fill="#c0c0c0"/>
<rect x="588" y="737" width="1" height="53" fill="#c0c0c0"/>
<rect x="592" y="737" width="1" height="51" fill="#c0c0c0"/>
<rect x="596" y="737" width="1" height="48" fill="#c0c0c0"/>
<rect x="600" y="737" width="1" height="43" fill="#c0c0c0"/>
<rect x="604" y="737" width="1" height="41" fill="#c0c0c0"/>
<rect x="608" y="737" width="1" height="37" fill="#c0c0c0"/>
<rect x="612" y="737" width="1" height="35" fill="#c0c0c0"/>
<rect x="616" y="737" width="1" height="33" fill="#c0c0c0"/>
<rect x="620" y="737" width="1" height="30" fill="#c0c0c0"/>
<rect x="624" y="737" width="1" height="26" fill="#c0c0c0"/>
<rect x="628" y="737" width="1" height="21" fill="#c0c0c0"/>
<rect x="632" y="737" width="1" height="15" fill="#c0c0c0"/>
<rect x="636" y="737" width="1" height="11" fill="#c0c0c0"/>
<rect x="640" y="737" width="1" height="7" fill="#c0c0c0"/>
<rect x="644" y="737" width="1" height="2" fill="#c0c0c0"/>
<rect x="648" y="734" width="1" height="4" fill="#c0c0c0"/>
<rect x="652" y="734" width="1" height="4" fill="#c0c0c0"/>
<rect x="656" y="735" width="1" height="3" fill="#c0c0c0"/>
<rect x="660" y="737" width="1" height="1" fill="#c0c0c0"/>
<rect x="664" y="737" width="1" height="5" fill="#c0c0c0"/>
<rect x="668" y="737" width="1" height="12" fill="#c0c0c0"/>
<rect x="672" y="737" width="1" height="17" fill="#c0c0c0"/>
<rect x="676" y="737" width="1" height="21" fill="#c0c0c0"/>
<rect x="680" y="737" width="1" height="24" fill="#c0c0c0"/>
<rect x="684" y="737" width="1" height="26" fill="#c0c0c0"/>
<rect x="688" y="737" width="1" height="23" fill="#c0c0c0"/>
<rect x="692" y="737" width="1" height="20" fill="#c0c0c0"/>
<rect x="696" y="737" width="1" height="17" fill="#c0c0c0"/>
<rect x="700" y="737" width="1" height="11" fill="#c0c0c0"/>
<rect x="704" y="737" width="1" height="6" fill="#c0c0c0"/>
<rect x="708" y="736" width="1" height="2" fill="#c0c0c0"/>
<rect x="712" y="732" width="1" height="6" fill="#c0c0c0"/>
<rect x="716" y="727" width="1" height="11" fill="#c0c0c0"/>
<rect x="720" y="722" width="1" height="16" fill="#c0c0c0"/>
<rect x="724" y="724" width="1" height="14" fill="#c0c0c0"/>
<rect x="728" y="722" width="1" height="16" fill="#c0c0c0"/>
<rect x="732" y="718" width="1" height="20" fill="#c0c0c0"/>
<rect x="736" y="717" width="1" height="21" fill="#c0c0c0"/>
<rect x="740" y="720" width="1" height="18" fill="#c0c0c0"/>
<rect x="744" y="721" width="1" height="17" fill="#c0c0c0"/>
<rect x="748" y="723" width="1" height="15" fill="#c0c0c0"/>
<rect x="752" y="729" width="1" height="9" fill="#c0c0c0"/>
<rect x="756" y="730" width="1" height="8" fill="#c0c0c0"/>
<rect x="760" y="730" width="1" height="8" fill="#c0c0c0"/>
<rect x="764" y="727" width="1" height="11" fill="#c0c0c0"/>
<rect x="768" y="724" width="1" height="14" fill="#c0c0c0"/>
<rect x="772" y="721" width="1" height="17" fill="#c0c0c0"/>
<rect x="776" y="720" width="1" height="18" fill="#c0c0c0"/>
<rect x="780" y="719" width="1" height="19" fill="#c0c0c0"/>
<rect x="784" y="717" width="1" height="21" fill="#c0c0c0"/>
<rect x="788" y="716" width="1" height="22" fill="#c0c0c0"/>
<rect x="792" y="715" width="1" height="23" fill="#c0c0c0"/>
<rect x="796" y="714" width="1" height="24" fill="#c0c0c0"/>
<rect x="800" y="718" width="1" height="20" fill="#c0c0c0"/>
<rect x="804" y="723" width="1" height="15" fill="#c0c0c0"/>
<rect x="808" y="729" width="1" height="9" fill="#c0c0c0"/>
<rect x="812" y="737" width="1" height="1" fill="#c0c0c0"/>
<rect x="816" y="737" width="1" height="8" fill="#c0c0c0"/>
<rect x="820" y="737" width="1" height="13" fill="#c0c0c0"/>
<rect x="824" y="737" width="1" height="19" fill="#c0c0c0"/>
<rect x="828" y="737" width="1" height="23" fill="#c0c0c0"/>
<rect x="832" y="737" width="1" height="28" fill="#c0c0c0"/>
<rect x="836" y="737" width="1" height="36" fill="#c0c0c0"/>
<rect x="840" y="737" width="1" height="43" fill="#c0c0c0"/>
<rect x="844" y="737" width="1" height="49" fill="#c0c0c0"/>
<rect x="848" y="737" width="1" height="54" fill="#c0c0c0"/>
<rect x="852" y="737" width="1" height="59" fill="#c0c0c0"/>
<rect x="856" y="737" width="1" height="57" fill="#c0c0c0"/>
<rect x="860" y="737" width="1" height="56" fill="#c0c0c0"/>
<rect x="864" y="737" width="1" height="55" fill="#c0c0c0"/>
<rect x="868" y="737" width="1" height="57" fill="#c0c0c0"/>
<rect x="872" y="737" width="1" height="54" fill="#c0c0c0"/>
<rect x="876" y="737" width="1" height="56" fill="#c0c0c0"/>
<rect x="880" y="737" width="1" height="53" fill="#c0c0c0"/>
<rect x="884" y="737" width="1" height="51" fill="#c0c0c0"/>
<rect x="888" y="737" width="1" height="48" fill="#c0c0c0"/>
<rect x="892" y="737" width="1" height="46" fill="#c0c0c0"/>
<rect x="896" y="737" width="1" height="44" fill="#c0c0c0"/>
<rect x="900" y="737" width="1" height="40" fill="#c0c0c0"/>
<rect x="904" y="737" width="1" height="40" fill="#c0c0c0"/>
<rect x="908" y="737" width="1" height="40" fill="#c0c0c0"/>
<rect x="912" y="737" width="1" height="39" fill="#c0c0c0"/>
<rect x="916" y="737" width="1" height="36" fill="#c0c0c0"/>
<rect x="920" y="737" width="1" height="35" fill="#c0c0c0"/>
<rect x="924" y="737" width="1" height="35" fill="#c0c0c0"/>
<rect x="928" y="737" width="1" height="35" fill="#c0c0c0"/>
<rect x="932" y="737" width="1" height="35" fill="#c0c0c0"/>
<rect x="936" y="737" width="1" height="35" fill="#c0c0c0"/>
<rect x="940" y="737" width="1" height="36" fill="#c0c0c0"/>
<rect x="944" y="737" width="1" height="32" fill="#c0c0c0"/>
<rect x="948" y="737" width="1" height="26" fill="#c0c0c0"/>
<rect x="952" y="737" width="1" height="19" fill="#c0c0c0"/>
<rect x="956" y="737" width="1" height="10" fill="#c0c0c0"/>
<rect x="960" y="737" width="1" height="4" fill="#c0c0c0"/>
<rect x="964" y="733" width="1" height="5" fill="#c0c0c0"/>
<rect x="968" y="728" width="1" height="10" fill="#c0c0c0"/>
<rect x="972" y="725" width="1" height="13" fill="#c0c0c0"/>
<rect x="976" y="722" width="1" height="16" fill="#c0c0c0"/>
<rect x="980" y="718" width="1" height="20" fill="#c0c0c0"/>
<rect x="984" y="716" width="1" height="22" fill="#c0c0c0"/>
<rect x="988" y="716" width="1" height="22" fill="#c0c0c0"/>
<rect x="992" y="717" width="1" height="21" fill="#c0c0c0"/>
<rect x="996" y="719" width="1" height="19" fill="#c0c0c0"/>
<rect x="1000" y="724" width="1" height="14" fill="#c0c0c0"/>
<rect x="1004" y="731" width="1" height="7" fill="#c0c0c0"/>
<rect x="1008" y="737" width="1" height="1" fill="#c0c0c0"/>
<rect x="1012" y="737" width="1" height="5" fill="#c0c0c0"/>
<rect x="1016" y="737" width="1" height="6" fill="#c0c0c0"/>
<rect x="1020" y="737" width="1" height="11" fill="#c0c0c0"/>
<rect x="1024" y="737" width="1" height="14" fill="#c0c0c0"/>
<rect x="1028" y="737" width="1" height="15" fill="#c0c0c0"/>
<rect x="1032" y="737" width="1" height="16" fill="#c0c0c0"/>
<rect x="1036" y="737" width="1" height="18" fill="#c0c0c0"/>
<rect x="1040" y="737" width="1" height="23" fill="#c0c0c0"/>
<rect x="1044" y="737" width="1" height="27" fill="#c0c0c0"/>
<rect x="1048" y="737" width="1" height="25" fill="#c0c0c0"/>
<rect x="1052" y="737" width="1" height="23" fill="#c0c0c0"/>
<rect x="1056" y="737" width="1" height="20" fill="#c0c0c0"/>
<rect x="1060" y="737" width="1" height="20" fill="#c0c0c0"/>
<rect x="1064" y="737" width="1" height="21" fill="#c0c0c0"/>
<rect x="1068" y="737" width="1" height="21" fill="#c0c0c0"/>
<rect x="1072" y="737" width="1" height="18" fill="#c0c0c0"/>
<rect x="1076" y="737" width="1" height="13" fill="#c0c0c0"/>
<rect x="1080" y="737" width="1" height="8" fill="#c0c0c0"/>
<rect x="1084" y="737" width="1" height="7" fill="#c0c0c0"/>
<rect x="1088" y="737" width="1" height="8" fill="#c0c0c0"/>
<rect x="1092" y="737" width="1" height="8" fill="#c0c0c0"/>
<rect x="1096" y="737" width="1" height="3" fill="#c0c0c0"/>
<rect x="1100" y="732" width="1" height="6" fill="#c0c0c0"/>
<rect x="1104" y="727" width="1" height="11" fill="#c0c0c0"/>
<rect x="1108" y="722" width="1" height="16" fill="#c0c0c0"/>
<rect x="1112" y="718" width="1" height="20" fill="#c0c0c0"/>
<rect x="1116" y="717" width="1" height="21" fill="#c0c0c0"/>
<rect x="1120" y="719" width="1" height="19" fill="#c0c0c0"/>
<rect x="1124" y="719" width="1" height="19" fill="#c0c0c0"/>
<rect x="1128" y="721" width="1" height="17" fill="#c0c0c0"/>
<rect x="1132" y="720" width="1" height="18" fill="#c0c0c0"/>
<rect x="1136" y="719" width="1" height="19" fill="#c0c0c0"/>
<rect x="1140" y="716" width="1" height="22" fill="#c0c0c0"/>
<rect x="1144" y="714" width="1" height="24" fill="#c0c0c0"/>
<rect x="1148" y="710" width="1" height="28" fill="#c0c0c0"/>
<rect x="1152" y="708" width="1" height="30" fill="#c0c0c0"/>
<rect x="1156" y="707" width="1" height="31" fill="#c0c0c0"/>
<rect x="1160" y="707" width="1" height="31" fill="#c0c0c0"/>
<rect x="1164" y="707" width="1" height="31" fill="#c0c0c0"/>
<rect x="1168" y="709" width="1" height="29" fill="#c0c0c0"/>
<rect x="1172" y="712" width="1" height="26" fill="#c0c0c0"/>
<rect x="1176" y="716" width="1" height="22" fill="#c0c0c0"/>
<rect x="1180" y="719" width="1" height="19" fill="#c0c0c0"/>
<rect x="1184" y="723" width="1" height="15" fill="#c0c0c0"/>
<rect x="1188" y="726" width="1" height="12" fill="#c0c0c0"/>
<rect x="1192" y="734" width="1" height="4" fill="#c0c0c0"/>
<rect x="1196" y="737" width="1" height="1" fill="#c0c0c0"/>
<rect x="1200" y="737" width="1" height="3" fill="#c0c0c0"/>
<rect x="1204" y="737" width="1" height="5" fill="#c0c0c0"/>
<rect x="1208" y="737" width="1" height="5" fill="#c0c0c0"/>
<rect x="1212" y="737" width="1" height="7" fill="#c0c0c0"/>
<rect x="1216" y="737" width="1" height="9" fill="#c0c0c0"/>
<rect x="1220" y="737" width="1" height="12" fill="#c0c0c0"/>
<rect x="1224" y="737" width="1" height="14" fill="#c0c0c0"/>
<rect x="1228" y="737" width="1" height="16" fill="#c0c0c0"/>
<rect x="1232" y="737" width="1" height="17" fill="#c0c0c0"/>
<rect x="1236" y="737" width="1" height="17" fill="#c0c0c0"/>
<rect x="1240" y="737" width="1" height="19" fill="#c0c0c0"/>
<rect x="1244" y="737" width="1" height="20" fill="#c0c0c0"/>
<rect x="1248" y="737" width="1" height="21" fill="#c0c0c0"/>
<rect x="1252" y="737" width="1" height="17" fill="#c0c0c0"/>
<rect x="1256" y="737" width="1" height="12" fill="#c0c0c0"/>
<rect x="1260" y="737" width="1" height="6" fill="#c0c0c0"/>
<rect x="1264" y="737" width="1" height="5" fill="#c0c0c0"/>
<rect x="1268" y="737" width="1" height="3" fill="#c0c0c0"/>
<rect x="1272" y="736" width="1" height="2" fill="#c0c0c0"/>
<rect x="1276" y="735" width="1" height="3" fill="#c0c0c0"/>
<rect x="1280" y="736" width="1" height="2" fill="#c0c0c0"/>
<rect x="1284" y="733" width="1" height="5" fill="#c0c0c0"/>
<rect x="1288" y="727" width="1" height="11" fill="#c0c0c0"/>
<rect x="1292" y="725" width="1" height="13" fill="#c0c0c0"/>
<rect x="1296" y="723" width="1" height="15" fill="#c0c0c0"/>
<rect x="1300" y="720" width="1" height="18" fill="#c0c0c0"/>
<rect x="1304" y="721" width="1" height="17" fill="#c0c0c0"/>
<rect x="1308" y="722" width="1" height="16" fill="#c0c0c0"/>
<rect x="1312" y="721" width="1" height="17" fill="#c0c0c0"/>
<rect x="1316" y="718" width="1" height="20" fill="#c0c0c0"/>
<rect x="1320" y="717" width="1" height="21" fill="#c0c0c0"/>
<rect x="1324" y="714" width="1" height="24" fill="#c0c0c0"/>
<rect x="1328" y="712" width="1" height="26" fill="#c0c0c0"/>
<rect x="1332" y="711" width="1" height="27" fill="#c0c0c0"/>
<rect x="1336" y="709" width="1" height="29" fill="#c0c0c0"/>
<rect x="1340" y="707" width="1" height="31" fill="#c0c0c0"/>
<path d="M4 716h2v1h-2zm2 -1h1v1h-1zm4 -1h3v1h-3zm6 0h3v1h-3zm6 1h3v1h-3zm6 2h1v1h-1zm1 1h2v1h-2zm5 3h2v1h-2zm2 1h1v1h-1zm4 4h1v1h-1zm1 1h1v1h-1zm1 1h1v1h-1zm3 4h1v1h-1zm1 1h1v1h-1zm1 1h1v1h-1zm4 4h1v1h-1zm1 1h1v1h-1zm1 1h1v1h-1zm4 4h2v1h-2zm2 1h1v1h-1zm4 2h1v1h-1zm1 1h1v1h-1zm1 1h1v1h-1zm4 3h1v1h-1zm1 1h1v1h-1zm1 1h1v1h-1zm3 4h1v1h-1zm1 1h1v1h-1zm1 1h1v1h-1zm4 4h1v1h-1zm1 1h1v1h-1zm1 1h1v1h-1zm3 4h1v1h-1zm1 1h1v1h-1zm1 1h1v1h-1zm3 4h1v1h-1zm1 1h1v1h-1zm1 1h1v1h-1zm4 4h1v1h-1zm1 1h1v1h-1zm1 1h1v1h-1zm4 2h1v1h-1zm1 1h2v1h-2zm5 2h2v1h-2zm2 1h1v1h-1zm4 0h3v1h-3zm6 -1h1v1h-1zm1 -1h1v1h-1zm1 -1h1v1h-1zm4 -3h2v1h-2zm2 -1h1v1h-1zm3 -4h1v1h-1zm1 -1h1v1h-1zm1 -1h1v1h-1zm3 -4h1v1h-1zm1 -2h1v2h-1zm3 -4h1v1h-1zm1 -2h1v2h-1zm2 -4h1v1h-1zm1 -1h1v1h-1zm1 -1h1v1h-1zm2 -5h1v2h-1zm1 -1h1v1h-1zm2 -4h1v1h-1zm1 -2h1v2h-1zm3 -5h1v2h-1zm1 -1h1v1h-1zm3 -5h1v2h-1zm1 -1h1v1h-1zm4 -4h1v1h-1zm1 -1h1v1h-1zm1 -1h1v1h-1zm4 -3h1v1h-1zm1 -1h2v1h-2zm5 -2h3v1h-3zm6 1h2v1h-2zm2 1h1v1h-1zm4 1h3v1h-3zm6 1h1v1h-1zm1 1h2v1h-2zm5 1h3v1h-3zm6 1h1v1h-1zm1 -1h2v1h-2zm5 -1h2v1h-2zm2 -1h1v1h-1zm4 -2h1v1h-1zm1 -1h2v1h-2zm5 -3h2v1h-2zm2 -1h1v1h-1zm4 -1h3v1h-3zm6 1h3v1h-3zm6 2h1v1h-1zm1 1h1v1h-1zm1 1h1v1h-1zm4 4h1v1h-1zm1 1h1v1h-1zm1 1h1v1h-1zm3 4h1v1h-1zm1 1h1v1h-1zm1 1h1v1h-1zm3 4h1v1h-1zm1 1h1v1h-1zm1 1h1v1h-1zm4 4h1v1h-1zm1 1h1v1h-1zm1 1h1v1h-1zm4 2h1v1h-1zm1 1h2v1h-2zm5 0h3v1h-3zm6 0h1v1h-1zm1 -1h2v1h-2zm5 -1h3v1h-3zm6 -2h2v1h-2zm2 -1h1v1h-1zm4 -2h3v1h-3zm6 -1h3v1h-3zm6 0h3v1h-3zm6 0h1v1h-1zm1 1h2v1h-2zm5 1h2v1h-2zm2 1h1v1h-1zm4 3h1v1h-1zm1 1h2v1h-2zm5 3h1v1h-1zm1 1h1v1h-1zm1 1h1v1h-1zm4 2h2v1h-2zm2 1h1v1h-1zm4 1h3v1h-3zm6 1h1v1h-1zm1 1h2v1h-2zm5 -1h3v1h-3zm6 -2h2v1h-2zm2 -1h1v1h-1zm4 -2h2v1h-2zm2 -1h1v1h-1zm4 -2h2v1h-2zm2 -1h1v1h-1zm4 -2h2v1h-2zm2 -1h1v1h-1zm4 -2h2v1h-2zm2 -1h1v1h-1zm4 -2h3v1h-3zm6 -1h1v1h-1zm1 -1h2v1h-2zm5 -1h3v1h-3zm6 -1h3v1h-3zm6 -1h3v1h-3zm6 0h3v1h-3zm6 -1h3v1h-3zm6 0h1v1h-1zm1 -1h2v1h-2zm5 -1h3v1h-3zm6 -2h2v1h-2zm2 -1h1v1h-1zm4 -2h2v1h-2zm2 -1h1v1h-1zm4 -2h2v1h-2zm2 -1h1v1h-1zm4 -2h2v1h-2zm2 -1h1v1h-1zm4 -1h1v1h-1zm1 -1h2v1h-2zm5 -1h3v1h-3zm6 0h3v1h-3zm6 2h2v1h-2zm2 1h1v1h-1zm4 4h1v1h-1zm1 1h1v1h-1zm1 1h1v1h-1zm4 4h1v1h-1zm1 1h1v1h-1zm1 1h1v1h-1zm4 4h1v1h-1zm1 1h1v1h-1zm1 1h1v1h-1zm3 4h1v1h-1zm1 1h1v1h-1zm1 1h1v1h-1zm4 4h1v1h-1zm1 1h1v1h-1zm1 1h1v1h-1zm4 4h2v1h-2zm2 1h1v1h-1zm4 2h1v1h-1zm1 1h2v1h-2zm5 2h1v1h-1zm1 1h2v1h-2zm5 1h1v1h-1zm1 1h2v1h-2zm5 2h3v1h-3zm6 1h2v1h-2zm2 1h1v1h-1zm4 1h3v1h-3zm6 1h1v1h-1zm1 1h2v1h-2zm5 2h1v1h-1zm1 1h2v1h-2zm5 2h1v1h-1zm1 1h2v1h-2zm5 3h2v1h-2zm2 1h1v1h-1zm4 1h1v1h-1zm1 1h2v1h-2zm5 1h3v1h-3zm6 -1h2v1h-2zm2 -1h1v1h-1zm4 -1h1v1h-1zm1 -1h2v1h-2zm5 -2h1v1h-1zm1 -1h1v1h-1zm1 -1h1v1h-1zm4 -3h2v1h-2zm2 -1h1v1h-1zm4 -3h1v1h-1zm1 -1h1v1h-1zm1 -1h1v1h-1zm4 -4h2v1h-2zm2 -1h1v1h-1zm4 -4h1v1h-1zm1 -1h1v1h-1zm1 -1h1v1h-1zm4 -4h1v1h-1zm1 -1h1v1h-1zm1 -1h1v1h-1zm4 -4h1v1h-1zm1 -1h1v1h-1zm1 -1h1v1h-1zm4 -3h2v1h-2zm2 -1h1v1h-1zm4 -2h3v1h-3zm6 0h3v1h-3zm6 2h1v1h-1zm1 1h2v1h-2zm5 3h2v1h-2zm2 1h1v1h-1zm4 3h1v1h-1zm1 1h2v1h-2zm5 2h1v1h-1zm1 1h2v1h-2zm5 1h2v1h-2zm2 -1h1v1h-1zm4 -1h1v1h-1zm1 -1h2v1h-2zm5 -3h1v1h-1zm1 -1h1v1h-1zm1 -1h1v1h-1zm4 -4h1v2h-1zm1 -1h1v1h-1zm4 -3h1v1h-1zm1 -1h1v1h-1zm1 -1h1v1h-1zm4 -4h1v1h-1zm1 -1h1v1h-1zm1 -1h1v1h-1zm4 -3h1v1h-1zm1 -1h1v1h-1zm1 -1h1v1h-1zm4 -3h2v1h-2zm2 -1h1v1h-1zm4 0h3v1h-3zm6 0h1v1h-1zm1 1h2v1h-2zm5 0h3v1h-3zm6 1h1v1h-1zm1 1h2v1h-2zm5 0h3v1h-3zm6 0h3v1h-3zm6 -1h3v1h-3zm6 -2h2v1h-2zm2 -1h1v1h-1zm4 -2h3v1h-3zm6 -1h3v1h-3zm6 1h2v1h-2zm2 1h1v1h-1zm4 2h2v1h-2zm2 1h1v1h-1zm4 3h1v1h-1zm1 1h1v1h-1zm1 1h1v1h-1zm4 4h1v1h-1zm1 1h1v2h-1zm3 5h1v1h-1zm1 1h1v1h-1zm1 1h1v1h-1zm2 4h1v1h-1zm1 1h1v1h-1zm1 1h1v1h-1zm2 4h1v1h-1zm1 1h1v1h-1zm1 1h1v1h-1zm2 4h1v1h-1zm1 1h1v1h-1zm1 1h1v1h-1zm2 4h1v1h-1zm1 1h1v1h-1zm1 1h1v1h-1zm2 4h1v1h-1zm1 1h1v1h-1zm1 1h1v1h-1zm3 4h1v2h-1zm1 2h1v1h-1zm4 4h1v1h-1zm1 1h1v1h-1zm1 1h1v1h-1zm4 4h1v1h-1zm1 1h2v1h-2zm5 3h3v1h-3zm6 1h3v1h-3zm6 0h3v1h-3zm6 -1h1v1h-1zm1 -1h2v1h-2zm5 -2h3v1h-3zm6 -2h2v1h-2zm2 -1h1v1h-1zm4 -2h2v1h-2zm2 -1h1v1h-1zm4 -1h1v1h-1zm1 -1h2v1h-2zm5 -2h2v1h-2zm2 -1h1v1h-1zm4 -1h1v1h-1zm1 -1h2v1h-2zm5 -1h3v1h-3zm6 0h1v1h-1zm1 -1h2v1h-2zm5 -1h3v1h-3zm6 -2h2v1h-2zm2 -1h1v1h-1zm4 -2h1v1h-1zm1 -1h1v1h-1zm1 -1h1v1h-1zm4 -3h1v1h-1zm1 -1h1v1h-1zm1 -1h1v1h-1zm3 -4h1v1h-1zm1 -1h1v1h-1zm1 -1h1v1h-1zm3 -4h1v1h-1zm1 -1h1v1h-1zm1 -1h1v1h-1zm2 -4h1v1h-1zm1 -1h1v1h-1zm1 -1h1v1h-1zm3 -4h1v1h-1zm1 -2h1v2h-1zm3 -4h1v1h-1zm1 -1h1v1h-1zm1 -1h1v1h-1zm4 -4h2v1h-2zm2 -1h1v1h-1zm4 -3h2v1h-2zm2 -1h1v1h-1zm4 1h3v1h-3zm6 1h1v1h-1zm1 1h2v1h-2zm5 3h2v1h-2zm2 1h1v1h-1zm4 3h1v1h-1zm1 1h1v1h-1zm1 1h1v1h-1zm4 4h1v1h-1zm1 1h1v1h-1zm1 1h1v1h-1zm4 4h1v1h-1zm1 1h1v1h-1zm1 1h1v1h-1zm4 3h2v1h-2zm2 1h1v1h-1zm4 3h1v1h-1zm1 1h2v1h-2zm5 2h1v1h-1zm1 1h2v1h-2zm5 1h2v1h-2zm2 1h1v1h-1zm4 1h3v1h-3zm6 0h3v1h-3zm6 -1h3v1h-3zm6 -2h1v1h-1zm1 -1h2v1h-2zm5 -2h1v1h-1zm1 -1h2v1h-2zm5 -1h1v1h-1zm1 -1h2v1h-2zm5 -3h2v1h-2zm2 -1h1v1h-1zm4 -3h1v1h-1zm1 -1h1v1h-1zm1 -1h1v1h-1zm4 -4h2v1h-2zm2 -1h1v1h-1zm4 -3h1v1h-1zm1 -1h1v1h-1zm1 -1h1v1h-1zm4 -3h2v1h-2zm2 -1h1v1h-1zm4 -2h1v1h-1zm1 -1h2v1h-2zm5 -2h1v1h-1zm1 -1h2v1h-2zm5 -1h2v1h-2zm2 -1h1v1h-1zm4 -1h3v1h-3zm6 -1h2v1h-2zm2 -1h1v1h-1zm4 -1h1v1h-1zm1 -1h2v1h-2zm5 -1h2v1h-2zm2 -1h1v1h-1zm4 -1h3v1h-3zm6 0h3v1h-3zm6 1h1v1h-1zm1 1h2v1h-2zm5 2h1v1h-1zm1 1h1v1h-1zm1 1h1v1h-1zm4 3h2v1h-2zm2 1h1v1h-1zm4 4h1v1h-1zm1 1h1v1h-1zm1 1h1v1h-1zm4 3h1v1h-1zm1 1h1v1h-1zm1 1h1v1h-1zm4 3h1v1h-1zm1 1h1v1h-1zm1 1h1v1h-1zm4 2h1v1h-1zm1 1h2v1h-2zm5 3h1v1h-1zm1 1h2v1h-2zm5 2h1v1h-1zm1 1h2v1h-2zm5 1h1v1h-1zm1 1h2v1h-2zm5 2h1v1h-1zm1 1h2v1h-2zm5 1h2v1h-2zm2 1h1v1h-1zm4 0h3v1h-3zm6 -1h2v1h-2zm2 -1h1v1h-1zm4 -1h1v1h-1zm1 -1h2v1h-2zm5 -2h1v1h-1zm1 -1h2v1h-2zm5 -2h1v1h-1zm1 -1h2v1h-2zm5 -3h1v1h-1zm1 -1h1v1h-1zm1 -1h1v1h-1zm4 -2h1v1h-1zm1 -1h2v1h-2zm5 -2h1v1h-1zm1 -1h2v1h-2zm5 -2h1v1h-1zm1 -1h2v1h-2zm5 -2h1v1h-1zm1 -1h2v1h-2zm5 -2h1v1h-1zm1 -1h2v1h-2zm5 -1h1v1h-1zm1 -1h2v1h-2zm5 -2h3v1h-3zm6 -2h2v1h-2zm2 -1h1v1h-1zm4 -1h1v1h-1zm1 -1h2v1h-2z" fill="#ff0000"/>
</g>
<text x="7.6" y="709.8" font-size="9.6" fill="#000" text-anchor="start" letter-spacing="-0.09" stroke="#000" stroke-width="0.15">MACD(12,26,9) 0.002961 0.002201</text>
<text x="1687.9" y="708" font-size="9.6" fill="#000" text-anchor="start" letter-spacing="-0.32" stroke="#000" stroke-width="0.15">0.003804</text>
<text x="1687.9" y="741" font-size="9.6" fill="#000" text-anchor="start" letter-spacing="-0.32" stroke="#000" stroke-width="0.15">0.00</text>
<text x="1687.9" y="797" font-size="9.6" fill="#000" text-anchor="start" letter-spacing="-0.32" stroke="#000" stroke-width="0.15">-0.006087</text>
<g shape-rendering="crispEdges">
<rect x="1685" y="699" width="1" height="1" fill="#000"/>
<rect x="1685" y="737" width="1" height="1" fill="#000"/>
<rect x="1685" y="799" width="1" height="1" fill="#000"/>
</g>
<g shape-rendering="crispEdges">
<rect x="4" y="801" width="1" height="3" fill="#000"/>
<rect x="68" y="801" width="1" height="3" fill="#000"/>
<rect x="132" y="801" width="1" height="3" fill="#000"/>
<rect x="196" y="801" width="1" height="3" fill="#000"/>
<rect x="260" y="801" width="1" height="3" fill="#000"/>
<rect x="324" y="801" width="1" height="3" fill="#000"/>
<rect x="388" y="801" width="1" height="3" fill="#000"/>
<rect x="452" y="801" width="1" height="3" fill="#000"/>
<rect x="516" y="801" width="1" height="3" fill="#000"/>
<rect x="580" y="801" width="1" height="3" fill="#000"/>
<rect x="644" y="801" width="1" height="3" fill="#000"/>
<rect x="708" y="801" width="1" height="3" fill="#000"/>
<rect x="772" y="801" width="1" height="3" fill="#000"/>
<rect x="836" y="801" width="1" height="3" fill="#000"/>
<rect x="900" y="801" width="1" height="3" fill="#000"/>
<rect x="964" y="801" width="1" height="3" fill="#000"/>
<rect x="1028" y="801" width="1" height="3" fill="#000"/>
<rect x="1092" y="801" width="1" height="3" fill="#000"/>
<rect x="1156" y="801" width="1" height="3" fill="#000"/>
<rect x="1220" y="801" width="1" height="3" fill="#000"/>
<rect x="1284" y="801" width="1" height="3" fill="#000"/>
</g>
<text x="2.6" y="812.8" font-size="10" fill="#000" text-anchor="start" word-spacing="1.2" letter-spacing="-0.62" stroke="#000" stroke-width="0.15">3 Dec 2018</text>
<text x="66.6" y="812.8" font-size="10" fill="#000" text-anchor="start" word-spacing="1.2" letter-spacing="-0.62" stroke="#000" stroke-width="0.15">21 Dec 2018</text>
<text x="130.6" y="812.8" font-size="10" fill="#000" text-anchor="start" word-spacing="1.2" letter-spacing="-0.62" stroke="#000" stroke-width="0.15">9 Jan 2019</text>
<text x="194.6" y="812.8" font-size="10" fill="#000" text-anchor="start" word-spacing="1.2" letter-spacing="-0.62" stroke="#000" stroke-width="0.15">28 Jan 2019</text>
<text x="258.6" y="812.8" font-size="10" fill="#000" text-anchor="start" word-spacing="1.2" letter-spacing="-0.62" stroke="#000" stroke-width="0.15">15 Feb 2019</text>
<text x="322.6" y="812.8" font-size="10" fill="#000" text-anchor="start" word-spacing="1.2" letter-spacing="-0.62" stroke="#000" stroke-width="0.15">6 Mar 2019</text>
<text x="386.6" y="812.8" font-size="10" fill="#000" text-anchor="start" word-spacing="1.2" letter-spacing="-0.62" stroke="#000" stroke-width="0.15">25 Mar 2019</text>
<text x="450.6" y="812.8" font-size="10" fill="#000" text-anchor="start" word-spacing="1.2" letter-spacing="-0.62" stroke="#000" stroke-width="0.15">12 Apr 2019</text>
<text x="514.6" y="812.8" font-size="10" fill="#000" text-anchor="start" word-spacing="1.2" letter-spacing="-0.62" stroke="#000" stroke-width="0.15">1 May 2019</text>
<text x="578.6" y="812.8" font-size="10" fill="#000" text-anchor="start" word-spacing="1.2" letter-spacing="-0.62" stroke="#000" stroke-width="0.15">20 May 2019</text>
<text x="642.6" y="812.8" font-size="10" fill="#000" text-anchor="start" word-spacing="1.2" letter-spacing="-0.62" stroke="#000" stroke-width="0.15">7 Jun 2019</text>
<text x="706.6" y="812.8" font-size="10" fill="#000" text-anchor="start" word-spacing="1.2" letter-spacing="-0.62" stroke="#000" stroke-width="0.15">26 Jun 2019</text>
<text x="770.6" y="812.8" font-size="10" fill="#000" text-anchor="start" word-spacing="1.2" letter-spacing="-0.62" stroke="#000" stroke-width="0.15">15 Jul 2019</text>
<text x="834.6" y="812.8" font-size="10" fill="#000" text-anchor="start" word-spacing="1.2" letter-spacing="-0.62" stroke="#000" stroke-width="0.15">2 Aug 2019</text>
<text x="898.6" y="812.8" font-size="10" fill="#000" text-anchor="start" word-spacing="1.2" letter-spacing="-0.62" stroke="#000" stroke-width="0.15">21 Aug 2019</text>
<text x="962.6" y="812.8" font-size="10" fill="#000" text-anchor="start" word-spacing="1.2" letter-spacing="-0.62" stroke="#000" stroke-width="0.15">9 Sep 2019</text>
<text x="1026.6" y="812.8" font-size="10" fill="#000" text-anchor="start" word-spacing="1.2" letter-spacing="-0.62" stroke="#000" stroke-width="0.15">27 Sep 2019</text>
<text x="1090.6" y="812.8" font-size="10" fill="#000" text-anchor="start" word-spacing="1.2" letter-spacing="-0.62" stroke="#000" stroke-width="0.15">16 Oct 2019</text>
<text x="1154.6" y="812.8" font-size="10" fill="#000" text-anchor="start" word-spacing="1.2" letter-spacing="-0.62" stroke="#000" stroke-width="0.15">4 Nov 2019</text>
<text x="1218.6" y="812.8" font-size="10" fill="#000" text-anchor="start" word-spacing="1.2" letter-spacing="-0.62" stroke="#000" stroke-width="0.15">22 Nov 2019</text>
<text x="1282.6" y="812.8" font-size="10" fill="#000" text-anchor="start" word-spacing="1.2" letter-spacing="-0.62" stroke="#000" stroke-width="0.15">11 Dec 2019</text>
<rect x="209" y="823" width="104" height="19" fill="#ffffff"/>
<rect x="209" y="823" width="1" height="19" fill="#000"/>
<rect x="312" y="823" width="1" height="19" fill="#000"/>
<rect x="209" y="841" width="104" height="1" fill="#000"/>
<text x="17.2" y="838" font-size="12" fill="#6d6d6d" text-anchor="start">EURUSD,Daily</text>
<text x="119.5" y="838" font-size="12" fill="#6d6d6d" text-anchor="start">USDCHF,Daily</text>
<text x="220.6" y="838" font-size="12" fill="#000" text-anchor="start">AUDUSD,Daily</text>
<text x="324.5" y="838" font-size="12" fill="#6d6d6d" text-anchor="start">USDCAD,Daily</text>
<text x="427" y="838" font-size="12" fill="#6d6d6d" text-anchor="start">USDCNH,Daily</text>
<rect x="109" y="828" width="1" height="12" fill="#6d6d6d"/>
<rect x="417" y="828" width="1" height="12" fill="#6d6d6d"/>
<rect x="522" y="828" width="1" height="12" fill="#6d6d6d"/>
<polygon points="1699,832 1703,828 1703,836" fill="#a0a0a0"/>
<polygon points="1723,832 1719,828 1719,836" fill="#a0a0a0"/>
<rect x="295" y="0" width="24" height="16" fill="#f7f7f7"/>
<rect x="294" y="0" width="1" height="16" fill="#808080"/>
<text x="131.3" y="10" font-size="9.5" fill="#404040">M1</text>
<text x="159.1" y="10" font-size="9.5" fill="#404040">M5</text>
<text x="185.2" y="10" font-size="9.5" fill="#404040">M15</text>
<text x="213.4" y="10" font-size="9.5" fill="#404040">M30</text>
<text x="244.3" y="10" font-size="9.5" fill="#404040">H1</text>
<text x="271.3" y="10" font-size="9.5" fill="#404040">H4</text>
<text x="300.7" y="10" font-size="9.5" fill="#404040">D1</text>
<text x="327.8" y="10" font-size="9.5" fill="#404040">W1</text>
<text x="354.8" y="10" font-size="9.5" fill="#404040">MN</text>
<rect x="116" y="0" width="1" height="17" fill="#a0a0a0"/>
<rect x="117" y="0" width="1" height="17" fill="#ffffff"/>
<rect x="120" y="0" width="3" height="1" fill="#a8a8a8"/>
<rect x="120" y="2" width="3" height="1" fill="#a8a8a8"/>
<rect x="120" y="4" width="3" height="1" fill="#a8a8a8"/>
<rect x="120" y="6" width="3" height="1" fill="#a8a8a8"/>
<rect x="120" y="8" width="3" height="1" fill="#a8a8a8"/>
<rect x="120" y="10" width="3" height="1" fill="#a8a8a8"/>
<rect x="120" y="12" width="3" height="1" fill="#a8a8a8"/>
<rect x="120" y="14" width="3" height="1" fill="#a8a8a8"/>
<rect x="377" y="0" width="1" height="17" fill="#a0a0a0"/>
<rect x="378" y="0" width="1" height="17" fill="#ffffff"/>
<g shape-rendering="crispEdges">
<rect x="0" y="2" width="1" height="1" fill="#404040"/>
<rect x="2" y="2" width="1" height="1" fill="#404040"/>
<rect x="4" y="2" width="1" height="1" fill="#404040"/>
<rect x="6" y="2" width="1" height="1" fill="#404040"/>
<rect x="8" y="2" width="1" height="1" fill="#404040"/>
<rect x="10" y="2" width="1" height="1" fill="#404040"/>
<rect x="12" y="2" width="1" height="1" fill="#404040"/>
<rect x="0" y="6" width="1" height="1" fill="#404040"/>
<rect x="2" y="6" width="1" height="1" fill="#404040"/>
<rect x="4" y="6" width="1" height="1" fill="#404040"/>
<rect x="6" y="6" width="1" height="1" fill="#404040"/>
<rect x="8" y="6" width="1" height="1" fill="#404040"/>
<rect x="10" y="6" width="1" height="1" fill="#404040"/>
<rect x="12" y="6" width="1" height="1" fill="#404040"/>
<rect x="0" y="10" width="1" height="1" fill="#404040"/>
<rect x="2" y="10" width="1" height="1" fill="#404040"/>
<rect x="4" y="10" width="1" height="1" fill="#404040"/>
<rect x="6" y="10" width="1" height="1" fill="#404040"/>
<rect x="8" y="10" width="1" height="1" fill="#404040"/>
</g>
<g shape-rendering="crispEdges">
<rect x="10" y="10" width="1" height="5" fill="#383838"/>
<rect x="11" y="11" width="1" height="4" fill="#a8a8a8"/>
<rect x="11" y="10" width="3" height="1" fill="#404040"/>
<rect x="11" y="12" width="2" height="1" fill="#404040"/>
</g>
<text x="30.8" y="11" font-size="11.8" fill="#454545" stroke="#454545" stroke-width="0.45">A</text>
<g shape-rendering="crispEdges">
<rect x="57" y="0" width="1" height="1" fill="#404040"/>
<rect x="57" y="12" width="1" height="1" fill="#404040"/>
<rect x="59" y="0" width="1" height="1" fill="#404040"/>
<rect x="59" y="12" width="1" height="1" fill="#404040"/>
<rect x="61" y="0" width="1" height="1" fill="#404040"/>
<rect x="61" y="12" width="1" height="1" fill="#404040"/>
<rect x="63" y="0" width="1" height="1" fill="#404040"/>
<rect x="63" y="12" width="1" height="1" fill="#404040"/>
<rect x="65" y="0" width="1" height="1" fill="#404040"/>
<rect x="65" y="12" width="1" height="1" fill="#404040"/>
<rect x="67" y="0" width="1" height="1" fill="#404040"/>
<rect x="67" y="12" width="1" height="1" fill="#404040"/>
<rect x="57" y="2" width="1" height="1" fill="#404040"/>
<rect x="68" y="2" width="1" height="1" fill="#404040"/>
<rect x="57" y="4" width="1" height="1" fill="#404040"/>
<rect x="68" y="4" width="1" height="1" fill="#404040"/>
<rect x="57" y="6" width="1" height="1" fill="#404040"/>
<rect x="68" y="6" width="1" height="1" fill="#404040"/>
<rect x="57" y="8" width="1" height="1" fill="#404040"/>
<rect x="68" y="8" width="1" height="1" fill="#404040"/>
<rect x="57" y="10" width="1" height="1" fill="#404040"/>
<rect x="68" y="10" width="1" height="1" fill="#404040"/>
<rect x="59" y="3" width="8" height="1" fill="#4a4a4a"/>
<rect x="62" y="3" width="2" height="8" fill="#4a4a4a"/>
</g>
<polygon points="84,3.6 87.5,0 91,3.6 89.2,3.6 89.2,4.8 85.8,4.8 85.8,3.6" fill="#4a4a4a"/>
<polyline points="86.3,7.3 88.3,9.5 92.6,4.4" fill="none" stroke="#4a4a4a" stroke-width="1.1"/>
<polygon points="92.8,8 96.2,8 96.2,9.2 98,9.2 94.5,13 91,9.2 92.8,9.2" fill="#4a4a4a"/>
<polygon points="105,5 110.5,5 107.75,8" fill="#000"/>
</svg></body></html>
